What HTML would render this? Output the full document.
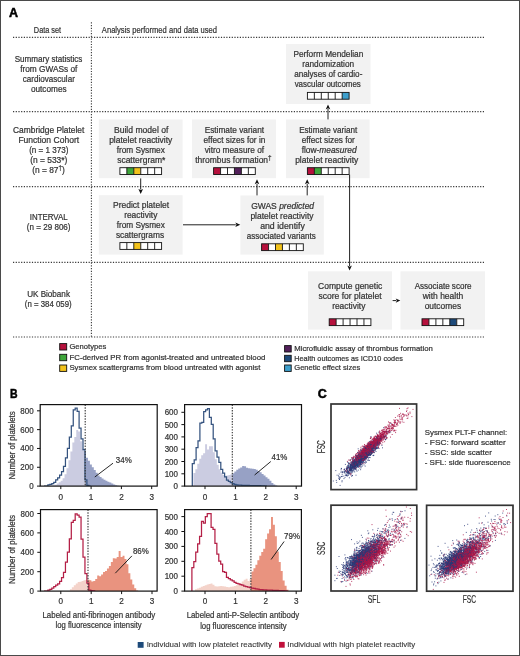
<!DOCTYPE html>
<html><head><meta charset="utf-8"><style>
html,body{margin:0;padding:0;background:#fff;}
body{width:520px;height:656px;overflow:hidden;}
svg{display:block;font-family:"Liberation Sans", sans-serif;}
</style></head><body>
<div style="will-change:transform">
<svg width="520" height="656" viewBox="0 0 520 656" fill="#333">
<rect x="0" y="0" width="520" height="656" fill="#fff"/>
<text x="9.1" y="16.5" font-size="12.5" font-weight="bold" fill="#000" stroke="#000" stroke-width="0.5">A</text>
<text x="47.5" y="32.9" font-size="9.4" text-anchor="middle" stroke="#333" stroke-width="0.22" textLength="27.30" lengthAdjust="spacingAndGlyphs">Data set</text>
<text x="159.45" y="33.0" font-size="9.4" text-anchor="middle" stroke="#333" stroke-width="0.22" textLength="115.20" lengthAdjust="spacingAndGlyphs">Analysis performed and data used</text>
<line x1="13" y1="37.4" x2="485" y2="37.4" stroke="#3a3a3a" stroke-width="1.1" stroke-dasharray="1.2 1.5"/>
<line x1="13" y1="111.6" x2="485" y2="111.6" stroke="#3a3a3a" stroke-width="1.1" stroke-dasharray="1.2 1.5"/>
<line x1="13" y1="186.6" x2="485" y2="186.6" stroke="#3a3a3a" stroke-width="1.1" stroke-dasharray="1.2 1.5"/>
<line x1="13" y1="262.4" x2="485" y2="262.4" stroke="#3a3a3a" stroke-width="1.1" stroke-dasharray="1.2 1.5"/>
<line x1="13" y1="337.0" x2="485" y2="337.0" stroke="#3a3a3a" stroke-width="1.1" stroke-dasharray="1.2 1.5"/>
<line x1="91.4" y1="22.3" x2="91.4" y2="337" stroke="#3a3a3a" stroke-width="1.1" stroke-dasharray="1.2 1.5"/>
<text x="48.5" y="62.4" font-size="8.7" text-anchor="middle" stroke="#333" stroke-width="0.22" textLength="67.70" lengthAdjust="spacingAndGlyphs">Summary statistics</text>
<text x="48.75" y="72.4" font-size="8.7" text-anchor="middle" stroke="#333" stroke-width="0.22" textLength="57.20" lengthAdjust="spacingAndGlyphs">from GWASs of</text>
<text x="48.75" y="82.4" font-size="8.7" text-anchor="middle" stroke="#333" stroke-width="0.22" textLength="52.20" lengthAdjust="spacingAndGlyphs">cardiovascular</text>
<text x="48.75" y="92.4" font-size="8.7" text-anchor="middle" stroke="#333" stroke-width="0.22" textLength="35.70" lengthAdjust="spacingAndGlyphs">outcomes</text>
<text x="48.7" y="132.7" font-size="8.7" text-anchor="middle" stroke="#333" stroke-width="0.22" textLength="71.30" lengthAdjust="spacingAndGlyphs">Cambridge Platelet</text>
<text x="48.75" y="142.7" font-size="8.7" text-anchor="middle" stroke="#333" stroke-width="0.22" textLength="60.70" lengthAdjust="spacingAndGlyphs">Function Cohort</text>
<text x="48.75" y="152.7" font-size="8.7" text-anchor="middle" stroke="#333" stroke-width="0.22" textLength="39.20" lengthAdjust="spacingAndGlyphs">(n = 1 373)</text>
<text x="48.75" y="162.7" font-size="8.7" text-anchor="middle" stroke="#333" stroke-width="0.22" textLength="37.20" lengthAdjust="spacingAndGlyphs">(n = 533*)</text>
<text x="48.5" y="172.7" font-size="8.7" text-anchor="middle" stroke="#333" stroke-width="0.22" textLength="32.70" lengthAdjust="spacingAndGlyphs">(n = 87<tspan font-size="6.5" dy="-2.8">†</tspan><tspan dy="2.8">)</tspan></text>
<text x="48.75" y="219.9" font-size="8.7" text-anchor="middle" stroke="#333" stroke-width="0.22" textLength="37.80" lengthAdjust="spacingAndGlyphs">INTERVAL</text>
<text x="48.7" y="229.9" font-size="8.7" text-anchor="middle" stroke="#333" stroke-width="0.22" textLength="43.70" lengthAdjust="spacingAndGlyphs">(n = 29 806)</text>
<text x="48.55" y="296.9" font-size="8.7" text-anchor="middle" stroke="#333" stroke-width="0.22" textLength="42.80" lengthAdjust="spacingAndGlyphs">UK Biobank</text>
<text x="48.25" y="306.7" font-size="8.7" text-anchor="middle" stroke="#333" stroke-width="0.22" textLength="46.80" lengthAdjust="spacingAndGlyphs">(n = 384 059)</text>
<rect x="286" y="44" width="84.50" height="60.00" fill="#f2f2f2"/>
<text x="328.38" y="57.3" font-size="8.7" text-anchor="middle" stroke="#333" stroke-width="0.22" textLength="69.95" lengthAdjust="spacingAndGlyphs">Perform Mendelian</text>
<text x="328.12" y="67.3" font-size="8.7" text-anchor="middle" stroke="#333" stroke-width="0.22" textLength="51.95" lengthAdjust="spacingAndGlyphs">randomization</text>
<text x="328.25" y="77.3" font-size="8.7" text-anchor="middle" stroke="#333" stroke-width="0.22" textLength="68.20" lengthAdjust="spacingAndGlyphs">analyses of cardio-</text>
<text x="327.75" y="87.3" font-size="8.7" text-anchor="middle" stroke="#333" stroke-width="0.22" textLength="66.20" lengthAdjust="spacingAndGlyphs">vascular outcomes</text>
<rect x="307.40" y="92.4" width="6.95" height="6.8" fill="#ffffff"/>
<rect x="314.35" y="92.4" width="6.95" height="6.8" fill="#ffffff"/>
<rect x="321.30" y="92.4" width="6.95" height="6.8" fill="#ffffff"/>
<rect x="328.25" y="92.4" width="6.95" height="6.8" fill="#ffffff"/>
<rect x="335.20" y="92.4" width="6.95" height="6.8" fill="#ffffff"/>
<rect x="342.15" y="92.4" width="6.95" height="6.8" fill="#3d9fcc"/>
<rect x="307.4" y="92.4" width="41.70" height="6.8" fill="none" stroke="#111" stroke-width="0.9"/>
<line x1="314.35" y1="92.4" x2="314.35" y2="99.2" stroke="#111" stroke-width="0.9"/>
<line x1="321.30" y1="92.4" x2="321.30" y2="99.2" stroke="#111" stroke-width="0.9"/>
<line x1="328.25" y1="92.4" x2="328.25" y2="99.2" stroke="#111" stroke-width="0.9"/>
<line x1="335.20" y1="92.4" x2="335.20" y2="99.2" stroke="#111" stroke-width="0.9"/>
<line x1="342.15" y1="92.4" x2="342.15" y2="99.2" stroke="#111" stroke-width="0.9"/>
<rect x="98.8" y="119.5" width="83.80" height="58.70" fill="#f2f2f2"/>
<text x="141.15" y="132.6" font-size="8.7" text-anchor="middle" stroke="#333" stroke-width="0.22" textLength="54.40" lengthAdjust="spacingAndGlyphs">Build model of</text>
<text x="140.75" y="142.6" font-size="8.7" text-anchor="middle" stroke="#333" stroke-width="0.22" textLength="63.20" lengthAdjust="spacingAndGlyphs">platelet reactivity</text>
<text x="140.75" y="152.6" font-size="8.7" text-anchor="middle" stroke="#333" stroke-width="0.22" textLength="48.20" lengthAdjust="spacingAndGlyphs">from Sysmex</text>
<text x="141.25" y="162.6" font-size="8.7" text-anchor="middle" stroke="#333" stroke-width="0.22" textLength="48.20" lengthAdjust="spacingAndGlyphs">scattergram*</text>
<rect x="119.90" y="167.7" width="6.95" height="6.8" fill="#ffffff"/>
<rect x="126.85" y="167.7" width="6.95" height="6.8" fill="#3da63a"/>
<rect x="133.80" y="167.7" width="6.95" height="6.8" fill="#f2c21b"/>
<rect x="140.75" y="167.7" width="6.95" height="6.8" fill="#ffffff"/>
<rect x="147.70" y="167.7" width="6.95" height="6.8" fill="#ffffff"/>
<rect x="154.65" y="167.7" width="6.95" height="6.8" fill="#ffffff"/>
<rect x="119.9" y="167.7" width="41.70" height="6.8" fill="none" stroke="#111" stroke-width="0.9"/>
<line x1="126.85" y1="167.7" x2="126.85" y2="174.5" stroke="#111" stroke-width="0.9"/>
<line x1="133.80" y1="167.7" x2="133.80" y2="174.5" stroke="#111" stroke-width="0.9"/>
<line x1="140.75" y1="167.7" x2="140.75" y2="174.5" stroke="#111" stroke-width="0.9"/>
<line x1="147.70" y1="167.7" x2="147.70" y2="174.5" stroke="#111" stroke-width="0.9"/>
<line x1="154.65" y1="167.7" x2="154.65" y2="174.5" stroke="#111" stroke-width="0.9"/>
<rect x="192" y="119.5" width="84.00" height="58.70" fill="#f2f2f2"/>
<text x="234.38" y="132.6" font-size="8.7" text-anchor="middle" stroke="#333" stroke-width="0.22" textLength="59.45" lengthAdjust="spacingAndGlyphs">Estimate variant</text>
<text x="234.38" y="142.6" font-size="8.7" text-anchor="middle" stroke="#333" stroke-width="0.22" textLength="61.95" lengthAdjust="spacingAndGlyphs">effect sizes for in</text>
<text x="234.38" y="152.6" font-size="8.7" text-anchor="middle" stroke="#333" stroke-width="0.22" textLength="59.45" lengthAdjust="spacingAndGlyphs">vitro measure of</text>
<text x="233.38" y="162.6" font-size="8.7" text-anchor="middle" stroke="#333" stroke-width="0.22" textLength="76.45" lengthAdjust="spacingAndGlyphs">thrombus formation<tspan font-size="6.5" dy="-2.8">†</tspan></text>
<rect x="213.60" y="167.7" width="6.95" height="6.8" fill="#b5103c"/>
<rect x="220.55" y="167.7" width="6.95" height="6.8" fill="#ffffff"/>
<rect x="227.50" y="167.7" width="6.95" height="6.8" fill="#ffffff"/>
<rect x="234.45" y="167.7" width="6.95" height="6.8" fill="#52205a"/>
<rect x="241.40" y="167.7" width="6.95" height="6.8" fill="#ffffff"/>
<rect x="248.35" y="167.7" width="6.95" height="6.8" fill="#ffffff"/>
<rect x="213.6" y="167.7" width="41.70" height="6.8" fill="none" stroke="#111" stroke-width="0.9"/>
<line x1="220.55" y1="167.7" x2="220.55" y2="174.5" stroke="#111" stroke-width="0.9"/>
<line x1="227.50" y1="167.7" x2="227.50" y2="174.5" stroke="#111" stroke-width="0.9"/>
<line x1="234.45" y1="167.7" x2="234.45" y2="174.5" stroke="#111" stroke-width="0.9"/>
<line x1="241.40" y1="167.7" x2="241.40" y2="174.5" stroke="#111" stroke-width="0.9"/>
<line x1="248.35" y1="167.7" x2="248.35" y2="174.5" stroke="#111" stroke-width="0.9"/>
<rect x="286" y="119.5" width="83.60" height="58.70" fill="#f2f2f2"/>
<text x="328.25" y="132.6" font-size="8.7" text-anchor="middle" stroke="#333" stroke-width="0.22" textLength="58.20" lengthAdjust="spacingAndGlyphs">Estimate variant</text>
<text x="328.25" y="142.6" font-size="8.7" text-anchor="middle" stroke="#333" stroke-width="0.22" textLength="53.20" lengthAdjust="spacingAndGlyphs">effect sizes for</text>
<text x="329.12" y="152.6" font-size="8.7" text-anchor="middle" stroke="#333" stroke-width="0.22" textLength="54.95" lengthAdjust="spacingAndGlyphs">flow-<tspan font-style="italic">measured</tspan></text>
<text x="326.75" y="162.6" font-size="8.7" text-anchor="middle" stroke="#333" stroke-width="0.22" textLength="63.20" lengthAdjust="spacingAndGlyphs">platelet reactivity</text>
<rect x="307.40" y="167.7" width="6.95" height="6.8" fill="#b5103c"/>
<rect x="314.35" y="167.7" width="6.95" height="6.8" fill="#3da63a"/>
<rect x="321.30" y="167.7" width="6.95" height="6.8" fill="#ffffff"/>
<rect x="328.25" y="167.7" width="6.95" height="6.8" fill="#ffffff"/>
<rect x="335.20" y="167.7" width="6.95" height="6.8" fill="#ffffff"/>
<rect x="342.15" y="167.7" width="6.95" height="6.8" fill="#ffffff"/>
<rect x="307.4" y="167.7" width="41.70" height="6.8" fill="none" stroke="#111" stroke-width="0.9"/>
<line x1="314.35" y1="167.7" x2="314.35" y2="174.5" stroke="#111" stroke-width="0.9"/>
<line x1="321.30" y1="167.7" x2="321.30" y2="174.5" stroke="#111" stroke-width="0.9"/>
<line x1="328.25" y1="167.7" x2="328.25" y2="174.5" stroke="#111" stroke-width="0.9"/>
<line x1="335.20" y1="167.7" x2="335.20" y2="174.5" stroke="#111" stroke-width="0.9"/>
<line x1="342.15" y1="167.7" x2="342.15" y2="174.5" stroke="#111" stroke-width="0.9"/>
<rect x="98.8" y="195.2" width="83.80" height="59.40" fill="#f2f2f2"/>
<text x="141.07" y="207.7" font-size="8.7" text-anchor="middle" stroke="#333" stroke-width="0.22" textLength="56.05" lengthAdjust="spacingAndGlyphs">Predict platelet</text>
<text x="140.75" y="217.7" font-size="8.7" text-anchor="middle" stroke="#333" stroke-width="0.22" textLength="33.20" lengthAdjust="spacingAndGlyphs">reactivity</text>
<text x="140.75" y="227.7" font-size="8.7" text-anchor="middle" stroke="#333" stroke-width="0.22" textLength="48.20" lengthAdjust="spacingAndGlyphs">from Sysmex</text>
<text x="140.0" y="237.7" font-size="8.7" text-anchor="middle" stroke="#333" stroke-width="0.22" textLength="48.20" lengthAdjust="spacingAndGlyphs">scattergrams</text>
<rect x="119.90" y="242.6" width="6.95" height="6.8" fill="#ffffff"/>
<rect x="126.85" y="242.6" width="6.95" height="6.8" fill="#ffffff"/>
<rect x="133.80" y="242.6" width="6.95" height="6.8" fill="#f2c21b"/>
<rect x="140.75" y="242.6" width="6.95" height="6.8" fill="#ffffff"/>
<rect x="147.70" y="242.6" width="6.95" height="6.8" fill="#ffffff"/>
<rect x="154.65" y="242.6" width="6.95" height="6.8" fill="#ffffff"/>
<rect x="119.9" y="242.6" width="41.70" height="6.8" fill="none" stroke="#111" stroke-width="0.9"/>
<line x1="126.85" y1="242.6" x2="126.85" y2="249.4" stroke="#111" stroke-width="0.9"/>
<line x1="133.80" y1="242.6" x2="133.80" y2="249.4" stroke="#111" stroke-width="0.9"/>
<line x1="140.75" y1="242.6" x2="140.75" y2="249.4" stroke="#111" stroke-width="0.9"/>
<line x1="147.70" y1="242.6" x2="147.70" y2="249.4" stroke="#111" stroke-width="0.9"/>
<line x1="154.65" y1="242.6" x2="154.65" y2="249.4" stroke="#111" stroke-width="0.9"/>
<rect x="240.4" y="195.5" width="83.40" height="59.10" fill="#f2f2f2"/>
<text x="282.62" y="208.6" font-size="8.7" text-anchor="middle" stroke="#333" stroke-width="0.22" textLength="62.95" lengthAdjust="spacingAndGlyphs">GWAS <tspan font-style="italic">predicted</tspan></text>
<text x="282.0" y="218.6" font-size="8.7" text-anchor="middle" stroke="#333" stroke-width="0.22" textLength="63.20" lengthAdjust="spacingAndGlyphs">platelet reactivity</text>
<text x="282.5" y="228.6" font-size="8.7" text-anchor="middle" stroke="#333" stroke-width="0.22" textLength="44.70" lengthAdjust="spacingAndGlyphs">and identify</text>
<text x="281.25" y="238.6" font-size="8.7" text-anchor="middle" stroke="#333" stroke-width="0.22" textLength="69.20" lengthAdjust="spacingAndGlyphs">associated variants</text>
<rect x="261.60" y="243.8" width="6.95" height="6.8" fill="#b5103c"/>
<rect x="268.55" y="243.8" width="6.95" height="6.8" fill="#ffffff"/>
<rect x="275.50" y="243.8" width="6.95" height="6.8" fill="#f2c21b"/>
<rect x="282.45" y="243.8" width="6.95" height="6.8" fill="#ffffff"/>
<rect x="289.40" y="243.8" width="6.95" height="6.8" fill="#ffffff"/>
<rect x="296.35" y="243.8" width="6.95" height="6.8" fill="#ffffff"/>
<rect x="261.6" y="243.8" width="41.70" height="6.8" fill="none" stroke="#111" stroke-width="0.9"/>
<line x1="268.55" y1="243.8" x2="268.55" y2="250.60000000000002" stroke="#111" stroke-width="0.9"/>
<line x1="275.50" y1="243.8" x2="275.50" y2="250.60000000000002" stroke="#111" stroke-width="0.9"/>
<line x1="282.45" y1="243.8" x2="282.45" y2="250.60000000000002" stroke="#111" stroke-width="0.9"/>
<line x1="289.40" y1="243.8" x2="289.40" y2="250.60000000000002" stroke="#111" stroke-width="0.9"/>
<line x1="296.35" y1="243.8" x2="296.35" y2="250.60000000000002" stroke="#111" stroke-width="0.9"/>
<rect x="308" y="271.3" width="84.00" height="58.30" fill="#f2f2f2"/>
<text x="350.2" y="288.5" font-size="8.7" text-anchor="middle" stroke="#333" stroke-width="0.22" textLength="64.30" lengthAdjust="spacingAndGlyphs">Compute genetic</text>
<text x="350.0" y="298.5" font-size="8.7" text-anchor="middle" stroke="#333" stroke-width="0.22" textLength="63.20" lengthAdjust="spacingAndGlyphs">score for platelet</text>
<text x="348.75" y="308.5" font-size="8.7" text-anchor="middle" stroke="#333" stroke-width="0.22" textLength="33.20" lengthAdjust="spacingAndGlyphs">reactivity</text>
<rect x="329.20" y="318.8" width="6.95" height="6.8" fill="#b5103c"/>
<rect x="336.15" y="318.8" width="6.95" height="6.8" fill="#ffffff"/>
<rect x="343.10" y="318.8" width="6.95" height="6.8" fill="#ffffff"/>
<rect x="350.05" y="318.8" width="6.95" height="6.8" fill="#ffffff"/>
<rect x="357.00" y="318.8" width="6.95" height="6.8" fill="#ffffff"/>
<rect x="363.95" y="318.8" width="6.95" height="6.8" fill="#ffffff"/>
<rect x="329.2" y="318.8" width="41.70" height="6.8" fill="none" stroke="#111" stroke-width="0.9"/>
<line x1="336.15" y1="318.8" x2="336.15" y2="325.6" stroke="#111" stroke-width="0.9"/>
<line x1="343.10" y1="318.8" x2="343.10" y2="325.6" stroke="#111" stroke-width="0.9"/>
<line x1="350.05" y1="318.8" x2="350.05" y2="325.6" stroke="#111" stroke-width="0.9"/>
<line x1="357.00" y1="318.8" x2="357.00" y2="325.6" stroke="#111" stroke-width="0.9"/>
<line x1="363.95" y1="318.8" x2="363.95" y2="325.6" stroke="#111" stroke-width="0.9"/>
<rect x="400.5" y="271.3" width="84.50" height="58.30" fill="#f2f2f2"/>
<text x="443.12" y="288.5" font-size="8.7" text-anchor="middle" stroke="#333" stroke-width="0.22" textLength="56.95" lengthAdjust="spacingAndGlyphs">Associate score</text>
<text x="443.0" y="298.5" font-size="8.7" text-anchor="middle" stroke="#333" stroke-width="0.22" textLength="40.70" lengthAdjust="spacingAndGlyphs">with health</text>
<text x="442.88" y="308.5" font-size="8.7" text-anchor="middle" stroke="#333" stroke-width="0.22" textLength="36.45" lengthAdjust="spacingAndGlyphs">outcomes</text>
<rect x="422.00" y="318.8" width="6.95" height="6.8" fill="#b5103c"/>
<rect x="428.95" y="318.8" width="6.95" height="6.8" fill="#ffffff"/>
<rect x="435.90" y="318.8" width="6.95" height="6.8" fill="#ffffff"/>
<rect x="442.85" y="318.8" width="6.95" height="6.8" fill="#ffffff"/>
<rect x="449.80" y="318.8" width="6.95" height="6.8" fill="#1d4a7a"/>
<rect x="456.75" y="318.8" width="6.95" height="6.8" fill="#ffffff"/>
<rect x="422" y="318.8" width="41.70" height="6.8" fill="none" stroke="#111" stroke-width="0.9"/>
<line x1="428.95" y1="318.8" x2="428.95" y2="325.6" stroke="#111" stroke-width="0.9"/>
<line x1="435.90" y1="318.8" x2="435.90" y2="325.6" stroke="#111" stroke-width="0.9"/>
<line x1="442.85" y1="318.8" x2="442.85" y2="325.6" stroke="#111" stroke-width="0.9"/>
<line x1="449.80" y1="318.8" x2="449.80" y2="325.6" stroke="#111" stroke-width="0.9"/>
<line x1="456.75" y1="318.8" x2="456.75" y2="325.6" stroke="#111" stroke-width="0.9"/>
<line x1="140.7" y1="178.4" x2="140.70" y2="189.40" stroke="#222" stroke-width="1"/>
<path d="M140.70 193.90L138.40 188.90L140.70 190.10L143.00 188.90Z" fill="#111"/>
<line x1="257" y1="195.4" x2="257.00" y2="183.80" stroke="#222" stroke-width="1"/>
<path d="M257.00 179.30L259.30 184.30L257.00 183.10L254.70 184.30Z" fill="#111"/>
<line x1="307.2" y1="195.4" x2="307.20" y2="183.80" stroke="#222" stroke-width="1"/>
<path d="M307.20 179.30L309.50 184.30L307.20 183.10L304.90 184.30Z" fill="#111"/>
<line x1="328" y1="119.4" x2="328.00" y2="108.90" stroke="#222" stroke-width="1"/>
<path d="M328.00 104.40L330.30 109.40L328.00 108.20L325.70 109.40Z" fill="#111"/>
<line x1="183" y1="224.8" x2="235.80" y2="224.80" stroke="#222" stroke-width="1"/>
<path d="M240.30 224.80L235.30 227.10L236.50 224.80L235.30 222.50Z" fill="#111"/>
<line x1="349.6" y1="174.6" x2="349.60" y2="266.10" stroke="#222" stroke-width="1"/>
<path d="M349.60 270.60L347.30 265.60L349.60 266.80L351.90 265.60Z" fill="#111"/>
<line x1="392.6" y1="300.6" x2="396.20" y2="300.60" stroke="#222" stroke-width="1"/>
<path d="M400.30 300.60L395.70 302.80L396.90 300.60L395.70 298.40Z" fill="#111"/>
<rect x="59.7" y="343.60" width="7" height="6.4" fill="#b5103c" stroke="#111" stroke-width="0.9"/>
<text x="87.85" y="348.8" font-size="8.0" text-anchor="middle" stroke="#333" stroke-width="0.22" textLength="36.80" lengthAdjust="spacingAndGlyphs">Genotypes</text>
<rect x="59.7" y="354.30" width="7" height="6.4" fill="#3da63a" stroke="#111" stroke-width="0.9"/>
<text x="167.4" y="359.5" font-size="8.0" text-anchor="middle" stroke="#333" stroke-width="0.22" textLength="195.90" lengthAdjust="spacingAndGlyphs">FC-derived PR from agonist-treated and untreated blood</text>
<rect x="59.7" y="365.00" width="7" height="6.4" fill="#f2c21b" stroke="#111" stroke-width="0.9"/>
<text x="164.9" y="370.2" font-size="8.0" text-anchor="middle" stroke="#333" stroke-width="0.22" textLength="190.90" lengthAdjust="spacingAndGlyphs">Sysmex scattergrams from blood untreated with agonist</text>
<rect x="284.6" y="345.60" width="6.6" height="6.4" fill="#52205a" stroke="#111" stroke-width="0.9"/>
<text x="363.55" y="351.0" font-size="8.0" text-anchor="middle" stroke="#333" stroke-width="0.22" textLength="138.60" lengthAdjust="spacingAndGlyphs">Microfluidic assay of thrombus formation</text>
<rect x="284.6" y="355.30" width="6.6" height="6.4" fill="#1d4a7a" stroke="#111" stroke-width="0.9"/>
<text x="348.55" y="360.7" font-size="8.0" text-anchor="middle" stroke="#333" stroke-width="0.22" textLength="108.60" lengthAdjust="spacingAndGlyphs">Health outcomes as ICD10 codes</text>
<rect x="284.6" y="365.00" width="6.6" height="6.4" fill="#3d9fcc" stroke="#111" stroke-width="0.9"/>
<text x="327.3" y="370.4" font-size="8.0" text-anchor="middle" stroke="#333" stroke-width="0.22" textLength="66.10" lengthAdjust="spacingAndGlyphs">Genetic effect sizes</text>
<text x="0" y="0" font-size="12.5" font-weight="bold" fill="#000" stroke="#000" stroke-width="0.5" transform="translate(10.1 397.9) scale(0.84 1)">B</text>
<defs><clipPath id="c40404"><rect x="40.2" y="404.6" width="116.99999999999999" height="81.5"/></clipPath></defs>
<g clip-path="url(#c40404)">
<path d="M47.00 486.1L47.00 486.10L48.95 486.10L48.95 486.10L50.90 486.10L50.90 485.55L52.85 485.55L52.85 485.27L54.80 485.27L54.80 484.66L56.75 484.66L56.75 483.54L58.70 483.54L58.70 482.24L60.65 482.24L60.65 480.81L62.60 480.81L62.60 478.30L64.55 478.30L64.55 474.33L66.50 474.33L66.50 468.27L68.45 468.27L68.45 460.36L70.40 460.36L70.40 451.53L72.35 451.53L72.35 442.56L74.30 442.56L74.30 436.95L76.25 436.95L76.25 430.11L78.20 430.11L78.20 431.58L80.15 431.58L80.15 441.33L82.10 441.33L82.10 448.76L84.05 448.76L84.05 451.98L85.20 451.98L85.20 486.1Z" fill="#cbcce1"/>
<path d="M85.20 486.1L85.20 451.98L86.00 451.98L86.00 457.76L87.95 457.76L87.95 460.69L89.90 460.69L89.90 464.45L91.85 464.45L91.85 467.17L93.80 467.17L93.80 470.11L95.75 470.11L95.75 472.83L97.70 472.83L97.70 475.38L99.65 475.38L99.65 477.03L101.60 477.03L101.60 478.39L103.55 478.39L103.55 479.71L105.50 479.71L105.50 480.80L107.45 480.80L107.45 481.72L109.40 481.72L109.40 482.59L111.35 482.59L111.35 483.56L113.30 483.56L113.30 484.54L115.25 484.54L115.25 485.16L117.20 485.16L117.20 485.71L119.15 485.71L119.15 486.10L121.10 486.10L121.10 486.1Z" fill="#97a1c5"/>
<path d="M44.00 486.1L44.00 486.10L45.95 486.10L45.95 486.10L47.90 486.10L47.90 484.90L49.85 484.90L49.85 484.31L51.80 484.31L51.80 483.61L53.75 483.61L53.75 482.29L55.70 482.29L55.70 479.92L57.65 479.92L57.65 477.80L59.60 477.80L59.60 475.14L61.55 475.14L61.55 471.65L63.50 471.65L63.50 466.38L65.45 466.38L65.45 457.94L67.40 457.94L67.40 448.35L69.35 448.35L69.35 437.16L71.30 437.16L71.30 425.94L73.25 425.94L73.25 409.84L75.20 409.84L75.20 408.06L77.15 408.06L77.15 411.36L79.10 411.36L79.10 428.17L81.05 428.17L81.05 438.79L83.00 438.79L83.00 449.64L84.95 449.64L84.95 479.98L86.90 479.98L86.90 485.31L88.85 485.31L88.85 486.10L90.80 486.10L90.80 486.1" fill="none" stroke="#35537f" stroke-width="1.25"/>
<line x1="85.2" y1="404.6" x2="85.2" y2="486.1" stroke="#333" stroke-width="1.1" stroke-dasharray="1.4 1.33"/>
</g>
<rect x="40.2" y="404.6" width="116.99999999999999" height="81.5" fill="none" stroke="#111" stroke-width="1.2"/>
<line x1="60.80" y1="486.1" x2="60.80" y2="489.1" stroke="#111" stroke-width="1"/>
<text x="0" y="0" font-size="8.6" text-anchor="middle" stroke="#333" stroke-width="0.22" transform="translate(60.8 500.3) scale(0.95 1)">0</text>
<line x1="91.10" y1="486.1" x2="91.10" y2="489.1" stroke="#111" stroke-width="1"/>
<text x="0" y="0" font-size="8.6" text-anchor="middle" stroke="#333" stroke-width="0.22" transform="translate(91.1 500.3) scale(0.95 1)">1</text>
<line x1="121.40" y1="486.1" x2="121.40" y2="489.1" stroke="#111" stroke-width="1"/>
<text x="0" y="0" font-size="8.6" text-anchor="middle" stroke="#333" stroke-width="0.22" transform="translate(121.4 500.3) scale(0.95 1)">2</text>
<line x1="151.70" y1="486.1" x2="151.70" y2="489.1" stroke="#111" stroke-width="1"/>
<text x="0" y="0" font-size="8.6" text-anchor="middle" stroke="#333" stroke-width="0.22" transform="translate(151.7 500.3) scale(0.95 1)">3</text>
<line x1="37.0" y1="486.10" x2="40.2" y2="486.10" stroke="#111" stroke-width="1"/>
<text x="0" y="0" font-size="8.6" text-anchor="end" stroke="#333" stroke-width="0.22" transform="translate(33.6 489.1) scale(0.93 1)">0</text>
<line x1="37.0" y1="467.28" x2="40.2" y2="467.28" stroke="#111" stroke-width="1"/>
<text x="0" y="0" font-size="8.6" text-anchor="end" stroke="#333" stroke-width="0.22" transform="translate(33.6 470.28) scale(0.93 1)">200</text>
<line x1="37.0" y1="448.46" x2="40.2" y2="448.46" stroke="#111" stroke-width="1"/>
<text x="0" y="0" font-size="8.6" text-anchor="end" stroke="#333" stroke-width="0.22" transform="translate(33.6 451.46) scale(0.93 1)">400</text>
<line x1="37.0" y1="429.64" x2="40.2" y2="429.64" stroke="#111" stroke-width="1"/>
<text x="0" y="0" font-size="8.6" text-anchor="end" stroke="#333" stroke-width="0.22" transform="translate(33.6 432.64) scale(0.93 1)">600</text>
<line x1="37.0" y1="410.82" x2="40.2" y2="410.82" stroke="#111" stroke-width="1"/>
<text x="0" y="0" font-size="8.6" text-anchor="end" stroke="#333" stroke-width="0.22" transform="translate(33.6 413.82) scale(0.93 1)">800</text>
<text x="115.8" y="463.4" font-size="8.7" stroke="#333" stroke-width="0.22" textLength="15.90" lengthAdjust="spacingAndGlyphs">34%</text>
<line x1="113.0" y1="463.2" x2="94.8" y2="477.0" stroke="#111" stroke-width="0.9"/>
<defs><clipPath id="c184404"><rect x="184.6" y="404.6" width="116.9" height="81.5"/></clipPath></defs>
<g clip-path="url(#c184404)">
<path d="M193.40 486.1L193.40 472.96L195.35 472.96L195.35 469.13L197.30 469.13L197.30 463.83L199.25 463.83L199.25 458.82L201.20 458.82L201.20 455.13L203.15 455.13L203.15 453.18L205.10 453.18L205.10 444.34L207.05 444.34L207.05 449.55L209.00 449.55L209.00 446.14L210.95 446.14L210.95 446.15L212.90 446.15L212.90 452.32L214.85 452.32L214.85 459.19L216.80 459.19L216.80 464.80L218.75 464.80L218.75 469.19L220.70 469.19L220.70 472.71L222.65 472.71L222.65 475.11L224.60 475.11L224.60 475.70L226.55 475.70L226.55 475.56L228.50 475.56L228.50 474.98L230.45 474.98L230.45 474.33L232.30 474.33L232.30 486.1Z" fill="#cbcce1"/>
<path d="M232.30 486.1L232.30 474.33L232.40 474.33L232.40 473.28L234.35 473.28L234.35 471.49L236.30 471.49L236.30 469.69L238.25 469.69L238.25 468.54L240.20 468.54L240.20 467.56L242.15 467.56L242.15 465.96L244.10 465.96L244.10 466.21L246.05 466.21L246.05 467.82L248.00 467.82L248.00 468.16L249.95 468.16L249.95 468.50L251.90 468.50L251.90 468.80L253.85 468.80L253.85 469.10L255.80 469.10L255.80 469.69L257.75 469.69L257.75 471.00L259.70 471.00L259.70 472.32L261.65 472.32L261.65 473.95L263.60 473.95L263.60 475.60L265.55 475.60L265.55 477.23L267.50 477.23L267.50 478.84L269.45 478.84L269.45 480.64L271.40 480.64L271.40 483.11L273.35 483.11L273.35 484.61L275.30 484.61L275.30 485.58L277.25 485.58L277.25 486.10L279.20 486.10L279.20 486.1Z" fill="#97a1c5"/>
<path d="M192.30 486.1L192.30 463.60L194.20 463.60L194.20 459.80L196.10 459.80L196.10 447.70L198.00 447.70L198.00 440.80L199.90 440.80L199.90 423.10L201.80 423.10L201.80 422.40L203.70 422.40L203.70 411.70L205.60 411.70L205.60 409.80L207.50 409.80L207.50 408.50L209.40 408.50L209.40 417.40L211.30 417.40L211.30 424.30L213.20 424.30L213.20 438.90L215.10 438.90L215.10 450.90L217.00 450.90L217.00 457.20L218.90 457.20L218.90 462.30L220.80 462.30L220.80 469.30L222.70 469.30L222.70 473.10L224.60 473.10L224.60 476.90L226.50 476.90L226.50 480.00L228.40 480.00L228.40 481.30L230.30 481.30L230.30 482.50L232.20 482.50L232.20 483.50L234.10 483.50L234.10 484.30L236.00 484.30L236.00 484.90L237.90 484.90L237.90 485.02L239.80 485.02L239.80 485.14L241.70 485.14L241.70 485.25L243.60 485.25L243.60 485.37L245.50 485.37L245.50 485.43L247.40 485.43L247.40 485.47L249.30 485.47L249.30 485.51L251.20 485.51L251.20 485.54L253.10 485.54L253.10 485.58L255.00 485.58L255.00 485.63L256.90 485.63L256.90 485.68L258.80 485.68L258.80 485.74L260.70 485.74L260.70 485.79L262.60 485.79L262.60 485.92L264.50 485.92L264.50 486.06L266.40 486.06L266.40 486.1" fill="none" stroke="#35537f" stroke-width="1.25"/>
<line x1="232.3" y1="404.6" x2="232.3" y2="486.1" stroke="#333" stroke-width="1.1" stroke-dasharray="1.4 1.33"/>
</g>
<rect x="184.6" y="404.6" width="116.9" height="81.5" fill="none" stroke="#111" stroke-width="1.2"/>
<line x1="205.00" y1="486.1" x2="205.00" y2="489.1" stroke="#111" stroke-width="1"/>
<text x="0" y="0" font-size="8.6" text-anchor="middle" stroke="#333" stroke-width="0.22" transform="translate(205.0 500.3) scale(0.95 1)">0</text>
<line x1="235.40" y1="486.1" x2="235.40" y2="489.1" stroke="#111" stroke-width="1"/>
<text x="0" y="0" font-size="8.6" text-anchor="middle" stroke="#333" stroke-width="0.22" transform="translate(235.4 500.3) scale(0.95 1)">1</text>
<line x1="265.80" y1="486.1" x2="265.80" y2="489.1" stroke="#111" stroke-width="1"/>
<text x="0" y="0" font-size="8.6" text-anchor="middle" stroke="#333" stroke-width="0.22" transform="translate(265.8 500.3) scale(0.95 1)">2</text>
<line x1="296.20" y1="486.1" x2="296.20" y2="489.1" stroke="#111" stroke-width="1"/>
<text x="0" y="0" font-size="8.6" text-anchor="middle" stroke="#333" stroke-width="0.22" transform="translate(296.2 500.3) scale(0.95 1)">3</text>
<line x1="181.4" y1="486.10" x2="184.6" y2="486.10" stroke="#111" stroke-width="1"/>
<text x="0" y="0" font-size="8.6" text-anchor="end" stroke="#333" stroke-width="0.22" transform="translate(178.0 489.1) scale(0.93 1)">0</text>
<line x1="181.4" y1="473.80" x2="184.6" y2="473.80" stroke="#111" stroke-width="1"/>
<text x="0" y="0" font-size="8.6" text-anchor="end" stroke="#333" stroke-width="0.22" transform="translate(178.0 476.8) scale(0.93 1)">100</text>
<line x1="181.4" y1="461.50" x2="184.6" y2="461.50" stroke="#111" stroke-width="1"/>
<text x="0" y="0" font-size="8.6" text-anchor="end" stroke="#333" stroke-width="0.22" transform="translate(178.0 464.5) scale(0.93 1)">200</text>
<line x1="181.4" y1="449.20" x2="184.6" y2="449.20" stroke="#111" stroke-width="1"/>
<text x="0" y="0" font-size="8.6" text-anchor="end" stroke="#333" stroke-width="0.22" transform="translate(178.0 452.2) scale(0.93 1)">300</text>
<line x1="181.4" y1="436.90" x2="184.6" y2="436.90" stroke="#111" stroke-width="1"/>
<text x="0" y="0" font-size="8.6" text-anchor="end" stroke="#333" stroke-width="0.22" transform="translate(178.0 439.9) scale(0.93 1)">400</text>
<line x1="181.4" y1="424.60" x2="184.6" y2="424.60" stroke="#111" stroke-width="1"/>
<text x="0" y="0" font-size="8.6" text-anchor="end" stroke="#333" stroke-width="0.22" transform="translate(178.0 427.6) scale(0.93 1)">500</text>
<line x1="181.4" y1="412.30" x2="184.6" y2="412.30" stroke="#111" stroke-width="1"/>
<text x="0" y="0" font-size="8.6" text-anchor="end" stroke="#333" stroke-width="0.22" transform="translate(178.0 415.3) scale(0.93 1)">600</text>
<text x="271.5" y="460.3" font-size="8.7" stroke="#333" stroke-width="0.22" textLength="15.90" lengthAdjust="spacingAndGlyphs">41%</text>
<line x1="270.8" y1="461.5" x2="254.6" y2="475.0" stroke="#111" stroke-width="0.9"/>
<defs><clipPath id="c40509"><rect x="40.5" y="509.6" width="116.6" height="81.5"/></clipPath></defs>
<g clip-path="url(#c40509)">
<path d="M66.00 591.1L66.00 591.10L67.95 591.10L67.95 591.10L69.90 591.10L69.90 589.18L71.85 589.18L71.85 587.27L73.80 587.27L73.80 585.33L75.75 585.33L75.75 583.58L77.70 583.58L77.70 582.05L79.65 582.05L79.65 581.67L81.60 581.67L81.60 581.02L83.55 581.02L83.55 580.30L85.50 580.30L85.50 580.02L87.45 580.02L87.45 579.82L88.00 579.82L88.00 591.1Z" fill="#f4d3ca"/>
<path d="M88.00 591.1L88.00 579.82L89.40 579.82L89.40 580.36L91.35 580.36L91.35 581.52L93.30 581.52L93.30 580.90L95.25 580.90L95.25 579.05L97.20 579.05L97.20 575.62L99.15 575.62L99.15 576.19L101.10 576.19L101.10 574.54L103.05 574.54L103.05 572.07L105.00 572.07L105.00 571.00L106.95 571.00L106.95 568.52L108.90 568.52L108.90 566.03L110.85 566.03L110.85 562.05L112.80 562.05L112.80 558.31L114.75 558.31L114.75 558.55L116.70 558.55L116.70 556.96L118.65 556.96L118.65 551.11L120.60 551.11L120.60 557.00L122.55 557.00L122.55 555.82L124.50 555.82L124.50 559.00L126.45 559.00L126.45 564.14L128.40 564.14L128.40 573.14L130.35 573.14L130.35 579.50L132.30 579.50L132.30 584.54L134.25 584.54L134.25 588.30L136.20 588.30L136.20 590.55L138.15 590.55L138.15 591.1Z" fill="#e9937f"/>
<path d="M44.00 591.1L44.00 591.10L45.95 591.10L45.95 591.10L47.90 591.10L47.90 590.12L49.85 590.12L49.85 589.40L51.80 589.40L51.80 588.24L53.75 588.24L53.75 586.55L55.70 586.55L55.70 585.15L57.65 585.15L57.65 583.91L59.60 583.91L59.60 581.37L61.55 581.37L61.55 577.55L63.50 577.55L63.50 572.47L65.45 572.47L65.45 562.07L67.40 562.07L67.40 552.20L69.35 552.20L69.35 538.94L71.30 538.94L71.30 522.34L73.25 522.34L73.25 520.28L75.20 520.28L75.20 513.96L77.15 513.96L77.15 515.13L79.10 515.13L79.10 517.08L81.05 517.08L81.05 539.18L83.00 539.18L83.00 557.09L84.95 557.09L84.95 573.69L86.90 573.69L86.90 583.13L88.85 583.13L88.85 590.11L90.80 590.11L90.80 590.64L92.75 590.64L92.75 590.79L94.70 590.79L94.70 591.1" fill="none" stroke="#b41f46" stroke-width="1.25"/>
<line x1="88.0" y1="509.6" x2="88.0" y2="591.1" stroke="#333" stroke-width="1.1" stroke-dasharray="1.4 1.33"/>
</g>
<rect x="40.5" y="509.6" width="116.6" height="81.5" fill="none" stroke="#111" stroke-width="1.2"/>
<line x1="60.80" y1="591.1" x2="60.80" y2="594.1" stroke="#111" stroke-width="1"/>
<text x="0" y="0" font-size="8.6" text-anchor="middle" stroke="#333" stroke-width="0.22" transform="translate(60.8 604.1) scale(0.95 1)">0</text>
<line x1="91.20" y1="591.1" x2="91.20" y2="594.1" stroke="#111" stroke-width="1"/>
<text x="0" y="0" font-size="8.6" text-anchor="middle" stroke="#333" stroke-width="0.22" transform="translate(91.2 604.1) scale(0.95 1)">1</text>
<line x1="121.60" y1="591.1" x2="121.60" y2="594.1" stroke="#111" stroke-width="1"/>
<text x="0" y="0" font-size="8.6" text-anchor="middle" stroke="#333" stroke-width="0.22" transform="translate(121.6 604.1) scale(0.95 1)">2</text>
<line x1="152.00" y1="591.1" x2="152.00" y2="594.1" stroke="#111" stroke-width="1"/>
<text x="0" y="0" font-size="8.6" text-anchor="middle" stroke="#333" stroke-width="0.22" transform="translate(152.0 604.1) scale(0.95 1)">3</text>
<line x1="37.3" y1="591.10" x2="40.5" y2="591.10" stroke="#111" stroke-width="1"/>
<text x="0" y="0" font-size="8.6" text-anchor="end" stroke="#333" stroke-width="0.22" transform="translate(33.9 594.1) scale(0.93 1)">0</text>
<line x1="37.3" y1="571.70" x2="40.5" y2="571.70" stroke="#111" stroke-width="1"/>
<text x="0" y="0" font-size="8.6" text-anchor="end" stroke="#333" stroke-width="0.22" transform="translate(33.9 574.7) scale(0.93 1)">200</text>
<line x1="37.3" y1="552.30" x2="40.5" y2="552.30" stroke="#111" stroke-width="1"/>
<text x="0" y="0" font-size="8.6" text-anchor="end" stroke="#333" stroke-width="0.22" transform="translate(33.9 555.3) scale(0.93 1)">400</text>
<line x1="37.3" y1="532.90" x2="40.5" y2="532.90" stroke="#111" stroke-width="1"/>
<text x="0" y="0" font-size="8.6" text-anchor="end" stroke="#333" stroke-width="0.22" transform="translate(33.9 535.9) scale(0.93 1)">600</text>
<line x1="37.3" y1="513.50" x2="40.5" y2="513.50" stroke="#111" stroke-width="1"/>
<text x="0" y="0" font-size="8.6" text-anchor="end" stroke="#333" stroke-width="0.22" transform="translate(33.9 516.5) scale(0.93 1)">800</text>
<text x="132.9" y="554.4" font-size="8.7" stroke="#333" stroke-width="0.22" textLength="15.90" lengthAdjust="spacingAndGlyphs">86%</text>
<line x1="131.9" y1="555.9" x2="115.3" y2="573.2" stroke="#111" stroke-width="0.9"/>
<defs><clipPath id="c184509"><rect x="184.6" y="509.6" width="116.79999999999998" height="81.5"/></clipPath></defs>
<g clip-path="url(#c184509)">
<path d="M193.00 591.1L193.00 591.10L194.95 591.10L194.95 589.32L196.90 589.32L196.90 588.52L198.85 588.52L198.85 587.71L200.80 587.71L200.80 586.82L202.75 586.82L202.75 585.93L204.70 585.93L204.70 585.13L206.65 585.13L206.65 584.55L208.60 584.55L208.60 583.97L210.55 583.97L210.55 583.42L212.50 583.42L212.50 584.80L214.45 584.80L214.45 586.19L216.40 586.19L216.40 586.47L218.35 586.47L218.35 586.29L220.30 586.29L220.30 586.11L222.25 586.11L222.25 586.17L224.20 586.17L224.20 586.56L226.15 586.56L226.15 586.96L228.10 586.96L228.10 587.24L230.05 587.24L230.05 586.85L232.00 586.85L232.00 586.45L233.95 586.45L233.95 586.06L235.90 586.06L235.90 585.16L237.85 585.16L237.85 584.19L239.80 584.19L239.80 583.21L241.75 583.21L241.75 581.59L243.70 581.59L243.70 579.67L245.65 579.67L245.65 578.73L247.60 578.73L247.60 581.12L249.55 581.12L249.55 578.66L250.90 578.66L250.90 591.1Z" fill="#f4d3ca"/>
<path d="M250.90 591.1L250.90 578.66L251.50 578.66L251.50 571.49L253.45 571.49L253.45 568.31L255.40 568.31L255.40 564.83L257.35 564.83L257.35 560.36L259.30 560.36L259.30 555.79L261.25 555.79L261.25 551.88L263.20 551.88L263.20 548.65L265.15 548.65L265.15 539.30L267.10 539.30L267.10 533.57L269.05 533.57L269.05 529.15L271.00 529.15L271.00 517.06L272.95 517.06L272.95 524.72L274.90 524.72L274.90 536.19L276.85 536.19L276.85 551.55L278.80 551.55L278.80 561.91L280.75 561.91L280.75 571.04L282.70 571.04L282.70 580.56L284.65 580.56L284.65 585.84L286.60 585.84L286.60 589.66L288.55 589.66L288.55 591.1Z" fill="#e9937f"/>
<path d="M191.90 591.1L191.90 567.60L193.82 567.60L193.82 561.60L195.74 561.60L195.74 552.10L197.66 552.10L197.66 543.90L199.58 543.90L199.58 536.30L201.50 536.30L201.50 521.40L203.42 521.40L203.42 523.00L205.34 523.00L205.34 516.70L207.26 516.70L207.26 513.50L209.18 513.50L209.18 513.50L211.10 513.50L211.10 527.40L213.02 527.40L213.02 529.30L214.94 529.30L214.94 543.30L216.86 543.30L216.86 554.00L218.78 554.00L218.78 561.00L220.70 561.00L220.70 564.10L222.62 564.10L222.62 571.70L224.54 571.70L224.54 572.40L226.46 572.40L226.46 577.40L228.38 577.40L228.38 578.60L230.30 578.60L230.30 579.90L232.22 579.90L232.22 580.90L234.14 580.90L234.14 582.30L236.06 582.30L236.06 583.30L237.98 583.30L237.98 583.90L239.90 583.90L239.90 584.50L241.82 584.50L241.82 585.10L243.74 585.10L243.74 586.00L245.66 586.00L245.66 586.64L247.58 586.64L247.58 587.21L249.50 587.21L249.50 587.59L251.42 587.59L251.42 588.00L253.34 588.00L253.34 588.44L255.26 588.44L255.26 588.82L257.18 588.82L257.18 589.17L259.10 589.17L259.10 589.50L261.02 589.50L261.02 589.65L262.94 589.65L262.94 589.79L264.86 589.79L264.86 589.94L266.78 589.94L266.78 590.08L268.70 590.08L268.70 590.16L270.62 590.16L270.62 590.23L272.54 590.23L272.54 590.31L274.46 590.31L274.46 590.38L276.38 590.38L276.38 590.46L278.30 590.46L278.30 590.54L280.22 590.54L280.22 590.62L282.14 590.62L282.14 590.71L284.06 590.71L284.06 590.97L285.98 590.97L285.98 591.10L287.90 591.10L287.90 591.1" fill="none" stroke="#b41f46" stroke-width="1.25"/>
<line x1="250.9" y1="509.6" x2="250.9" y2="591.1" stroke="#333" stroke-width="1.1" stroke-dasharray="1.4 1.33"/>
</g>
<rect x="184.6" y="509.6" width="116.79999999999998" height="81.5" fill="none" stroke="#111" stroke-width="1.2"/>
<line x1="205.00" y1="591.1" x2="205.00" y2="594.1" stroke="#111" stroke-width="1"/>
<text x="0" y="0" font-size="8.6" text-anchor="middle" stroke="#333" stroke-width="0.22" transform="translate(205.0 604.1) scale(0.95 1)">0</text>
<line x1="235.40" y1="591.1" x2="235.40" y2="594.1" stroke="#111" stroke-width="1"/>
<text x="0" y="0" font-size="8.6" text-anchor="middle" stroke="#333" stroke-width="0.22" transform="translate(235.4 604.1) scale(0.95 1)">1</text>
<line x1="265.80" y1="591.1" x2="265.80" y2="594.1" stroke="#111" stroke-width="1"/>
<text x="0" y="0" font-size="8.6" text-anchor="middle" stroke="#333" stroke-width="0.22" transform="translate(265.8 604.1) scale(0.95 1)">2</text>
<line x1="296.20" y1="591.1" x2="296.20" y2="594.1" stroke="#111" stroke-width="1"/>
<text x="0" y="0" font-size="8.6" text-anchor="middle" stroke="#333" stroke-width="0.22" transform="translate(296.2 604.1) scale(0.95 1)">3</text>
<line x1="181.4" y1="591.10" x2="184.6" y2="591.10" stroke="#111" stroke-width="1"/>
<text x="0" y="0" font-size="8.6" text-anchor="end" stroke="#333" stroke-width="0.22" transform="translate(178.0 594.1) scale(0.93 1)">0</text>
<line x1="181.4" y1="576.20" x2="184.6" y2="576.20" stroke="#111" stroke-width="1"/>
<text x="0" y="0" font-size="8.6" text-anchor="end" stroke="#333" stroke-width="0.22" transform="translate(178.0 579.2) scale(0.93 1)">100</text>
<line x1="181.4" y1="561.30" x2="184.6" y2="561.30" stroke="#111" stroke-width="1"/>
<text x="0" y="0" font-size="8.6" text-anchor="end" stroke="#333" stroke-width="0.22" transform="translate(178.0 564.3) scale(0.93 1)">200</text>
<line x1="181.4" y1="546.40" x2="184.6" y2="546.40" stroke="#111" stroke-width="1"/>
<text x="0" y="0" font-size="8.6" text-anchor="end" stroke="#333" stroke-width="0.22" transform="translate(178.0 549.4) scale(0.93 1)">300</text>
<line x1="181.4" y1="531.50" x2="184.6" y2="531.50" stroke="#111" stroke-width="1"/>
<text x="0" y="0" font-size="8.6" text-anchor="end" stroke="#333" stroke-width="0.22" transform="translate(178.0 534.5) scale(0.93 1)">400</text>
<line x1="181.4" y1="516.60" x2="184.6" y2="516.60" stroke="#111" stroke-width="1"/>
<text x="0" y="0" font-size="8.6" text-anchor="end" stroke="#333" stroke-width="0.22" transform="translate(178.0 519.6) scale(0.93 1)">500</text>
<text x="284.1" y="538.6" font-size="8.7" stroke="#333" stroke-width="0.22" textLength="15.90" lengthAdjust="spacingAndGlyphs">79%</text>
<line x1="284.1" y1="541.5" x2="271.1" y2="559.5" stroke="#111" stroke-width="0.9"/>
<text x="0" y="0" font-size="9.45" stroke="#333" stroke-width="0.22" textLength="68.30" lengthAdjust="spacingAndGlyphs" transform="translate(15.4 479.6) rotate(-90)">Number of platelets</text>
<text x="0" y="0" font-size="9.45" stroke="#333" stroke-width="0.22" textLength="69.00" lengthAdjust="spacingAndGlyphs" transform="translate(15.4 584.1) rotate(-90)">Number of platelets</text>
<text x="98.9" y="617.6" font-size="9.45" text-anchor="middle" stroke="#333" stroke-width="0.22" textLength="112.90" lengthAdjust="spacingAndGlyphs">Labeled anti-fibrinogen antibody</text>
<text x="98.6" y="628.4" font-size="9.45" text-anchor="middle" stroke="#333" stroke-width="0.22" textLength="86.10" lengthAdjust="spacingAndGlyphs">log fluorescence intensity</text>
<text x="242.9" y="617.9" font-size="9.45" text-anchor="middle" stroke="#333" stroke-width="0.22" textLength="112.50" lengthAdjust="spacingAndGlyphs">Labeled anti-P-Selectin antibody</text>
<text x="243.4" y="628.7" font-size="9.45" text-anchor="middle" stroke="#333" stroke-width="0.22" textLength="86.50" lengthAdjust="spacingAndGlyphs">log fluorescence intensity</text>
<text x="317.8" y="398.2" font-size="12.5" font-weight="bold" fill="#000" stroke="#000" stroke-width="0.5">C</text>
<path d="M373.5 452.6h1.0M366.3 455.7h1.0M370.3 450.4h1.0M362.7 450.3h1.0M379.1 440.5h1.0M350.7 465.6h1.0M368.3 451.6h1.0M361.6 452.8h1.0M376.8 444.0h1.0M363.5 451.5h1.0M361.3 451.7h1.0M364.5 458.4h1.0M365.7 453.0h1.0M368.0 450.6h1.0M364.7 449.9h1.0M355.5 475.2h1.0M372.7 447.0h1.0M359.2 459.1h1.0M364.3 453.7h1.0M371.7 444.7h1.0M361.4 452.8h1.0M360.1 462.0h1.0M354.2 471.9h1.0M365.9 454.1h1.0M353.6 467.6h1.0M361.8 455.2h1.0M363.0 452.0h1.0M364.7 453.9h1.0M376.2 445.3h1.0M359.6 460.4h1.0M361.3 462.4h1.0M360.5 452.2h1.0M358.9 460.8h1.0M363.2 454.4h1.0M358.4 456.8h1.0M367.3 453.4h1.0M351.5 462.9h1.0M348.1 463.4h1.0M366.0 455.0h1.0M364.6 458.1h1.0M372.9 447.3h1.0M358.0 462.2h1.0M365.7 454.2h1.0M342.3 471.5h1.0M362.3 451.9h1.0M374.8 443.6h1.0M365.3 455.9h1.0M351.4 472.9h1.0M368.3 452.6h1.0M373.2 451.5h1.0M376.9 445.2h1.0M369.8 449.8h1.0M364.6 453.4h1.0M363.6 459.4h1.0M352.0 467.8h1.0M374.1 446.7h1.0M367.3 452.6h1.0M373.6 448.2h1.0M355.9 458.5h1.0M357.2 458.2h1.0M350.3 464.0h1.0M364.0 454.8h1.0M366.2 451.5h1.0M349.8 470.5h1.0M356.2 467.6h1.0M370.5 447.1h1.0M352.7 468.3h1.0M352.7 466.5h1.0M362.7 458.3h1.0M366.2 451.4h1.0M359.3 461.4h1.0M381.6 437.1h1.0M369.3 451.4h1.0M349.6 460.0h1.0M369.1 451.8h1.0M372.3 445.2h1.0M356.0 460.6h1.0M363.1 461.5h1.0M367.7 452.5h1.0M362.0 457.4h1.0M341.5 481.8h1.0M360.9 454.4h1.0M359.4 460.4h1.0M363.4 452.1h1.0M365.3 452.2h1.0M356.9 465.5h1.0M357.2 461.9h1.0M350.4 459.6h1.0M355.7 467.0h1.0M384.0 436.6h1.0M356.5 462.5h1.0M369.3 445.0h1.0M372.3 446.9h1.0M374.7 444.6h1.0M370.3 450.0h1.0M355.8 459.6h1.0M369.3 452.2h1.0M353.6 461.9h1.0M359.9 456.9h1.0M366.1 452.0h1.0M360.0 456.7h1.0M365.3 447.7h1.0M355.8 459.5h1.0M356.3 466.0h1.0M368.5 449.8h1.0M349.0 468.6h1.0M371.4 449.1h1.0M340.8 468.4h1.0M370.0 454.5h1.0M371.8 441.9h1.0M373.5 449.4h1.0M351.3 469.7h1.0M360.2 462.7h1.0M356.2 459.0h1.0M352.4 467.8h1.0M346.8 473.0h1.0M375.4 444.1h1.0M366.3 452.8h1.0M368.5 445.2h1.0M361.9 455.1h1.0M368.2 451.5h1.0M355.7 455.3h1.0M359.5 459.4h1.0M369.8 450.0h1.0M351.6 471.3h1.0M335.8 480.4h1.0M372.4 447.1h1.0M346.3 469.1h1.0M364.9 453.2h1.0M361.5 457.0h1.0M356.9 464.9h1.0M381.0 439.2h1.0M377.8 439.7h1.0M373.7 449.0h1.0M388.2 431.6h1.0M365.9 455.8h1.0M360.0 463.6h1.0M354.6 465.9h1.0M358.1 461.7h1.0M353.5 463.4h1.0M366.5 453.9h1.0M350.7 467.2h1.0M349.2 473.8h1.0M360.4 455.7h1.0M351.6 464.3h1.0M349.8 465.7h1.0M361.6 451.3h1.0M352.7 461.1h1.0M368.0 458.9h1.0M360.3 453.8h1.0M362.1 459.7h1.0M360.6 455.7h1.0M357.1 457.8h1.0M354.4 465.7h1.0M367.2 452.5h1.0M373.7 439.0h1.0M368.4 447.4h1.0M365.7 449.1h1.0M355.2 464.8h1.0M357.4 459.9h1.0M355.4 455.0h1.0M362.8 458.5h1.0M350.6 472.7h1.0M364.7 466.1h1.0M356.0 463.0h1.0M352.9 460.8h1.0M364.6 456.2h1.0M354.1 467.2h1.0M348.7 471.0h1.0M364.8 449.3h1.0M353.6 465.6h1.0M353.8 460.9h1.0M350.2 467.2h1.0M373.1 450.5h1.0M350.3 469.9h1.0M364.7 454.6h1.0M376.9 434.9h1.0M348.0 472.2h1.0M348.7 473.2h1.0M359.0 461.7h1.0M360.0 458.3h1.0M364.2 455.7h1.0M346.3 474.5h1.0M372.7 452.3h1.0M371.5 445.5h1.0M363.2 460.5h1.0M359.4 457.3h1.0M359.3 457.9h1.0M372.5 444.7h1.0M366.6 449.7h1.0M374.6 448.8h1.0M369.5 442.9h1.0M368.5 449.9h1.0M368.2 448.6h1.0M356.9 466.5h1.0M352.0 461.0h1.0M345.4 470.7h1.0M359.7 456.8h1.0M353.3 469.9h1.0M377.6 440.5h1.0M368.9 453.5h1.0M365.0 450.8h1.0M368.3 445.4h1.0" stroke="#2b3b78" stroke-width="1.0" fill="none" opacity="0.8"/>
<path d="M390.0 437.1h1.0M367.7 449.6h1.0M365.7 447.3h1.0M364.3 460.3h1.0M360.3 460.7h1.0M381.4 444.2h1.0M366.1 452.3h1.0M373.9 437.1h1.0M382.7 436.1h1.0M371.9 442.8h1.0M351.3 464.6h1.0M358.6 456.5h1.0M393.3 425.9h1.0M379.6 438.8h1.0M367.3 447.7h1.0M406.1 415.9h1.0M353.7 456.4h1.0M362.3 454.3h1.0M372.9 445.0h1.0M355.8 462.6h1.0M376.3 448.1h1.0M368.9 449.6h1.0M371.3 445.9h1.0M394.1 423.6h1.0M397.4 425.2h1.0M366.1 446.5h1.0M369.8 449.8h1.0M369.0 450.4h1.0M372.8 438.4h1.0M365.4 449.7h1.0M378.1 445.1h1.0M358.9 456.3h1.0M396.5 419.6h1.0M364.0 452.6h1.0M366.6 448.6h1.0M355.7 459.3h1.0M392.2 425.0h1.0M366.0 447.7h1.0M359.8 455.4h1.0M378.1 442.3h1.0M372.9 444.2h1.0M396.3 424.5h1.0M370.0 447.5h1.0M374.2 440.3h1.0M380.3 436.1h1.0M361.0 453.2h1.0M368.4 449.4h1.0M343.8 469.4h1.0M367.1 451.1h1.0M380.8 438.3h1.0M367.0 447.4h1.0M387.1 434.0h1.0M372.3 448.3h1.0M357.9 454.1h1.0M364.2 451.0h1.0M369.7 446.7h1.0M377.2 440.6h1.0M362.9 448.7h1.0M376.2 439.5h1.0M373.2 445.9h1.0M378.4 443.5h1.0M388.7 424.6h1.0M363.7 448.3h1.0M358.1 460.0h1.0M383.7 433.1h1.0M366.8 446.5h1.0M373.5 440.6h1.0M372.5 447.7h1.0M372.6 446.5h1.0M391.5 424.1h1.0M363.9 452.2h1.0M365.7 451.3h1.0M374.3 445.8h1.0M363.3 451.3h1.0M371.0 442.6h1.0M372.2 444.1h1.0M375.7 441.7h1.0M368.2 448.8h1.0M369.6 448.1h1.0M374.7 440.1h1.0M356.1 453.5h1.0M366.1 448.4h1.0M368.8 450.3h1.0M397.0 423.8h1.0M373.4 444.5h1.0M368.2 452.2h1.0M367.5 451.9h1.0M365.5 450.2h1.0M385.0 427.0h1.0M407.5 415.8h1.0M390.2 426.3h1.0M366.4 447.9h1.0M368.1 448.9h1.0M373.1 443.1h1.0M357.2 461.3h1.0M358.9 456.8h1.0M367.6 450.7h1.0M356.4 458.2h1.0M383.9 436.5h1.0M362.1 456.0h1.0M376.8 436.7h1.0M381.4 437.7h1.0M408.2 414.2h1.0M379.9 440.5h1.0M370.8 446.7h1.0M365.3 449.3h1.0M355.1 457.9h1.0M360.5 451.1h1.0M368.5 448.5h1.0M374.8 436.1h1.0M382.7 431.4h1.0M385.3 431.3h1.0M373.4 443.0h1.0M366.0 449.8h1.0M368.9 447.7h1.0M380.2 437.8h1.0M365.4 447.4h1.0M351.9 462.4h1.0M378.1 442.9h1.0M376.0 440.7h1.0M367.0 448.2h1.0M375.5 442.9h1.0M375.9 443.3h1.0M366.8 448.3h1.0M371.0 450.7h1.0M356.3 455.9h1.0M356.5 456.1h1.0M369.9 451.0h1.0M391.0 428.0h1.0M375.1 443.8h1.0M367.6 450.9h1.0M353.9 461.8h1.0M353.4 464.8h1.0M376.1 440.0h1.0M367.8 445.9h1.0M357.3 457.3h1.0M363.1 453.8h1.0M367.0 445.2h1.0M379.4 437.7h1.0M365.0 449.5h1.0M389.7 428.1h1.0M355.9 460.7h1.0M364.2 451.3h1.0M378.8 440.3h1.0M366.8 446.5h1.0M368.8 451.4h1.0M372.0 442.5h1.0M400.7 416.3h1.0M360.6 456.3h1.0M385.9 431.6h1.0M369.4 449.2h1.0M380.1 433.5h1.0M367.9 452.2h1.0M370.6 442.4h1.0M381.3 436.4h1.0M369.8 446.7h1.0M370.7 449.1h1.0M367.3 449.9h1.0M359.2 461.4h1.0M376.9 438.6h1.0M366.3 448.8h1.0M372.5 443.8h1.0M368.5 447.0h1.0M386.7 431.2h1.0M395.4 422.5h1.0M350.2 469.8h1.0M384.8 434.6h1.0M357.7 457.5h1.0M367.0 445.3h1.0M364.9 450.5h1.0M365.3 453.9h1.0M369.1 451.5h1.0M361.4 456.7h1.0M373.5 440.8h1.0M364.7 452.7h1.0M373.7 440.0h1.0M369.6 444.6h1.0M375.8 437.1h1.0M411.4 416.6h1.0M378.3 441.6h1.0M378.2 439.0h1.0M374.4 448.1h1.0M376.8 441.8h1.0M383.3 438.2h1.0M365.4 449.1h1.0M352.0 466.6h1.0M364.1 453.8h1.0M406.4 410.3h1.0M402.4 414.3h1.0M361.8 456.6h1.0M363.7 446.8h1.0" stroke="#ab1849" stroke-width="1.0" fill="none" opacity="0.8"/>
<path d="M357.3 462.4h1.0M373.5 444.4h1.0M359.5 465.8h1.0M365.4 456.1h1.0M354.9 468.2h1.0M372.0 445.7h1.0M367.2 451.2h1.0M345.5 475.3h1.0M354.5 464.0h1.0M367.5 452.3h1.0M356.7 460.1h1.0M373.7 444.2h1.0M374.3 443.2h1.0M365.9 456.6h1.0M363.3 449.2h1.0M352.8 463.8h1.0M369.6 451.1h1.0M352.6 461.6h1.0M360.6 457.7h1.0M379.3 439.3h1.0M352.9 466.7h1.0M346.6 466.9h1.0M367.6 454.0h1.0M344.5 477.3h1.0M375.7 442.9h1.0M357.6 460.5h1.0M362.1 457.2h1.0M354.8 466.5h1.0M360.9 462.0h1.0M366.4 448.4h1.0M359.1 455.0h1.0M350.3 469.0h1.0M360.7 456.6h1.0M359.9 458.1h1.0M354.6 462.0h1.0M347.5 465.8h1.0M360.7 457.6h1.0M359.5 460.4h1.0M361.0 456.6h1.0M359.9 457.3h1.0M376.4 436.8h1.0M360.1 457.8h1.0M361.1 455.7h1.0M370.7 446.1h1.0M362.2 460.3h1.0M355.1 466.8h1.0M370.5 449.3h1.0M355.8 461.5h1.0M351.1 476.2h1.0M368.6 453.7h1.0M361.0 462.0h1.0M371.6 443.9h1.0M364.8 453.5h1.0M359.6 455.2h1.0M353.4 466.5h1.0M364.8 453.6h1.0M362.1 457.4h1.0M374.3 444.7h1.0M359.5 462.3h1.0M377.8 447.8h1.0M354.3 460.5h1.0M374.9 447.3h1.0M357.1 462.0h1.0M370.6 449.1h1.0M362.7 457.0h1.0M354.5 466.0h1.0M366.8 449.8h1.0M353.2 463.5h1.0M365.4 454.5h1.0M361.2 460.2h1.0M366.9 451.7h1.0M363.3 455.8h1.0M373.1 444.6h1.0M369.0 446.1h1.0M371.3 451.8h1.0M364.4 450.1h1.0M374.7 442.9h1.0M339.6 485.4h1.0M357.0 452.5h1.0M351.7 464.3h1.0M362.1 458.7h1.0M366.1 456.0h1.0M369.4 448.4h1.0M341.7 474.3h1.0M355.4 463.2h1.0M365.8 451.8h1.0M352.2 472.0h1.0M362.2 455.9h1.0M353.5 463.8h1.0M369.2 448.1h1.0M366.5 451.3h1.0M370.4 448.6h1.0M370.8 449.0h1.0M360.9 458.6h1.0M363.5 455.0h1.0M365.5 454.4h1.0M355.9 463.1h1.0M358.0 463.5h1.0M363.5 453.6h1.0M370.3 449.1h1.0M363.8 456.3h1.0M360.0 457.9h1.0M356.9 460.6h1.0M364.8 451.5h1.0M353.3 467.0h1.0M376.1 433.2h1.0M367.3 454.4h1.0M366.7 455.8h1.0M357.8 453.2h1.0M346.3 472.8h1.0M346.0 471.8h1.0M349.4 470.0h1.0M351.4 468.5h1.0M366.9 451.3h1.0M368.9 450.4h1.0M354.9 463.5h1.0M336.2 482.4h1.0M354.8 464.7h1.0M375.1 445.3h1.0M370.3 444.5h1.0M374.8 448.0h1.0M356.3 457.3h1.0M353.7 459.9h1.0M352.0 466.1h1.0M347.5 473.8h1.0M371.4 447.9h1.0M375.1 442.8h1.0M364.9 453.4h1.0M357.7 457.4h1.0M332.8 481.0h1.0M359.8 465.3h1.0M367.8 451.3h1.0M360.3 461.7h1.0M356.0 462.0h1.0M340.6 469.8h1.0M374.6 446.4h1.0M355.9 464.8h1.0M358.4 461.3h1.0M367.3 448.0h1.0M359.8 457.7h1.0M379.4 440.1h1.0M369.2 454.0h1.0M364.3 451.9h1.0M361.0 458.5h1.0M361.8 456.7h1.0M368.0 454.6h1.0M346.9 467.9h1.0M363.4 454.8h1.0M371.7 448.9h1.0M358.5 458.0h1.0M344.7 475.4h1.0M359.2 462.1h1.0M355.8 470.1h1.0M356.5 471.2h1.0M364.8 453.9h1.0M350.7 469.8h1.0M359.0 456.8h1.0M361.2 458.0h1.0M378.9 442.3h1.0M362.5 460.0h1.0M366.9 454.1h1.0M353.8 460.3h1.0M358.9 453.7h1.0M375.4 446.0h1.0M373.0 447.1h1.0M361.1 459.7h1.0M364.0 455.2h1.0M362.9 460.3h1.0M359.6 458.3h1.0M349.4 470.3h1.0M362.5 451.1h1.0M365.8 452.1h1.0M349.5 470.2h1.0M373.7 445.9h1.0M368.4 450.7h1.0M372.1 445.6h1.0M356.4 457.4h1.0M347.8 467.0h1.0M354.2 464.9h1.0M376.1 447.1h1.0M355.5 461.0h1.0M356.2 462.7h1.0M355.7 465.8h1.0M381.4 434.7h1.0M362.9 455.7h1.0M366.9 449.0h1.0M354.7 464.6h1.0M370.4 450.2h1.0M367.1 453.7h1.0M360.5 455.7h1.0M360.7 457.9h1.0M373.9 444.4h1.0M371.5 450.1h1.0M373.3 455.3h1.0M359.0 459.2h1.0M363.0 459.3h1.0M373.3 446.1h1.0M363.1 453.3h1.0M360.0 462.9h1.0M355.2 464.1h1.0M372.5 452.2h1.0M347.3 468.2h1.0M353.0 466.7h1.0" stroke="#2b3b78" stroke-width="1.0" fill="none" opacity="0.8"/>
<path d="M370.7 444.6h1.0M374.9 438.9h1.0M368.3 448.7h1.0M380.8 438.4h1.0M378.1 438.2h1.0M409.5 412.1h1.0M365.4 452.3h1.0M365.5 452.4h1.0M375.5 442.0h1.0M360.6 449.3h1.0M379.0 441.9h1.0M362.4 446.0h1.0M367.8 452.5h1.0M367.0 448.5h1.0M393.3 419.9h1.0M366.8 454.2h1.0M400.8 415.3h1.0M379.9 433.6h1.0M370.5 443.3h1.0M371.1 445.4h1.0M367.9 445.1h1.0M352.3 461.6h1.0M372.7 442.8h1.0M358.2 458.0h1.0M359.4 461.3h1.0M377.0 441.0h1.0M355.5 461.6h1.0M381.3 434.9h1.0M379.5 434.0h1.0M371.6 445.9h1.0M368.2 448.9h1.0M364.1 450.3h1.0M373.8 447.2h1.0M365.8 453.1h1.0M366.4 453.3h1.0M365.5 453.4h1.0M380.5 438.1h1.0M362.5 455.7h1.0M363.7 450.3h1.0M396.8 423.8h1.0M374.9 442.5h1.0M361.2 454.0h1.0M357.5 454.5h1.0M371.1 444.0h1.0M363.1 453.1h1.0M366.4 452.9h1.0M380.5 433.8h1.0M382.6 437.5h1.0M385.8 429.6h1.0M373.4 444.0h1.0M350.6 462.2h1.0M357.9 455.6h1.0M362.9 450.0h1.0M384.7 431.0h1.0M376.5 443.8h1.0M389.7 431.0h1.0M376.8 439.0h1.0M364.3 448.3h1.0M379.4 435.8h1.0M379.5 436.5h1.0M360.1 457.3h1.0M362.7 451.1h1.0M366.6 447.8h1.0M370.0 444.7h1.0M360.9 455.2h1.0M354.2 461.1h1.0M363.7 457.4h1.0M391.4 428.7h1.0M367.1 447.5h1.0M383.0 431.6h1.0M368.3 447.1h1.0M383.8 432.9h1.0M374.2 438.9h1.0M406.2 415.1h1.0M358.2 460.5h1.0M371.5 442.5h1.0M368.8 445.9h1.0M368.9 454.8h1.0M382.2 431.0h1.0M369.7 449.6h1.0M358.6 457.7h1.0M373.0 443.6h1.0M365.6 450.7h1.0M384.1 429.3h1.0M372.1 448.7h1.0M368.1 448.0h1.0M376.6 440.4h1.0M412.5 409.4h1.0M363.2 454.6h1.0M373.3 447.2h1.0M367.4 448.9h1.0M375.3 439.4h1.0M399.5 422.9h1.0M394.1 426.5h1.0M370.9 448.3h1.0M369.5 451.4h1.0M364.0 452.8h1.0M388.5 426.8h1.0M381.0 435.6h1.0M364.3 450.9h1.0M361.8 453.7h1.0M407.5 413.1h1.0M363.6 459.3h1.0M367.4 447.9h1.0M375.1 442.6h1.0M365.8 454.5h1.0M363.5 458.3h1.0M369.8 450.3h1.0M369.8 443.7h1.0M361.0 458.2h1.0M374.4 448.2h1.0M380.4 437.7h1.0M356.4 461.8h1.0M370.8 448.0h1.0M368.2 452.6h1.0M372.0 444.6h1.0M379.7 441.2h1.0M367.1 452.5h1.0M378.3 435.3h1.0M354.1 461.5h1.0M364.9 458.9h1.0M370.2 448.5h1.0M376.8 440.8h1.0M368.0 448.8h1.0M376.2 442.4h1.0M362.7 457.0h1.0M376.9 437.3h1.0M370.8 441.5h1.0M382.2 440.3h1.0M368.6 445.2h1.0M362.4 453.4h1.0M393.8 424.7h1.0M385.8 427.2h1.0M367.5 448.0h1.0M372.7 447.2h1.0M362.5 455.6h1.0M362.0 452.3h1.0M370.1 447.1h1.0M384.1 436.4h1.0M357.3 464.5h1.0M361.3 455.8h1.0M371.0 453.7h1.0M388.0 432.8h1.0M366.9 446.2h1.0M362.7 449.3h1.0M369.8 451.0h1.0M366.4 450.8h1.0M365.2 449.8h1.0M368.9 446.8h1.0M370.9 437.3h1.0M366.3 448.7h1.0M372.0 443.4h1.0M360.1 456.8h1.0M385.9 429.0h1.0M344.8 470.7h1.0M385.3 432.9h1.0M378.2 437.6h1.0M357.7 460.6h1.0M362.4 453.9h1.0M370.0 443.3h1.0M368.3 453.7h1.0M374.3 442.8h1.0M377.2 440.8h1.0M363.5 454.8h1.0M360.2 457.3h1.0M375.0 442.9h1.0M370.6 451.9h1.0M380.4 436.6h1.0M370.6 442.4h1.0M391.7 434.5h1.0M369.2 445.5h1.0M368.2 451.1h1.0M382.0 434.1h1.0M363.4 451.5h1.0M365.3 453.5h1.0M357.6 462.7h1.0M372.2 443.2h1.0M394.9 420.3h1.0M365.3 453.0h1.0M353.2 465.8h1.0M359.9 449.7h1.0M377.9 447.4h1.0M363.7 450.5h1.0M373.9 443.2h1.0M382.1 432.3h1.0M363.9 457.9h1.0M370.3 448.5h1.0M366.6 444.1h1.0M374.0 442.7h1.0M379.8 438.9h1.0M379.7 442.6h1.0" stroke="#ab1849" stroke-width="1.0" fill="none" opacity="0.8"/>
<path d="M373.5 447.0h1.0M363.7 453.1h1.0M350.9 468.1h1.0M373.5 444.3h1.0M358.2 460.8h1.0M360.9 461.1h1.0M362.7 452.6h1.0M343.8 471.7h1.0M359.0 458.9h1.0M368.3 453.2h1.0M372.3 441.6h1.0M365.1 447.3h1.0M360.7 466.7h1.0M364.6 458.7h1.0M370.8 453.3h1.0M343.7 470.0h1.0M365.3 455.9h1.0M355.2 458.6h1.0M355.2 460.2h1.0M350.3 466.1h1.0M366.6 451.4h1.0M361.3 456.9h1.0M338.7 474.0h1.0M355.4 467.9h1.0M378.5 441.1h1.0M361.7 458.6h1.0M362.4 452.7h1.0M370.4 436.5h1.0M368.5 450.1h1.0M346.9 470.8h1.0M364.6 453.0h1.0M360.5 458.7h1.0M373.5 443.6h1.0M340.4 472.1h1.0M353.2 463.4h1.0M369.6 452.2h1.0M351.4 468.1h1.0M356.2 465.4h1.0M360.4 460.2h1.0M363.4 456.3h1.0M362.2 458.2h1.0M356.9 462.9h1.0M367.9 451.0h1.0M380.5 436.4h1.0M357.7 458.3h1.0M362.4 453.1h1.0M348.1 472.8h1.0M378.5 448.5h1.0M356.6 463.2h1.0M363.6 459.0h1.0M362.3 461.0h1.0M361.7 458.3h1.0M370.1 450.8h1.0M360.0 462.0h1.0M350.6 469.6h1.0M361.4 452.4h1.0M355.1 461.5h1.0M362.3 462.7h1.0M350.5 467.4h1.0M367.5 450.6h1.0M374.5 439.7h1.0M367.3 454.9h1.0M353.9 466.9h1.0M361.1 455.7h1.0M368.8 454.2h1.0M357.2 462.2h1.0M365.8 451.7h1.0M360.5 460.2h1.0M365.6 453.8h1.0M355.9 459.6h1.0M338.4 478.3h1.0M372.8 455.6h1.0M358.7 464.1h1.0M352.4 468.9h1.0M352.1 461.7h1.0M353.1 457.4h1.0M346.0 468.0h1.0M362.9 454.4h1.0M373.7 441.1h1.0M360.6 455.9h1.0M361.0 455.8h1.0M365.8 453.3h1.0M375.8 443.9h1.0M359.0 461.1h1.0M349.4 469.8h1.0M341.3 472.0h1.0M371.2 447.7h1.0M367.8 454.0h1.0M368.1 452.8h1.0M360.2 462.2h1.0M374.2 442.2h1.0M368.8 448.7h1.0M360.5 462.4h1.0M364.6 452.4h1.0M366.0 457.3h1.0M360.1 462.0h1.0M357.6 461.0h1.0M372.2 450.5h1.0M350.6 468.7h1.0M355.7 461.1h1.0M364.3 458.2h1.0M354.0 465.7h1.0M362.9 453.0h1.0M364.3 458.0h1.0M361.0 455.0h1.0M351.2 467.3h1.0M362.5 459.5h1.0M373.2 443.8h1.0M364.5 457.6h1.0M368.1 455.1h1.0M355.4 462.3h1.0M359.5 462.1h1.0M355.3 465.9h1.0M365.6 454.4h1.0M358.9 456.5h1.0M367.4 447.1h1.0M353.6 464.9h1.0M363.9 462.6h1.0M361.4 452.4h1.0M361.8 454.6h1.0M360.1 457.3h1.0M371.5 440.9h1.0M366.2 452.5h1.0M375.2 446.7h1.0M378.4 432.1h1.0M379.8 440.2h1.0M351.3 468.7h1.0M367.1 455.9h1.0M379.1 439.3h1.0M372.3 449.1h1.0M376.1 443.5h1.0M370.1 455.1h1.0M371.2 449.2h1.0M360.4 458.8h1.0M355.5 458.9h1.0M367.7 453.7h1.0M364.4 455.6h1.0M352.4 465.4h1.0M342.2 472.4h1.0M357.5 464.8h1.0M368.7 452.4h1.0M356.2 460.7h1.0M373.4 446.7h1.0M370.0 450.0h1.0M365.4 456.1h1.0M360.1 458.5h1.0M360.7 459.2h1.0M361.6 458.6h1.0M362.2 451.7h1.0M354.7 462.9h1.0M377.1 448.2h1.0M362.0 455.4h1.0M370.2 451.1h1.0M361.5 460.6h1.0M352.8 462.5h1.0M381.4 445.4h1.0M358.8 465.6h1.0M362.4 454.7h1.0M369.8 446.7h1.0M358.1 454.8h1.0M352.8 466.2h1.0M365.0 452.3h1.0M369.4 453.9h1.0M357.0 460.6h1.0M351.9 467.5h1.0M364.7 455.3h1.0M376.7 440.2h1.0M360.7 457.4h1.0M367.6 451.9h1.0M360.1 469.7h1.0M361.2 458.2h1.0M365.6 456.3h1.0M359.0 462.3h1.0M374.0 441.0h1.0M359.7 456.2h1.0M369.7 445.9h1.0M349.8 469.9h1.0M350.8 465.2h1.0M353.5 462.6h1.0M352.0 463.0h1.0M373.8 444.5h1.0M360.3 459.7h1.0M363.5 464.9h1.0M357.3 465.0h1.0M361.8 459.7h1.0M352.3 464.4h1.0M368.8 445.9h1.0M360.6 449.0h1.0M356.4 464.4h1.0M350.0 466.0h1.0M366.5 456.4h1.0M354.0 468.9h1.0M350.0 471.1h1.0M349.0 469.8h1.0M345.2 474.0h1.0M364.4 457.8h1.0M352.0 466.4h1.0M366.5 455.7h1.0M350.6 466.4h1.0M386.0 436.9h1.0M370.5 453.4h1.0M348.3 467.1h1.0M349.3 465.2h1.0" stroke="#2b3b78" stroke-width="1.0" fill="none" opacity="0.8"/>
<path d="M364.5 451.1h1.0M367.9 454.7h1.0M373.8 447.0h1.0M353.7 462.2h1.0M371.0 449.4h1.0M368.5 450.6h1.0M369.8 448.8h1.0M370.1 443.7h1.0M383.6 437.1h1.0M371.9 450.8h1.0M363.1 451.1h1.0M372.6 445.3h1.0M371.0 445.3h1.0M361.7 446.3h1.0M402.1 419.8h1.0M366.4 454.9h1.0M363.6 458.5h1.0M382.0 434.1h1.0M382.5 434.5h1.0M386.3 427.1h1.0M358.7 459.5h1.0M353.2 456.3h1.0M375.1 440.0h1.0M367.6 444.0h1.0M375.5 444.3h1.0M358.7 460.0h1.0M367.5 445.4h1.0M359.5 455.9h1.0M399.0 408.4h1.0M368.7 445.2h1.0M368.6 454.4h1.0M372.8 441.5h1.0M372.3 442.1h1.0M370.2 444.5h1.0M376.3 441.5h1.0M348.1 471.1h1.0M360.0 460.3h1.0M369.2 447.3h1.0M384.2 436.9h1.0M368.7 443.5h1.0M376.3 437.7h1.0M376.9 444.2h1.0M377.8 439.6h1.0M382.2 437.9h1.0M363.8 457.6h1.0M365.0 454.9h1.0M376.0 441.5h1.0M367.4 446.3h1.0M365.9 450.8h1.0M370.1 442.5h1.0M372.2 446.9h1.0M358.6 459.5h1.0M374.0 446.2h1.0M365.9 450.1h1.0M377.4 438.8h1.0M367.2 451.9h1.0M369.1 443.4h1.0M382.3 442.3h1.0M363.6 451.9h1.0M376.9 444.0h1.0M363.0 456.2h1.0M376.9 438.2h1.0M379.9 443.4h1.0M372.2 444.1h1.0M380.5 440.6h1.0M366.4 449.6h1.0M371.7 443.0h1.0M365.7 454.0h1.0M388.8 422.7h1.0M380.0 433.0h1.0M370.3 443.0h1.0M393.2 424.9h1.0M374.7 436.4h1.0M376.2 445.0h1.0M364.7 453.1h1.0M371.2 446.3h1.0M364.3 453.0h1.0M366.4 451.6h1.0M365.8 453.4h1.0M368.0 448.4h1.0M365.8 449.2h1.0M368.0 449.2h1.0M357.9 460.8h1.0M374.1 446.0h1.0M365.6 447.8h1.0M366.9 452.8h1.0M380.5 437.6h1.0M367.2 443.8h1.0M359.3 455.5h1.0M382.5 437.0h1.0M364.4 451.7h1.0M384.3 431.4h1.0M367.1 446.3h1.0M366.1 445.6h1.0M365.2 447.3h1.0M373.8 445.4h1.0M373.3 442.6h1.0M376.4 443.3h1.0M378.0 436.2h1.0M366.0 452.6h1.0M355.9 463.2h1.0M358.7 453.6h1.0M369.5 452.6h1.0M367.7 450.0h1.0M365.8 452.2h1.0M407.4 418.0h1.0M383.2 430.1h1.0M357.4 459.0h1.0M403.5 415.3h1.0M348.2 460.0h1.0M351.5 464.9h1.0M366.7 451.3h1.0M376.7 434.3h1.0M363.2 456.3h1.0M370.8 445.6h1.0M368.2 442.3h1.0M365.2 454.1h1.0M376.4 439.3h1.0M370.8 444.0h1.0M373.8 444.6h1.0M366.1 451.5h1.0M371.8 448.1h1.0M366.1 456.3h1.0M401.3 419.6h1.0M388.9 428.4h1.0M368.9 452.8h1.0M366.1 454.2h1.0M367.6 444.5h1.0M361.2 456.1h1.0M383.7 436.2h1.0M378.5 441.5h1.0M383.6 439.1h1.0M383.2 436.6h1.0M372.5 448.4h1.0M362.5 451.8h1.0M378.9 432.8h1.0M387.9 428.5h1.0M398.6 421.7h1.0M389.2 423.1h1.0M373.9 442.6h1.0M349.7 460.4h1.0M384.6 428.2h1.0M376.5 442.6h1.0M399.1 414.6h1.0M353.2 460.9h1.0M371.0 447.4h1.0M372.1 444.6h1.0M377.6 438.9h1.0M361.5 453.9h1.0M371.9 449.4h1.0M377.6 442.6h1.0M367.6 449.3h1.0M380.2 437.9h1.0M382.8 429.4h1.0M365.0 451.5h1.0M370.3 444.3h1.0M377.9 441.0h1.0M366.4 449.7h1.0M382.6 439.1h1.0M397.9 421.9h1.0M383.7 431.2h1.0M365.1 448.3h1.0M401.6 418.0h1.0M380.8 440.7h1.0M373.2 443.7h1.0M361.0 452.9h1.0M379.9 439.5h1.0M366.9 457.1h1.0M371.6 442.7h1.0M370.3 447.1h1.0M374.5 443.1h1.0M401.7 417.9h1.0M394.9 422.3h1.0M369.7 447.4h1.0M369.4 446.1h1.0M369.5 442.9h1.0M360.5 460.6h1.0M376.5 442.8h1.0M349.1 463.6h1.0M363.9 451.2h1.0M352.9 460.5h1.0M360.8 452.9h1.0M373.8 442.3h1.0M368.6 446.5h1.0M368.3 443.3h1.0M382.2 434.7h1.0M375.0 445.7h1.0M360.1 454.7h1.0M378.1 439.3h1.0M378.8 438.5h1.0M372.8 444.1h1.0" stroke="#ab1849" stroke-width="1.0" fill="none" opacity="0.8"/>
<path d="M364.9 452.2h1.0M375.4 447.4h1.0M365.2 451.1h1.0M360.6 459.1h1.0M375.4 438.6h1.0M373.8 446.6h1.0M375.1 448.4h1.0M372.0 451.0h1.0M354.4 462.6h1.0M361.7 460.9h1.0M371.1 447.4h1.0M359.6 461.2h1.0M344.0 472.9h1.0M363.0 455.1h1.0M368.0 453.8h1.0M361.8 454.1h1.0M362.4 455.0h1.0M379.3 442.9h1.0M364.9 454.0h1.0M352.8 466.2h1.0M369.2 441.5h1.0M357.1 457.4h1.0M361.8 457.4h1.0M350.1 469.2h1.0M374.4 450.2h1.0M373.0 446.6h1.0M360.1 457.8h1.0M363.2 456.9h1.0M375.1 445.8h1.0M364.6 454.9h1.0M357.2 462.1h1.0M356.9 461.5h1.0M361.2 458.7h1.0M361.6 454.0h1.0M368.9 451.4h1.0M357.8 465.2h1.0M363.9 457.3h1.0M360.5 460.8h1.0M359.1 460.2h1.0M366.8 454.7h1.0M363.8 455.6h1.0M364.8 453.1h1.0M365.5 453.5h1.0M360.9 460.0h1.0M365.9 458.9h1.0M376.6 445.0h1.0M352.9 469.8h1.0M347.0 470.7h1.0M353.5 463.7h1.0M371.2 442.5h1.0M370.0 454.4h1.0M368.8 452.9h1.0M348.5 468.1h1.0M366.9 451.7h1.0M366.7 452.5h1.0M360.1 452.2h1.0M356.9 456.5h1.0M349.8 469.8h1.0M366.8 457.2h1.0M353.9 459.3h1.0M355.5 459.8h1.0M357.7 462.3h1.0M373.4 444.0h1.0M357.1 457.3h1.0M365.5 451.2h1.0M374.0 445.9h1.0M367.7 450.0h1.0M365.3 458.5h1.0M364.0 452.4h1.0M361.6 457.4h1.0M365.8 451.2h1.0M357.6 455.7h1.0M366.9 447.4h1.0M363.4 454.3h1.0M347.9 475.3h1.0M350.7 469.3h1.0M351.6 462.9h1.0M359.3 468.1h1.0M366.2 452.6h1.0M354.1 463.0h1.0M357.8 460.2h1.0M354.1 461.2h1.0M358.4 465.8h1.0M369.6 451.9h1.0M365.7 453.2h1.0M357.3 461.2h1.0M349.7 468.3h1.0M364.2 456.4h1.0M359.9 457.7h1.0M348.3 470.0h1.0M363.0 453.7h1.0M366.6 447.4h1.0M344.0 471.9h1.0M362.1 457.9h1.0M357.1 456.0h1.0M366.3 456.0h1.0M357.2 461.2h1.0M359.8 454.0h1.0M345.2 471.4h1.0M362.4 459.8h1.0M366.7 454.6h1.0M373.0 445.8h1.0M363.9 453.6h1.0M361.0 464.2h1.0M359.7 464.5h1.0M365.8 454.9h1.0M367.0 451.9h1.0M378.8 445.0h1.0M368.1 455.0h1.0M368.2 453.5h1.0M355.1 461.6h1.0M357.7 459.2h1.0M381.2 439.5h1.0M364.8 453.9h1.0M369.7 447.9h1.0M341.4 476.4h1.0M355.7 461.6h1.0M352.2 467.6h1.0M358.3 456.3h1.0M369.4 448.6h1.0M354.8 469.1h1.0M366.2 455.6h1.0M355.4 463.9h1.0M363.3 459.4h1.0M359.5 457.5h1.0M357.7 457.6h1.0M380.7 437.0h1.0M361.6 456.8h1.0M360.8 458.7h1.0M368.9 447.4h1.0M368.4 453.7h1.0M358.3 460.5h1.0M365.0 463.0h1.0M369.1 457.4h1.0M370.1 438.3h1.0M366.0 448.4h1.0M350.4 462.8h1.0M349.3 468.7h1.0M368.4 445.6h1.0M372.9 445.7h1.0M351.0 467.8h1.0M354.8 458.3h1.0M354.3 468.5h1.0M370.1 449.2h1.0M362.5 455.3h1.0M368.3 453.0h1.0M367.8 452.9h1.0M364.5 453.4h1.0M360.4 458.1h1.0M367.5 447.2h1.0M361.7 455.3h1.0M365.5 461.8h1.0M348.3 468.9h1.0M377.6 442.9h1.0M365.0 459.0h1.0M358.1 460.7h1.0M370.9 452.3h1.0M363.0 457.5h1.0M352.3 462.7h1.0M363.2 455.0h1.0M356.7 464.5h1.0M363.3 452.4h1.0M361.8 458.2h1.0M364.3 455.9h1.0M366.2 452.7h1.0M355.4 469.4h1.0M357.8 459.1h1.0M356.2 460.6h1.0M365.8 462.3h1.0M371.5 449.7h1.0M357.9 467.2h1.0M373.2 442.7h1.0M358.0 462.3h1.0M363.7 457.5h1.0M376.2 442.2h1.0M358.6 451.6h1.0M363.5 454.3h1.0M367.8 449.7h1.0M374.3 445.4h1.0M367.6 455.0h1.0M360.6 460.7h1.0M371.5 453.2h1.0M357.0 462.5h1.0M354.5 459.5h1.0M376.0 442.6h1.0M365.8 449.8h1.0M372.6 445.0h1.0M358.6 459.7h1.0M367.9 449.2h1.0M356.8 461.9h1.0M366.5 449.6h1.0M368.2 445.7h1.0M355.2 462.2h1.0M368.5 450.5h1.0M357.7 461.3h1.0M358.5 461.5h1.0M357.8 459.0h1.0M369.6 457.6h1.0M365.1 450.1h1.0M358.2 460.7h1.0M364.5 451.7h1.0M367.0 446.7h1.0M368.5 460.3h1.0" stroke="#2b3b78" stroke-width="1.0" fill="none" opacity="0.8"/>
<path d="M358.7 460.9h1.0M346.1 469.7h1.0M372.4 452.0h1.0M373.5 441.3h1.0M383.1 436.6h1.0M357.7 456.7h1.0M379.0 440.9h1.0M376.7 438.7h1.0M364.2 450.7h1.0M407.5 407.9h1.0M378.6 440.2h1.0M366.0 458.1h1.0M389.4 429.0h1.0M382.3 431.9h1.0M358.4 455.4h1.0M364.7 454.1h1.0M361.7 454.2h1.0M375.9 445.4h1.0M370.2 443.9h1.0M388.9 428.0h1.0M383.9 431.9h1.0M374.6 439.9h1.0M370.7 444.1h1.0M401.5 418.2h1.0M374.8 439.4h1.0M371.4 444.0h1.0M386.3 433.3h1.0M361.8 455.6h1.0M377.7 435.9h1.0M366.5 445.9h1.0M365.1 449.0h1.0M372.6 442.6h1.0M358.5 458.5h1.0M383.9 432.4h1.0M362.5 460.4h1.0M380.2 435.6h1.0M391.4 426.2h1.0M379.2 431.0h1.0M357.1 456.9h1.0M392.0 424.6h1.0M382.6 433.7h1.0M368.4 452.6h1.0M363.7 451.0h1.0M364.1 456.8h1.0M364.1 453.6h1.0M371.3 453.0h1.0M396.0 424.2h1.0M376.5 440.7h1.0M369.0 447.4h1.0M406.0 411.5h1.0M350.7 462.6h1.0M371.1 444.9h1.0M357.7 455.0h1.0M372.2 442.3h1.0M362.8 456.8h1.0M372.0 444.1h1.0M396.3 426.0h1.0M371.0 446.9h1.0M388.1 426.2h1.0M362.2 453.4h1.0M371.9 441.8h1.0M372.1 445.7h1.0M360.8 455.7h1.0M394.3 431.0h1.0M358.7 458.4h1.0M364.8 452.6h1.0M378.6 434.9h1.0M395.1 426.3h1.0M367.2 452.2h1.0M377.2 440.0h1.0M355.0 457.4h1.0M357.5 458.3h1.0M368.2 453.0h1.0M378.4 436.4h1.0M372.9 439.9h1.0M371.9 443.1h1.0M367.6 451.2h1.0M376.3 439.4h1.0M375.8 441.5h1.0M350.7 464.9h1.0M355.0 456.6h1.0M362.9 449.1h1.0M367.4 450.1h1.0M367.4 449.6h1.0M382.6 433.4h1.0M381.0 434.0h1.0M386.4 431.6h1.0M370.0 446.7h1.0M376.4 444.2h1.0M363.2 457.0h1.0M365.6 449.2h1.0M363.8 448.9h1.0M367.1 453.9h1.0M394.9 417.5h1.0M368.7 450.6h1.0M368.3 452.2h1.0M377.8 440.5h1.0M378.8 438.6h1.0M371.7 445.8h1.0M377.7 447.0h1.0M380.3 441.7h1.0M375.0 439.8h1.0M367.7 452.1h1.0M371.8 448.4h1.0M377.2 439.8h1.0M357.8 459.6h1.0M369.0 448.8h1.0M379.9 435.3h1.0M379.3 431.7h1.0M380.1 436.6h1.0M369.5 448.5h1.0M361.5 455.8h1.0M384.8 431.5h1.0M363.4 449.8h1.0M375.5 436.1h1.0M346.9 467.4h1.0M376.1 442.1h1.0M370.4 448.9h1.0M357.8 460.9h1.0M382.1 430.0h1.0M369.5 450.3h1.0M372.6 445.7h1.0M366.6 449.1h1.0M374.2 440.1h1.0M368.9 446.7h1.0M365.7 449.9h1.0M379.9 440.0h1.0M362.3 451.0h1.0M365.8 445.8h1.0M388.8 425.9h1.0M373.4 441.8h1.0M364.2 454.4h1.0M382.7 436.1h1.0M368.5 451.5h1.0M362.1 450.9h1.0M364.1 452.3h1.0M369.6 442.1h1.0M385.7 438.1h1.0M377.6 438.8h1.0M373.3 440.1h1.0M376.1 441.9h1.0M391.8 427.6h1.0M364.2 456.1h1.0M367.2 451.2h1.0M377.2 440.2h1.0M384.4 433.2h1.0M371.8 447.7h1.0M388.0 421.9h1.0M349.9 464.4h1.0M368.8 448.4h1.0M369.5 445.9h1.0M361.7 452.4h1.0M376.5 443.0h1.0M358.8 457.4h1.0M369.7 447.7h1.0M362.8 453.0h1.0M360.0 460.4h1.0M366.7 449.5h1.0M371.3 445.6h1.0M368.8 447.4h1.0M362.4 457.0h1.0M376.9 435.7h1.0M366.1 455.7h1.0M377.8 441.7h1.0M372.2 445.4h1.0M356.8 459.5h1.0M380.4 436.5h1.0M374.5 444.0h1.0M369.0 444.6h1.0M387.6 427.7h1.0M357.2 456.0h1.0M372.1 444.5h1.0M378.1 438.5h1.0M371.4 444.5h1.0M364.9 445.6h1.0M366.6 455.4h1.0M368.3 453.3h1.0M368.8 444.3h1.0M376.6 438.6h1.0M385.8 433.8h1.0M367.8 443.1h1.0M356.6 458.4h1.0M363.7 452.6h1.0M367.4 449.0h1.0M383.1 433.2h1.0M362.8 452.3h1.0M358.5 460.1h1.0M404.8 415.0h1.0M366.7 448.7h1.0M403.5 414.6h1.0M357.3 456.6h1.0" stroke="#ab1849" stroke-width="1.0" fill="none" opacity="0.8"/>
<path d="M352.7 468.1h1.0M356.5 461.8h1.0M376.7 439.7h1.0M359.6 452.4h1.0M364.9 457.9h1.0M363.0 456.4h1.0M361.3 460.6h1.0M374.4 446.2h1.0M343.5 478.6h1.0M383.1 436.1h1.0M370.8 454.5h1.0M344.5 472.2h1.0M360.3 454.6h1.0M350.0 470.7h1.0M359.3 460.5h1.0M353.6 461.6h1.0M368.6 445.7h1.0M352.6 465.6h1.0M364.4 454.9h1.0M353.7 462.4h1.0M371.2 450.4h1.0M373.0 450.7h1.0M359.2 462.1h1.0M354.4 462.1h1.0M353.1 463.3h1.0M339.0 479.4h1.0M354.4 466.0h1.0M356.4 462.9h1.0M357.6 457.7h1.0M366.4 448.0h1.0M359.8 460.0h1.0M373.3 447.8h1.0M354.4 464.1h1.0M375.6 449.0h1.0M369.4 447.4h1.0M361.9 461.2h1.0M364.5 457.1h1.0M362.6 457.6h1.0M363.4 457.9h1.0M358.4 464.1h1.0M346.7 475.6h1.0M367.0 448.3h1.0M354.5 466.9h1.0M368.2 457.5h1.0M341.3 476.5h1.0M357.8 470.1h1.0M370.7 452.9h1.0M383.7 437.1h1.0M349.0 470.5h1.0M354.0 460.2h1.0M362.6 457.8h1.0M356.7 461.8h1.0M370.7 444.2h1.0M373.1 448.0h1.0M355.8 460.6h1.0M371.0 453.7h1.0M363.0 452.7h1.0M361.9 453.4h1.0M367.8 447.9h1.0M362.0 457.2h1.0M362.8 456.3h1.0M358.8 462.7h1.0M367.0 455.6h1.0M350.2 465.5h1.0M349.8 468.6h1.0M359.3 464.7h1.0M364.5 451.3h1.0M361.4 457.3h1.0M357.0 463.4h1.0M381.8 438.1h1.0M351.3 465.9h1.0M379.4 443.3h1.0M348.4 462.9h1.0M341.0 468.6h1.0M354.3 468.3h1.0M364.5 455.2h1.0M370.5 448.6h1.0M369.9 451.0h1.0M358.8 457.6h1.0M360.4 463.4h1.0M364.4 455.2h1.0M365.3 453.5h1.0M371.1 446.4h1.0M350.0 473.0h1.0M377.5 437.3h1.0M346.7 468.7h1.0M364.8 453.2h1.0M365.2 452.2h1.0M366.2 453.2h1.0M352.5 468.0h1.0M367.1 454.8h1.0M367.2 450.3h1.0M362.3 460.2h1.0M353.5 464.9h1.0M364.1 458.7h1.0M356.5 463.5h1.0M365.3 452.3h1.0M353.9 461.6h1.0M357.5 464.3h1.0M358.8 460.4h1.0M357.2 466.7h1.0M359.2 457.0h1.0M386.3 431.6h1.0M357.2 462.6h1.0M355.8 461.2h1.0M365.9 455.0h1.0M359.6 461.3h1.0M356.0 457.7h1.0M359.3 459.1h1.0M368.0 453.2h1.0M348.0 471.4h1.0M367.8 452.4h1.0M360.1 461.9h1.0M356.1 463.1h1.0M367.5 450.3h1.0M357.6 466.1h1.0M360.6 462.0h1.0M357.8 458.5h1.0M361.1 452.6h1.0M360.2 459.1h1.0M376.8 441.2h1.0M378.0 443.5h1.0M369.5 450.5h1.0M367.4 446.7h1.0M360.0 457.7h1.0M370.9 449.4h1.0M362.8 456.8h1.0M362.4 463.1h1.0M369.7 450.3h1.0M360.0 455.7h1.0M352.8 467.3h1.0M349.0 472.3h1.0M360.9 454.3h1.0M354.6 462.8h1.0M359.0 461.6h1.0M345.9 475.4h1.0M374.6 441.5h1.0M362.8 454.5h1.0M365.4 457.6h1.0M378.4 444.4h1.0M364.9 453.1h1.0M360.8 458.0h1.0M351.9 459.1h1.0M362.9 457.4h1.0M374.8 448.0h1.0M372.7 451.4h1.0M372.6 447.2h1.0M346.0 475.6h1.0M350.6 465.2h1.0M360.1 458.4h1.0M357.0 462.7h1.0M360.3 458.4h1.0M346.6 466.8h1.0M383.1 427.7h1.0M365.9 457.6h1.0M371.3 448.4h1.0M366.0 448.2h1.0M370.0 446.5h1.0M368.2 452.9h1.0M377.0 443.2h1.0M356.2 460.4h1.0M354.5 467.0h1.0M365.4 450.1h1.0M376.5 446.2h1.0M369.5 450.2h1.0M359.7 455.3h1.0M367.3 453.3h1.0M364.7 454.1h1.0M350.1 465.5h1.0M361.2 456.8h1.0M352.1 464.9h1.0M347.7 467.3h1.0M356.4 463.4h1.0M379.9 437.8h1.0M358.4 458.7h1.0M347.9 472.0h1.0M369.6 447.2h1.0M367.6 444.9h1.0M360.6 456.7h1.0M368.8 449.0h1.0M367.5 449.6h1.0M359.0 460.0h1.0M357.0 466.3h1.0M372.3 449.5h1.0M370.0 455.1h1.0M364.6 454.5h1.0M359.0 453.8h1.0M360.2 464.4h1.0M364.8 458.6h1.0M382.0 447.8h1.0M368.0 444.3h1.0M390.2 432.0h1.0M354.9 462.1h1.0M346.8 476.0h1.0M361.8 457.1h1.0M356.6 467.1h1.0M353.5 467.9h1.0M374.9 441.0h1.0M349.5 466.5h1.0M359.8 457.9h1.0M370.3 450.1h1.0M367.0 456.7h1.0" stroke="#2b3b78" stroke-width="1.0" fill="none" opacity="0.8"/>
<path d="M374.3 441.5h1.0M366.4 450.5h1.0M373.5 440.7h1.0M384.1 427.1h1.0M364.5 459.7h1.0M361.8 453.3h1.0M363.2 453.8h1.0M363.3 458.3h1.0M366.6 447.3h1.0M364.9 451.5h1.0M378.0 440.8h1.0M394.1 422.3h1.0M392.6 428.4h1.0M386.2 434.6h1.0M362.1 448.8h1.0M352.3 461.9h1.0M368.0 452.0h1.0M374.3 445.4h1.0M360.2 455.0h1.0M360.9 451.9h1.0M376.7 442.7h1.0M376.5 439.0h1.0M356.9 458.5h1.0M386.6 437.6h1.0M386.1 432.2h1.0M362.0 456.5h1.0M369.1 447.6h1.0M372.4 442.8h1.0M381.4 432.0h1.0M373.6 448.2h1.0M373.8 439.5h1.0M369.1 451.0h1.0M372.7 443.1h1.0M369.5 452.3h1.0M361.5 450.6h1.0M357.3 459.1h1.0M380.8 434.8h1.0M358.6 455.3h1.0M369.9 444.6h1.0M399.6 423.1h1.0M375.0 449.1h1.0M364.5 450.1h1.0M368.7 449.3h1.0M370.2 441.8h1.0M374.7 447.8h1.0M363.9 447.2h1.0M358.1 456.7h1.0M403.4 422.3h1.0M349.6 460.2h1.0M379.9 438.3h1.0M352.6 461.5h1.0M367.6 449.7h1.0M374.3 446.8h1.0M354.8 459.8h1.0M353.1 457.6h1.0M383.4 431.5h1.0M353.2 464.5h1.0M382.3 438.3h1.0M369.4 442.8h1.0M371.4 442.1h1.0M366.0 447.6h1.0M366.2 454.9h1.0M363.6 453.0h1.0M371.5 445.9h1.0M378.6 439.1h1.0M366.1 454.2h1.0M382.8 435.5h1.0M367.7 442.4h1.0M363.1 454.1h1.0M391.1 424.2h1.0M406.7 418.5h1.0M378.9 442.9h1.0M362.2 456.7h1.0M367.5 449.0h1.0M364.1 458.2h1.0M374.4 442.7h1.0M360.9 457.4h1.0M385.1 436.4h1.0M392.1 427.9h1.0M368.3 449.7h1.0M361.2 452.7h1.0M392.2 424.5h1.0M360.4 453.5h1.0M373.3 445.4h1.0M366.4 453.6h1.0M370.3 445.9h1.0M379.5 438.9h1.0M368.9 449.2h1.0M377.2 437.7h1.0M385.7 427.1h1.0M363.6 447.5h1.0M363.1 453.8h1.0M364.6 449.7h1.0M374.5 440.7h1.0M358.1 459.6h1.0M363.5 449.6h1.0M371.1 448.7h1.0M376.1 445.1h1.0M355.3 460.3h1.0M368.5 451.5h1.0M368.3 444.9h1.0M362.1 459.8h1.0M389.2 430.5h1.0M377.7 439.9h1.0M358.5 460.5h1.0M370.0 446.5h1.0M359.5 455.6h1.0M394.5 421.7h1.0M376.9 440.5h1.0M364.5 448.9h1.0M363.3 459.7h1.0M355.1 454.3h1.0M377.6 439.5h1.0M374.5 442.3h1.0M361.6 456.6h1.0M372.8 446.9h1.0M364.6 458.7h1.0M392.9 425.7h1.0M377.8 435.9h1.0M392.4 429.9h1.0M376.6 440.4h1.0M384.7 436.2h1.0M355.9 460.7h1.0M350.0 467.9h1.0M376.9 442.3h1.0M363.7 456.4h1.0M367.4 453.4h1.0M409.6 413.2h1.0M374.0 443.5h1.0M359.7 451.3h1.0M363.2 455.6h1.0M370.4 445.2h1.0M391.8 424.7h1.0M381.4 430.4h1.0M368.8 450.6h1.0M377.7 439.7h1.0M367.0 450.3h1.0M365.7 453.4h1.0M367.4 448.4h1.0M365.6 452.3h1.0M372.7 447.9h1.0M376.2 445.8h1.0M365.5 447.0h1.0M360.7 456.6h1.0M370.4 446.9h1.0M361.5 451.8h1.0M368.5 445.6h1.0M368.9 446.0h1.0M365.6 449.9h1.0M365.9 449.7h1.0M394.5 422.7h1.0M389.0 430.4h1.0M379.7 438.3h1.0M363.7 446.3h1.0M354.9 459.8h1.0M364.7 450.7h1.0M366.9 455.1h1.0M362.7 450.0h1.0M360.7 456.3h1.0M376.3 441.9h1.0M391.2 428.1h1.0M358.2 455.4h1.0M388.5 430.3h1.0M363.7 453.2h1.0M363.8 446.7h1.0M381.3 433.0h1.0M371.7 449.1h1.0M370.1 443.6h1.0M369.2 450.1h1.0M375.6 442.6h1.0M362.1 458.0h1.0M361.6 451.3h1.0M374.5 438.7h1.0M376.5 443.9h1.0M373.5 445.3h1.0M393.8 430.1h1.0M378.4 440.0h1.0M360.2 453.1h1.0M350.4 473.5h1.0M387.0 428.5h1.0M372.0 447.0h1.0M370.8 450.0h1.0M365.4 448.6h1.0M354.5 464.8h1.0M384.1 441.7h1.0M362.9 452.8h1.0M364.9 449.9h1.0M367.9 450.8h1.0M363.0 451.8h1.0M364.1 456.4h1.0M362.6 448.1h1.0" stroke="#ab1849" stroke-width="1.0" fill="none" opacity="0.8"/>
<path d="M347.9 467.5h1.0M359.2 455.8h1.0M365.9 452.3h1.0M350.8 470.5h1.0M365.8 455.0h1.0M348.1 463.1h1.0M367.4 443.9h1.0M371.7 448.3h1.0M356.9 463.9h1.0M367.7 451.0h1.0M365.7 456.7h1.0M365.2 452.3h1.0M355.6 457.5h1.0M355.8 460.1h1.0M362.7 454.0h1.0M356.1 464.5h1.0M375.5 437.0h1.0M361.9 456.2h1.0M363.2 461.3h1.0M366.7 453.4h1.0M368.6 460.5h1.0M353.8 463.8h1.0M355.6 462.1h1.0M353.4 465.2h1.0M353.7 469.1h1.0M358.6 459.4h1.0M356.2 462.8h1.0M357.6 460.7h1.0M365.5 455.1h1.0M358.4 456.5h1.0M365.2 453.7h1.0M366.5 450.7h1.0M374.1 441.9h1.0M380.2 438.7h1.0M348.8 467.9h1.0M360.4 457.0h1.0M335.3 470.6h1.0M370.9 449.4h1.0M380.4 439.4h1.0M364.7 450.4h1.0M351.3 471.7h1.0M352.4 458.9h1.0M358.6 453.2h1.0M352.8 459.1h1.0M358.5 461.3h1.0M362.1 453.8h1.0M366.4 452.7h1.0M360.9 464.8h1.0M348.9 477.8h1.0M369.7 452.7h1.0M355.7 459.3h1.0M364.7 450.3h1.0M372.8 440.7h1.0M356.3 456.8h1.0M350.0 464.5h1.0M375.4 443.7h1.0M371.9 448.3h1.0M349.4 468.4h1.0M351.6 464.5h1.0M363.8 455.8h1.0M368.3 454.1h1.0M359.0 459.7h1.0M366.6 449.7h1.0M366.5 451.2h1.0M363.6 452.5h1.0M366.2 453.3h1.0M355.3 468.0h1.0M367.9 453.6h1.0M377.3 448.0h1.0M358.2 457.4h1.0M343.8 469.5h1.0M351.4 463.2h1.0M357.1 460.1h1.0M356.9 465.1h1.0M364.6 455.1h1.0M349.4 469.7h1.0M351.8 470.3h1.0M359.6 460.8h1.0M353.9 467.0h1.0M372.6 447.0h1.0M365.0 455.2h1.0M353.2 468.0h1.0M369.2 449.4h1.0M365.9 453.5h1.0M356.2 459.4h1.0M370.7 446.9h1.0M346.5 472.4h1.0M356.7 461.4h1.0M369.6 442.1h1.0M371.1 448.4h1.0M360.4 457.3h1.0M354.6 466.4h1.0M356.1 460.3h1.0M339.0 479.3h1.0M357.6 461.0h1.0M362.2 462.8h1.0M347.8 465.8h1.0M359.9 461.9h1.0M360.4 458.0h1.0M355.5 465.6h1.0M340.0 477.9h1.0M365.6 453.7h1.0M351.7 475.4h1.0M376.1 448.3h1.0M361.3 460.5h1.0M378.2 436.5h1.0M344.8 470.6h1.0M338.5 476.7h1.0M344.4 468.9h1.0M361.8 458.5h1.0M365.5 455.1h1.0M355.3 463.9h1.0M362.1 459.0h1.0M373.0 445.6h1.0M371.8 452.4h1.0M357.4 455.5h1.0M363.3 454.3h1.0M372.9 440.5h1.0M385.8 438.3h1.0M359.1 460.9h1.0M355.3 465.6h1.0M352.4 460.6h1.0M361.2 456.1h1.0M370.6 449.2h1.0M360.2 450.6h1.0M366.0 452.8h1.0M355.5 458.9h1.0M351.7 467.7h1.0M368.1 445.7h1.0M359.4 463.8h1.0M365.7 453.6h1.0M365.4 453.8h1.0M360.8 453.3h1.0M371.2 447.1h1.0M362.6 456.5h1.0M374.7 445.4h1.0M366.3 448.4h1.0M363.4 446.6h1.0M356.7 459.3h1.0M367.4 448.5h1.0M356.6 456.6h1.0M360.0 457.4h1.0M346.9 472.1h1.0M363.8 459.5h1.0M347.6 471.7h1.0M347.5 465.8h1.0M365.4 448.6h1.0M359.4 456.4h1.0M370.0 445.0h1.0M355.2 468.7h1.0M338.8 478.9h1.0M360.3 457.3h1.0M338.0 475.8h1.0M350.7 461.5h1.0M354.8 468.9h1.0M356.1 464.4h1.0M359.2 463.9h1.0M357.9 460.3h1.0M370.3 449.7h1.0M351.2 470.8h1.0M365.9 457.0h1.0M352.4 465.7h1.0M349.2 467.9h1.0M369.7 455.0h1.0M363.6 457.5h1.0M352.2 465.5h1.0M380.2 440.0h1.0M363.0 458.8h1.0M363.2 460.0h1.0M358.0 458.2h1.0M358.4 459.1h1.0M366.5 449.9h1.0M375.6 443.8h1.0M361.9 454.8h1.0M370.7 451.5h1.0M369.2 453.6h1.0M357.7 463.4h1.0M344.9 464.4h1.0M351.2 466.0h1.0M371.9 444.5h1.0M349.9 469.3h1.0M360.7 455.4h1.0M347.7 465.0h1.0M380.2 438.5h1.0M356.7 460.7h1.0M365.7 453.3h1.0M360.0 459.3h1.0M367.5 451.6h1.0M357.9 462.8h1.0M366.2 457.4h1.0M371.4 446.6h1.0M373.1 444.4h1.0M373.7 443.9h1.0M372.9 446.7h1.0M359.1 461.0h1.0M371.9 444.1h1.0M367.5 454.4h1.0M361.0 460.1h1.0M350.7 468.9h1.0M377.4 445.7h1.0M373.8 452.6h1.0M362.1 459.0h1.0" stroke="#2b3b78" stroke-width="1.0" fill="none" opacity="0.8"/>
<path d="M375.7 441.1h1.0M362.3 458.4h1.0M371.9 439.2h1.0M402.5 414.0h1.0M352.3 460.3h1.0M363.1 454.1h1.0M389.5 429.8h1.0M371.3 447.1h1.0M351.1 457.7h1.0M369.5 448.9h1.0M370.6 446.2h1.0M382.6 435.4h1.0M376.9 439.2h1.0M368.9 447.5h1.0M376.1 442.0h1.0M379.2 444.7h1.0M346.3 469.6h1.0M371.3 447.6h1.0M371.8 439.6h1.0M387.7 428.9h1.0M367.1 449.0h1.0M358.4 450.9h1.0M371.5 444.8h1.0M365.2 452.0h1.0M367.7 455.7h1.0M374.5 441.6h1.0M373.4 437.1h1.0M384.2 432.8h1.0M375.6 442.3h1.0M364.8 454.6h1.0M379.9 436.1h1.0M389.2 432.8h1.0M369.9 438.6h1.0M373.4 444.4h1.0M362.0 459.7h1.0M371.3 452.4h1.0M375.7 439.3h1.0M371.3 444.3h1.0M361.2 456.0h1.0M356.2 457.1h1.0M402.8 416.7h1.0M369.4 448.2h1.0M358.6 454.1h1.0M367.4 449.8h1.0M353.5 462.4h1.0M364.2 448.7h1.0M356.3 454.9h1.0M375.9 438.6h1.0M373.7 438.4h1.0M364.7 448.3h1.0M355.9 462.6h1.0M388.4 426.1h1.0M358.4 459.8h1.0M361.3 463.8h1.0M366.7 452.2h1.0M358.4 460.6h1.0M371.2 450.8h1.0M345.9 471.2h1.0M376.6 441.4h1.0M382.9 439.9h1.0M373.9 450.8h1.0M365.3 452.1h1.0M369.0 446.2h1.0M363.1 452.7h1.0M388.4 431.7h1.0M388.2 431.2h1.0M370.6 453.3h1.0M356.0 457.0h1.0M370.7 445.7h1.0M364.3 455.0h1.0M372.5 443.7h1.0M363.3 450.7h1.0M392.9 427.1h1.0M370.0 448.5h1.0M371.5 439.0h1.0M368.6 450.6h1.0M387.1 433.3h1.0M374.3 444.9h1.0M375.8 442.0h1.0M373.2 452.1h1.0M353.0 463.0h1.0M373.2 438.4h1.0M357.2 455.8h1.0M373.7 444.6h1.0M369.1 448.8h1.0M371.1 450.2h1.0M386.4 438.2h1.0M363.1 454.8h1.0M369.2 445.5h1.0M364.7 450.0h1.0M399.9 421.9h1.0M360.5 458.7h1.0M363.8 456.1h1.0M365.2 454.2h1.0M358.1 461.5h1.0M355.7 463.6h1.0M360.0 455.8h1.0M368.7 448.2h1.0M361.5 460.2h1.0M364.1 451.6h1.0M378.5 440.8h1.0M364.0 444.6h1.0M369.9 441.0h1.0M378.4 441.3h1.0M363.3 452.3h1.0M361.7 453.7h1.0M358.3 460.8h1.0M373.8 439.9h1.0M365.1 455.5h1.0M359.1 457.2h1.0M395.1 432.6h1.0M367.1 452.0h1.0M375.9 443.2h1.0M365.9 455.8h1.0M376.7 436.8h1.0M360.4 457.9h1.0M365.9 451.6h1.0M372.8 440.7h1.0M360.3 459.4h1.0M370.9 446.8h1.0M368.9 449.6h1.0M366.0 452.4h1.0M384.0 437.0h1.0M370.6 448.0h1.0M378.1 436.2h1.0M368.7 451.3h1.0M368.6 453.2h1.0M376.9 442.9h1.0M351.1 464.0h1.0M368.5 447.1h1.0M358.4 457.8h1.0M378.1 438.6h1.0M380.6 440.2h1.0M370.3 445.6h1.0M371.2 446.0h1.0M368.2 449.7h1.0M366.6 452.8h1.0M382.7 431.9h1.0M407.9 414.4h1.0M384.9 432.4h1.0M357.3 458.8h1.0M379.3 443.3h1.0M357.1 462.8h1.0M376.4 443.0h1.0M367.4 448.0h1.0M362.4 458.3h1.0M372.0 447.2h1.0M370.2 451.3h1.0M370.7 450.2h1.0M375.4 440.1h1.0M378.8 436.4h1.0M386.2 429.9h1.0M367.1 449.0h1.0M374.9 443.9h1.0M371.8 446.0h1.0M371.0 440.9h1.0M365.8 453.6h1.0M406.6 408.5h1.0M363.1 449.4h1.0M360.9 450.3h1.0M357.7 456.8h1.0M373.0 441.7h1.0M380.8 439.2h1.0M366.2 454.2h1.0M365.3 454.4h1.0M364.5 455.3h1.0M367.8 449.6h1.0M372.3 445.1h1.0M351.8 459.2h1.0M384.4 434.7h1.0M377.4 442.0h1.0M356.8 455.7h1.0M378.8 438.5h1.0M365.5 450.6h1.0M370.5 446.4h1.0M375.6 436.5h1.0M366.9 450.3h1.0M369.3 449.7h1.0M368.1 449.9h1.0M359.0 457.3h1.0M373.9 438.8h1.0M365.1 454.0h1.0M364.4 451.7h1.0M380.1 434.1h1.0M359.2 453.8h1.0M390.9 430.5h1.0M389.2 431.8h1.0M385.0 439.6h1.0M365.3 451.4h1.0M373.5 441.6h1.0M367.9 449.4h1.0" stroke="#ab1849" stroke-width="1.0" fill="none" opacity="0.8"/>
<path d="M359.9 457.5h1.0M358.3 461.1h1.0M353.7 465.3h1.0M355.5 461.3h1.0M370.2 444.6h1.0M370.8 447.8h1.0M372.0 450.0h1.0M360.9 457.0h1.0M377.5 444.3h1.0M376.2 447.8h1.0M342.7 476.1h1.0M367.0 455.6h1.0M359.1 461.7h1.0M360.8 458.2h1.0M377.0 443.6h1.0M363.0 459.9h1.0M363.8 455.2h1.0M347.2 462.3h1.0M367.6 455.5h1.0M363.2 451.2h1.0M362.4 451.6h1.0M361.9 449.1h1.0M360.0 456.2h1.0M340.7 476.6h1.0M366.1 456.6h1.0M367.5 448.4h1.0M362.3 457.8h1.0M378.8 442.6h1.0M342.3 472.6h1.0M369.4 452.1h1.0M365.9 456.8h1.0M358.3 461.1h1.0M353.3 462.0h1.0M358.3 460.9h1.0M355.2 462.5h1.0M366.2 453.0h1.0M361.1 454.1h1.0M366.3 457.1h1.0M347.2 468.3h1.0M373.5 445.5h1.0M357.6 461.3h1.0M364.0 454.8h1.0M376.1 437.6h1.0M375.5 451.5h1.0M357.9 465.3h1.0M353.7 464.5h1.0M361.9 466.0h1.0M368.3 455.4h1.0M362.7 451.2h1.0M360.8 450.5h1.0M351.8 466.8h1.0M346.9 471.9h1.0M362.8 454.8h1.0M368.5 446.1h1.0M349.9 466.2h1.0M358.6 452.5h1.0M379.6 438.2h1.0M352.2 462.1h1.0M355.0 465.3h1.0M351.3 458.1h1.0M366.8 451.9h1.0M363.6 458.2h1.0M369.3 453.6h1.0M371.0 447.2h1.0M360.9 455.2h1.0M359.3 457.2h1.0M363.4 456.0h1.0M353.7 464.5h1.0M376.7 442.9h1.0M368.9 455.6h1.0M356.2 465.8h1.0M363.3 452.5h1.0M366.8 455.5h1.0M363.4 453.5h1.0M353.5 465.5h1.0M375.1 444.2h1.0M363.3 460.0h1.0M358.5 461.1h1.0M360.4 460.7h1.0M359.7 459.8h1.0M363.5 458.8h1.0M358.1 460.0h1.0M367.2 455.6h1.0M360.3 456.2h1.0M366.2 453.4h1.0M364.3 453.7h1.0M363.0 455.2h1.0M362.3 454.9h1.0M353.6 460.0h1.0M367.9 449.4h1.0M371.4 451.3h1.0M365.0 456.0h1.0M359.3 464.2h1.0M349.5 467.5h1.0M366.1 452.7h1.0M367.6 448.6h1.0M378.5 443.1h1.0M350.3 469.6h1.0M358.3 458.8h1.0M358.1 466.9h1.0M369.1 447.7h1.0M368.0 452.7h1.0M370.1 450.5h1.0M368.3 451.7h1.0M360.1 459.8h1.0M362.5 462.5h1.0M363.9 453.7h1.0M368.6 446.2h1.0M371.5 453.2h1.0M362.7 456.8h1.0M359.5 457.6h1.0M359.3 463.5h1.0M367.2 460.2h1.0M360.1 461.1h1.0M352.2 470.1h1.0M348.4 466.4h1.0M361.6 458.7h1.0M375.3 442.8h1.0M384.9 439.7h1.0M346.6 468.9h1.0M364.5 454.9h1.0M364.0 455.2h1.0M366.2 457.2h1.0M370.5 452.4h1.0M368.5 450.1h1.0M356.0 465.3h1.0M360.8 455.6h1.0M368.1 454.5h1.0M363.2 455.4h1.0M374.1 445.9h1.0M364.1 452.5h1.0M359.5 466.5h1.0M353.2 465.9h1.0M368.0 445.1h1.0M365.1 457.5h1.0M346.0 468.4h1.0M354.1 466.3h1.0M359.5 457.3h1.0M347.7 473.7h1.0M358.7 460.7h1.0M366.9 452.3h1.0M355.6 461.1h1.0M369.0 450.7h1.0M374.6 445.9h1.0M368.2 451.2h1.0M368.0 452.7h1.0M358.1 459.4h1.0M358.8 458.1h1.0M368.1 453.9h1.0M353.0 465.5h1.0M358.2 460.3h1.0M357.4 464.5h1.0M357.3 464.6h1.0M356.1 456.3h1.0M353.5 471.0h1.0M368.2 450.9h1.0M362.7 451.6h1.0M367.8 455.8h1.0M369.2 449.1h1.0M365.7 454.9h1.0M365.2 461.0h1.0M356.1 459.2h1.0M362.9 459.1h1.0M356.6 462.9h1.0M378.2 444.4h1.0M362.5 457.6h1.0M357.4 466.3h1.0M376.6 447.9h1.0M360.3 462.6h1.0M367.1 451.6h1.0M352.5 466.9h1.0M362.4 453.8h1.0M368.2 450.4h1.0M352.9 467.0h1.0M347.9 472.2h1.0M356.5 463.3h1.0M350.7 464.6h1.0M359.8 455.6h1.0M364.4 456.9h1.0M350.2 468.7h1.0M366.5 453.5h1.0M364.1 449.6h1.0M364.6 455.6h1.0M350.1 466.8h1.0M359.8 464.5h1.0M365.1 457.4h1.0M356.4 455.7h1.0M372.6 455.4h1.0M357.9 460.3h1.0M373.9 444.6h1.0M358.5 455.0h1.0M387.4 432.7h1.0M349.4 463.7h1.0M354.6 466.8h1.0M372.5 443.0h1.0M364.6 449.9h1.0M352.6 466.3h1.0M361.3 459.6h1.0M363.8 455.7h1.0M359.2 459.9h1.0M366.3 458.8h1.0M364.5 456.9h1.0" stroke="#2b3b78" stroke-width="1.0" fill="none" opacity="0.8"/>
<path d="M357.6 456.5h1.0M374.1 445.3h1.0M379.6 440.8h1.0M366.4 450.1h1.0M370.1 447.1h1.0M360.4 447.3h1.0M402.3 414.2h1.0M357.7 452.1h1.0M369.6 444.4h1.0M363.3 451.6h1.0M382.2 437.3h1.0M362.7 454.1h1.0M373.1 447.5h1.0M373.1 439.6h1.0M362.8 457.1h1.0M376.3 440.3h1.0M381.8 435.0h1.0M377.0 438.5h1.0M362.3 457.9h1.0M372.0 446.4h1.0M363.6 453.0h1.0M374.1 439.0h1.0M361.7 450.6h1.0M379.3 441.8h1.0M364.8 449.5h1.0M358.1 450.6h1.0M361.1 453.0h1.0M361.7 454.0h1.0M354.6 464.8h1.0M383.8 434.2h1.0M367.6 445.1h1.0M366.8 448.2h1.0M370.6 443.1h1.0M365.0 453.7h1.0M376.2 442.5h1.0M372.2 442.2h1.0M378.8 433.0h1.0M370.4 445.8h1.0M395.4 430.3h1.0M387.2 428.9h1.0M372.2 441.5h1.0M366.4 450.2h1.0M398.7 416.2h1.0M364.1 451.0h1.0M368.6 445.3h1.0M391.5 429.8h1.0M399.7 419.6h1.0M358.8 454.9h1.0M380.4 436.8h1.0M380.6 436.4h1.0M378.1 439.7h1.0M355.6 461.9h1.0M382.4 434.3h1.0M382.5 434.4h1.0M380.1 437.2h1.0M368.0 449.8h1.0M397.1 422.2h1.0M369.7 447.8h1.0M365.5 446.8h1.0M397.0 420.5h1.0M385.7 437.8h1.0M348.8 472.0h1.0M371.8 446.4h1.0M374.9 440.7h1.0M372.2 449.1h1.0M374.2 437.4h1.0M365.0 446.7h1.0M362.4 457.6h1.0M374.9 440.8h1.0M381.4 435.4h1.0M381.0 439.8h1.0M395.6 423.8h1.0M356.1 462.9h1.0M358.5 458.1h1.0M376.9 440.9h1.0M366.1 446.4h1.0M363.7 452.0h1.0M374.3 441.8h1.0M368.1 449.4h1.0M367.2 448.9h1.0M368.7 447.4h1.0M374.7 449.1h1.0M371.0 444.0h1.0M367.1 452.7h1.0M372.6 445.5h1.0M382.9 435.2h1.0M365.7 447.9h1.0M367.0 456.7h1.0M367.0 450.7h1.0M398.1 420.3h1.0M361.8 451.6h1.0M365.6 449.3h1.0M365.8 445.3h1.0M383.8 433.0h1.0M352.2 457.4h1.0M367.3 450.4h1.0M385.9 430.3h1.0M374.2 441.5h1.0M371.9 446.2h1.0M371.9 444.8h1.0M367.6 447.5h1.0M370.1 437.7h1.0M375.0 445.4h1.0M376.0 440.3h1.0M377.2 434.8h1.0M368.8 452.3h1.0M398.4 414.8h1.0M360.2 457.5h1.0M352.1 463.9h1.0M372.4 443.7h1.0M379.9 437.7h1.0M377.1 437.0h1.0M368.1 444.4h1.0M374.4 443.0h1.0M380.7 437.7h1.0M352.7 465.6h1.0M367.4 448.6h1.0M377.1 437.1h1.0M370.5 450.9h1.0M360.9 451.6h1.0M368.1 445.6h1.0M368.5 450.9h1.0M355.5 468.0h1.0M365.9 450.8h1.0M374.4 442.8h1.0M368.7 449.4h1.0M362.9 449.2h1.0M363.4 453.3h1.0M361.8 457.8h1.0M364.3 454.8h1.0M392.1 425.4h1.0M362.8 451.7h1.0M387.4 431.6h1.0M367.1 452.9h1.0M369.9 448.2h1.0M370.5 447.1h1.0M379.0 437.5h1.0M374.1 440.5h1.0M371.0 447.4h1.0M363.2 457.4h1.0M375.0 445.7h1.0M372.1 446.0h1.0M379.6 437.0h1.0M357.2 456.6h1.0M373.6 446.2h1.0M365.2 454.0h1.0M365.3 447.7h1.0M366.0 447.2h1.0M359.2 451.2h1.0M369.7 443.3h1.0M389.0 432.3h1.0M362.2 451.2h1.0M349.1 468.8h1.0M354.8 459.1h1.0M374.1 438.3h1.0M394.0 420.8h1.0M376.3 443.2h1.0M377.2 436.6h1.0M366.7 455.6h1.0M360.6 458.2h1.0M370.3 441.3h1.0M346.3 469.6h1.0M367.0 449.1h1.0M355.2 463.7h1.0M361.1 454.3h1.0M368.4 443.6h1.0M359.3 454.5h1.0M353.4 467.8h1.0M369.4 448.4h1.0M352.8 462.2h1.0M371.2 446.6h1.0M372.8 442.7h1.0M366.9 451.7h1.0M377.5 442.9h1.0M362.6 454.5h1.0M369.3 449.8h1.0M382.3 436.4h1.0M371.1 443.8h1.0M379.8 435.7h1.0M362.5 456.9h1.0M367.9 445.9h1.0M365.0 456.7h1.0M390.6 425.7h1.0M393.1 431.0h1.0M376.6 437.1h1.0M394.5 420.2h1.0M372.8 443.8h1.0M372.2 443.9h1.0M362.5 455.7h1.0M375.1 444.0h1.0M374.6 446.9h1.0" stroke="#ab1849" stroke-width="1.0" fill="none" opacity="0.8"/>
<path d="M373.0 448.1h1.0M367.9 452.4h1.0M372.0 448.6h1.0M357.5 458.1h1.0M373.0 445.4h1.0M359.8 459.4h1.0M359.8 463.7h1.0M353.2 462.5h1.0M355.8 462.7h1.0M362.6 458.3h1.0M350.1 467.5h1.0M350.4 470.7h1.0M367.4 452.5h1.0M358.6 459.4h1.0M362.1 461.8h1.0M346.0 469.2h1.0M372.7 447.8h1.0M365.1 448.6h1.0M350.1 469.0h1.0M338.9 477.3h1.0M369.8 455.1h1.0M355.8 459.5h1.0M366.2 454.5h1.0M357.2 457.2h1.0M360.0 457.1h1.0M350.9 466.0h1.0M359.6 458.0h1.0M369.9 445.2h1.0M375.0 449.9h1.0M356.7 462.9h1.0M365.5 454.6h1.0M360.9 458.0h1.0M369.1 453.0h1.0M354.3 462.1h1.0M357.5 459.8h1.0M363.4 460.4h1.0M370.6 447.1h1.0M363.7 454.9h1.0M367.0 457.1h1.0M357.4 458.1h1.0M354.2 463.8h1.0M384.4 435.5h1.0M364.9 457.0h1.0M358.3 460.4h1.0M354.5 464.9h1.0M364.5 453.6h1.0M366.4 453.6h1.0M351.3 463.5h1.0M364.5 455.4h1.0M353.2 464.4h1.0M366.2 455.7h1.0M361.8 460.0h1.0M376.0 448.4h1.0M370.7 446.1h1.0M362.1 458.7h1.0M360.5 467.8h1.0M355.0 459.2h1.0M360.2 463.1h1.0M367.9 448.7h1.0M365.0 455.0h1.0M369.5 449.4h1.0M355.2 462.7h1.0M376.8 442.7h1.0M353.8 464.1h1.0M341.6 480.7h1.0M372.8 449.9h1.0M350.4 474.4h1.0M359.7 457.3h1.0M367.0 451.8h1.0M352.1 463.9h1.0M355.5 465.6h1.0M383.5 437.7h1.0M349.9 466.9h1.0M362.1 454.6h1.0M360.7 454.7h1.0M367.3 455.8h1.0M348.4 464.6h1.0M350.7 469.2h1.0M369.8 448.9h1.0M369.7 444.4h1.0M350.3 467.0h1.0M372.0 445.3h1.0M385.6 435.5h1.0M352.0 475.6h1.0M364.8 453.5h1.0M370.5 444.8h1.0M376.3 441.8h1.0M377.2 441.6h1.0M352.4 465.2h1.0M376.9 441.3h1.0M363.2 453.4h1.0M357.9 462.2h1.0M360.6 459.4h1.0M359.5 461.8h1.0M365.7 451.4h1.0M361.0 458.3h1.0M365.9 450.5h1.0M385.3 439.5h1.0M356.2 463.8h1.0M368.7 454.0h1.0M377.7 439.7h1.0M359.2 456.5h1.0M368.2 450.5h1.0M365.3 457.4h1.0M350.1 464.6h1.0M354.2 463.8h1.0M355.0 455.5h1.0M361.6 458.4h1.0M360.7 459.2h1.0M363.6 447.2h1.0M353.3 467.3h1.0M358.9 457.7h1.0M369.8 447.2h1.0M358.4 455.1h1.0M359.6 458.2h1.0M363.3 458.6h1.0M353.3 462.2h1.0M364.3 456.3h1.0M390.4 423.5h1.0M365.8 457.6h1.0M352.9 463.2h1.0M368.1 451.4h1.0M365.3 452.0h1.0M364.9 448.0h1.0M367.0 450.8h1.0M355.3 462.3h1.0M353.3 462.9h1.0M366.0 456.0h1.0M362.0 463.9h1.0M360.7 460.0h1.0M373.6 442.0h1.0M364.8 448.2h1.0M367.2 450.0h1.0M359.5 458.9h1.0M358.8 460.0h1.0M359.5 453.5h1.0M355.9 463.1h1.0M357.7 448.8h1.0M367.8 454.1h1.0M360.1 460.2h1.0M367.5 453.4h1.0M368.2 452.0h1.0M365.5 455.1h1.0M369.7 451.0h1.0M348.7 473.6h1.0M348.4 474.0h1.0M358.4 455.0h1.0M364.3 455.2h1.0M346.8 469.9h1.0M359.7 463.8h1.0M349.7 466.9h1.0M361.0 455.6h1.0M359.2 456.3h1.0M369.6 450.2h1.0M370.9 450.5h1.0M384.4 436.9h1.0M347.6 473.0h1.0M351.6 462.6h1.0M350.0 466.9h1.0M359.8 461.1h1.0M359.1 459.0h1.0M353.3 462.8h1.0M373.5 448.4h1.0M366.5 449.8h1.0M374.3 450.2h1.0M363.8 453.7h1.0M361.8 459.7h1.0M336.6 475.2h1.0M371.3 444.6h1.0M358.3 455.0h1.0M371.4 453.0h1.0M364.2 456.0h1.0M353.3 467.0h1.0M376.9 438.6h1.0M364.1 457.5h1.0M374.0 445.7h1.0M364.9 456.7h1.0M358.8 457.7h1.0M363.2 455.7h1.0M354.1 468.2h1.0M361.7 456.7h1.0M366.7 453.0h1.0M358.4 455.8h1.0M361.3 460.1h1.0M365.6 455.5h1.0M350.8 465.3h1.0M371.6 447.3h1.0M358.6 461.4h1.0M352.5 470.7h1.0M371.0 451.9h1.0M346.9 471.0h1.0M364.0 456.9h1.0M376.2 442.0h1.0M362.0 456.1h1.0M347.3 472.3h1.0M375.5 448.5h1.0M361.1 458.4h1.0M362.7 453.1h1.0M353.1 458.7h1.0M352.5 466.3h1.0M357.8 461.4h1.0M367.4 451.5h1.0" stroke="#2b3b78" stroke-width="1.0" fill="none" opacity="0.8"/>
<path d="M377.9 442.5h1.0M358.8 458.1h1.0M369.9 449.3h1.0M368.0 450.2h1.0M365.0 454.6h1.0M364.1 449.7h1.0M367.5 447.3h1.0M377.0 435.6h1.0M365.5 450.3h1.0M355.7 457.8h1.0M365.3 449.5h1.0M357.7 456.5h1.0M377.9 440.4h1.0M399.2 416.4h1.0M366.8 453.2h1.0M362.8 452.0h1.0M364.2 449.0h1.0M370.0 447.9h1.0M362.9 453.3h1.0M359.3 455.7h1.0M372.4 441.3h1.0M365.7 455.1h1.0M371.3 441.8h1.0M357.4 460.2h1.0M403.7 416.0h1.0M370.0 450.1h1.0M379.4 434.3h1.0M371.2 446.0h1.0M364.2 445.1h1.0M363.5 454.1h1.0M362.4 460.2h1.0M371.9 445.1h1.0M355.3 455.7h1.0M376.1 440.5h1.0M366.7 452.7h1.0M362.7 449.8h1.0M360.5 453.7h1.0M358.8 458.8h1.0M370.6 442.4h1.0M366.8 451.7h1.0M373.5 441.2h1.0M357.3 458.7h1.0M374.3 445.2h1.0M358.7 453.1h1.0M376.9 439.1h1.0M394.2 425.7h1.0M373.6 438.2h1.0M393.5 422.4h1.0M373.8 442.1h1.0M383.7 438.0h1.0M375.2 441.8h1.0M369.2 447.9h1.0M363.6 453.0h1.0M356.0 460.1h1.0M360.7 455.8h1.0M361.4 453.9h1.0M375.3 441.2h1.0M390.2 422.6h1.0M364.3 454.0h1.0M371.4 446.0h1.0M384.5 431.5h1.0M366.2 456.9h1.0M355.7 458.4h1.0M364.5 451.4h1.0M362.6 457.1h1.0M370.7 445.6h1.0M358.9 466.3h1.0M360.2 453.2h1.0M371.0 443.1h1.0M378.8 440.0h1.0M377.6 442.9h1.0M355.0 459.5h1.0M365.4 451.5h1.0M365.1 454.5h1.0M385.3 435.4h1.0M381.2 430.3h1.0M385.1 436.3h1.0M354.4 457.3h1.0M363.3 451.0h1.0M360.6 453.8h1.0M367.4 450.3h1.0M370.7 446.1h1.0M360.4 457.7h1.0M392.7 428.4h1.0M372.5 443.8h1.0M352.4 458.1h1.0M385.9 433.5h1.0M370.0 449.3h1.0M358.5 457.5h1.0M360.2 454.3h1.0M368.8 446.8h1.0M363.1 459.7h1.0M364.3 451.9h1.0M400.1 413.3h1.0M391.2 428.5h1.0M357.3 453.4h1.0M359.4 458.5h1.0M360.3 453.5h1.0M375.5 440.5h1.0M363.4 463.2h1.0M369.5 446.6h1.0M364.3 455.8h1.0M363.7 449.3h1.0M377.6 444.0h1.0M382.8 436.8h1.0M384.1 437.9h1.0M368.5 445.7h1.0M362.4 460.0h1.0M380.3 437.2h1.0M357.1 460.8h1.0M376.1 443.0h1.0M361.4 454.8h1.0M382.8 434.4h1.0M369.3 452.0h1.0M367.4 448.1h1.0M381.2 441.4h1.0M366.0 450.2h1.0M358.9 453.7h1.0M350.2 474.9h1.0M357.1 459.5h1.0M371.4 447.4h1.0M380.0 435.2h1.0M372.1 444.4h1.0M381.1 434.4h1.0M367.4 449.8h1.0M373.5 446.3h1.0M369.1 450.2h1.0M362.1 454.9h1.0M358.3 458.2h1.0M401.7 421.9h1.0M372.5 444.5h1.0M367.5 450.3h1.0M376.1 441.8h1.0M363.1 451.6h1.0M362.5 455.8h1.0M378.0 439.0h1.0M363.1 451.3h1.0M346.9 461.4h1.0M373.3 443.0h1.0M365.4 455.5h1.0M374.3 438.9h1.0M373.4 442.9h1.0M378.3 443.4h1.0M377.3 441.2h1.0M368.2 451.4h1.0M399.3 418.0h1.0M386.4 433.0h1.0M362.2 450.2h1.0M397.1 416.0h1.0M352.4 459.0h1.0M369.4 448.2h1.0M386.2 432.5h1.0M381.4 432.5h1.0M372.1 445.2h1.0M387.4 425.2h1.0M381.4 439.3h1.0M372.8 443.4h1.0M357.2 462.8h1.0M367.4 452.1h1.0M375.0 445.3h1.0M393.9 430.5h1.0M361.8 457.3h1.0M373.5 442.5h1.0M392.8 426.6h1.0M364.2 454.1h1.0M371.9 451.5h1.0M359.7 456.9h1.0M361.6 452.0h1.0M394.5 422.0h1.0M377.1 435.5h1.0M375.2 441.3h1.0M376.3 441.8h1.0M357.7 455.7h1.0M363.7 449.7h1.0M367.8 453.3h1.0M378.0 446.0h1.0M358.6 452.5h1.0M381.4 439.1h1.0M363.3 456.1h1.0M362.7 457.4h1.0M375.1 444.3h1.0M362.1 449.9h1.0M371.9 445.9h1.0M359.2 458.7h1.0M364.4 455.4h1.0M372.1 443.3h1.0M371.5 451.2h1.0M367.0 448.0h1.0M366.8 450.5h1.0M366.2 451.4h1.0M363.5 452.9h1.0" stroke="#ab1849" stroke-width="1.0" fill="none" opacity="0.8"/>
<rect x="331.0" y="404.0" width="85.6" height="85.6" fill="none" stroke="#333" stroke-width="1.7"/>
<path d="M344.0 579.2h1.0M350.4 562.2h1.0M350.4 570.7h1.0M354.5 563.2h1.0M354.8 566.6h1.0M370.6 549.0h1.0M383.5 544.9h1.0M362.6 554.1h1.0M374.2 535.6h1.0M374.5 548.1h1.0M352.6 563.1h1.0M358.3 556.7h1.0M369.6 544.2h1.0M358.9 560.1h1.0M364.1 555.8h1.0M351.2 556.4h1.0M376.8 542.0h1.0M366.2 557.3h1.0M375.3 555.6h1.0M348.1 569.8h1.0M375.5 544.8h1.0M360.2 560.1h1.0M361.3 558.5h1.0M354.2 562.7h1.0M352.2 566.8h1.0M401.0 517.9h1.0M365.9 551.5h1.0M365.6 552.6h1.0M360.2 557.6h1.0M363.0 565.5h1.0M363.9 552.3h1.0M345.0 557.7h1.0M367.9 551.5h1.0M353.4 562.1h1.0M349.1 570.8h1.0M367.4 551.2h1.0M369.8 550.8h1.0M345.8 568.9h1.0M350.6 573.1h1.0M349.7 558.2h1.0M359.6 568.4h1.0M371.5 545.1h1.0M367.3 554.7h1.0M357.7 562.3h1.0M370.5 555.9h1.0M359.1 558.9h1.0M375.0 542.3h1.0M362.6 556.6h1.0M388.4 527.6h1.0M354.1 562.6h1.0M356.7 558.9h1.0M357.7 564.1h1.0M354.5 561.4h1.0M350.8 565.3h1.0M362.2 562.3h1.0M347.4 568.3h1.0M357.2 555.1h1.0M361.8 566.3h1.0M361.2 551.2h1.0M360.5 564.3h1.0M384.8 540.3h1.0M372.8 555.1h1.0M362.4 550.7h1.0M352.1 574.9h1.0M363.2 555.1h1.0M376.3 549.5h1.0M392.4 542.1h1.0M357.8 562.9h1.0M365.1 550.1h1.0M345.6 566.3h1.0M370.3 554.6h1.0M365.2 551.4h1.0M354.3 566.5h1.0M371.4 543.4h1.0M352.7 560.3h1.0M376.9 549.7h1.0M369.8 553.8h1.0M360.3 563.1h1.0M370.0 541.8h1.0M399.8 534.2h1.0M350.1 564.8h1.0M363.7 554.7h1.0M368.8 541.1h1.0M347.6 570.9h1.0M370.8 557.0h1.0M353.7 559.0h1.0M373.6 547.5h1.0M351.8 572.5h1.0M349.7 570.2h1.0M343.6 568.5h1.0M363.6 552.7h1.0M374.4 539.4h1.0M364.3 546.7h1.0M357.1 562.9h1.0M362.2 556.6h1.0M366.0 543.4h1.0M347.5 572.7h1.0M378.7 542.1h1.0M355.3 563.9h1.0M364.5 569.0h1.0M379.0 554.5h1.0M350.9 573.5h1.0M368.1 556.7h1.0M354.6 558.5h1.0M349.8 556.7h1.0M379.2 548.8h1.0M357.1 563.2h1.0M351.4 570.2h1.0M355.8 557.6h1.0M362.1 563.7h1.0M364.7 562.4h1.0M356.1 560.1h1.0M370.3 547.1h1.0M379.1 537.6h1.0M372.9 546.6h1.0M353.7 559.9h1.0M395.6 527.9h1.0M380.7 547.1h1.0M369.6 545.6h1.0M357.7 563.5h1.0M375.7 551.4h1.0M360.8 561.8h1.0M362.8 551.6h1.0M387.2 547.5h1.0M362.6 556.0h1.0M350.0 572.7h1.0M353.2 563.6h1.0M362.4 555.6h1.0M376.9 540.3h1.0M366.6 573.4h1.0M372.8 548.6h1.0M363.3 563.3h1.0M363.1 555.0h1.0M375.5 552.5h1.0M335.9 566.7h1.0M349.6 577.4h1.0M379.0 536.2h1.0M358.3 564.7h1.0M356.2 564.9h1.0M354.2 564.1h1.0M391.4 529.3h1.0M364.2 555.9h1.0M362.8 556.9h1.0M349.4 565.0h1.0M362.2 550.7h1.0M375.2 545.3h1.0M381.1 542.0h1.0M366.8 556.0h1.0M342.0 574.1h1.0M369.3 546.6h1.0M364.1 549.7h1.0M358.9 565.9h1.0M370.9 548.7h1.0M352.2 563.3h1.0M365.4 545.0h1.0M370.2 557.7h1.0M386.8 531.0h1.0M361.3 559.0h1.0M368.0 554.6h1.0M371.8 551.6h1.0M361.3 552.5h1.0M356.6 556.7h1.0M359.5 561.3h1.0M352.5 558.6h1.0M360.9 547.9h1.0M371.1 548.0h1.0M374.2 536.7h1.0M366.9 562.7h1.0M358.7 557.4h1.0M366.3 552.9h1.0M371.2 541.0h1.0M362.3 552.0h1.0M352.2 571.8h1.0M373.6 551.2h1.0M375.2 541.5h1.0M368.5 547.9h1.0M377.8 538.2h1.0M350.0 565.0h1.0M381.1 558.1h1.0M358.6 557.5h1.0M362.1 549.6h1.0M355.3 567.4h1.0M375.7 549.5h1.0M364.8 544.2h1.0M367.3 550.0h1.0M359.9 561.8h1.0M356.4 550.3h1.0M370.8 545.0h1.0M351.5 570.8h1.0M355.7 558.9h1.0M355.9 570.4h1.0M367.5 550.5h1.0M355.9 547.8h1.0M364.1 554.2h1.0M366.3 548.5h1.0M362.0 558.1h1.0M375.5 546.2h1.0M346.9 577.3h1.0M357.5 557.4h1.0M352.9 574.6h1.0M364.2 564.5h1.0M357.9 564.2h1.0M382.3 536.0h1.0M366.5 551.3h1.0M354.5 575.5h1.0M365.6 545.4h1.0M367.1 553.4h1.0M352.9 566.4h1.0M359.3 546.6h1.0M393.4 540.9h1.0M354.3 568.3h1.0M378.4 548.2h1.0M358.2 555.8h1.0M357.3 554.3h1.0M353.8 554.5h1.0M346.7 566.8h1.0M363.9 560.3h1.0M373.9 551.4h1.0M362.0 547.2h1.0M374.8 547.8h1.0M361.4 556.2h1.0M361.2 560.9h1.0M370.5 551.0h1.0M363.6 568.4h1.0M368.3 558.2h1.0M360.9 549.6h1.0M343.0 567.0h1.0" stroke="#2b3b78" stroke-width="1.0" fill="none" opacity="0.8"/>
<path d="M369.4 552.0h1.0M360.4 569.3h1.0M370.6 553.2h1.0M337.3 575.2h1.0M364.0 560.9h1.0M375.4 558.1h1.0M362.3 559.7h1.0M359.4 567.7h1.0M357.5 562.2h1.0M369.0 569.7h1.0M364.1 559.1h1.0M337.9 572.3h1.0M378.8 550.8h1.0M363.0 564.2h1.0M366.2 548.6h1.0M349.1 574.5h1.0M374.7 553.2h1.0M353.1 566.3h1.0M364.3 559.1h1.0M369.6 551.2h1.0M391.7 541.5h1.0M361.1 568.8h1.0M376.3 545.0h1.0M368.7 556.3h1.0M373.4 554.4h1.0M358.2 566.1h1.0M355.8 563.6h1.0M367.1 555.9h1.0M361.1 560.4h1.0M397.6 516.5h1.0M353.5 575.3h1.0M369.1 558.7h1.0M370.0 559.6h1.0M393.6 526.1h1.0M366.7 543.5h1.0M366.6 559.5h1.0M360.7 562.4h1.0M368.6 566.5h1.0M375.7 551.2h1.0M394.6 525.4h1.0M378.6 548.0h1.0M376.7 545.9h1.0M386.9 536.8h1.0M369.7 553.7h1.0M373.6 546.9h1.0M390.9 531.3h1.0M375.5 552.9h1.0M364.9 558.0h1.0M400.0 521.8h1.0M349.6 570.9h1.0M382.0 543.4h1.0M375.0 558.6h1.0M359.8 563.5h1.0M370.6 556.5h1.0M349.6 577.0h1.0M402.9 523.9h1.0M363.6 559.7h1.0M360.8 566.7h1.0M370.9 552.4h1.0M355.4 568.9h1.0M363.7 560.1h1.0M356.1 576.1h1.0M377.5 548.0h1.0M359.9 569.5h1.0M359.9 560.2h1.0M378.7 553.5h1.0M372.3 554.3h1.0M360.4 567.2h1.0M360.5 573.5h1.0M355.3 576.6h1.0M382.4 548.9h1.0M373.0 550.8h1.0M358.8 567.1h1.0M372.6 554.3h1.0M371.5 524.6h1.0M359.6 569.2h1.0M358.2 570.9h1.0M387.6 532.6h1.0M380.2 537.1h1.0M374.7 556.4h1.0M359.6 564.1h1.0M384.4 546.1h1.0M364.0 560.2h1.0M391.5 540.2h1.0M379.8 541.4h1.0M367.9 556.8h1.0M374.6 563.7h1.0M366.8 563.7h1.0M365.2 560.2h1.0M370.2 551.4h1.0M353.9 571.9h1.0M378.1 549.5h1.0M368.7 565.9h1.0M355.3 570.0h1.0M374.7 557.5h1.0M384.1 550.8h1.0M381.8 549.3h1.0M384.5 546.4h1.0M376.5 543.0h1.0M375.5 545.0h1.0M367.8 554.8h1.0M373.7 546.1h1.0M374.9 545.6h1.0M369.7 554.0h1.0M378.1 562.5h1.0M349.8 585.0h1.0M361.5 567.2h1.0M359.7 566.6h1.0M365.2 555.2h1.0M381.9 557.1h1.0M362.0 561.7h1.0M367.0 561.3h1.0M366.8 560.1h1.0M362.8 560.7h1.0M368.1 562.2h1.0M367.4 564.6h1.0M369.2 563.3h1.0M353.1 571.9h1.0M374.0 547.6h1.0M367.5 566.0h1.0M376.5 534.3h1.0M385.1 544.7h1.0M372.0 562.5h1.0M370.2 551.8h1.0M372.0 559.1h1.0M356.3 558.7h1.0M341.2 574.8h1.0M382.6 550.5h1.0M361.8 561.9h1.0M401.2 540.1h1.0M386.2 535.8h1.0M374.8 557.3h1.0M346.7 580.1h1.0M382.4 540.7h1.0M372.0 561.0h1.0M354.2 558.4h1.0M369.7 564.1h1.0M371.6 560.4h1.0M394.3 542.1h1.0M381.3 543.1h1.0M387.4 543.7h1.0M360.4 568.8h1.0M376.5 552.2h1.0M378.6 552.9h1.0M388.2 540.9h1.0M357.3 566.2h1.0M376.4 555.0h1.0M370.4 562.1h1.0M379.7 538.2h1.0M355.6 572.2h1.0M354.9 572.9h1.0M376.7 552.1h1.0M368.4 561.5h1.0M361.0 560.3h1.0M369.8 559.0h1.0M350.2 575.5h1.0M367.7 553.1h1.0M406.4 527.6h1.0M366.2 559.6h1.0M375.2 559.9h1.0M368.5 558.5h1.0M347.2 563.7h1.0M375.8 553.8h1.0M396.2 532.9h1.0M370.2 555.2h1.0M380.7 542.4h1.0M376.1 556.5h1.0M360.8 571.4h1.0M381.4 552.3h1.0M398.9 523.5h1.0M372.4 553.3h1.0M379.2 537.6h1.0M362.8 557.1h1.0M372.8 553.9h1.0M359.3 569.0h1.0M359.6 567.7h1.0M366.6 547.5h1.0M384.3 551.1h1.0M373.6 547.2h1.0M363.0 559.5h1.0M365.6 552.0h1.0M367.2 567.3h1.0M367.4 560.5h1.0M401.6 517.1h1.0M382.3 554.0h1.0M367.0 551.8h1.0M369.4 556.1h1.0M367.2 564.0h1.0M383.4 540.6h1.0M387.9 535.8h1.0M367.4 569.8h1.0M376.9 542.6h1.0M376.5 551.7h1.0M354.5 570.0h1.0M370.8 557.0h1.0M355.4 568.4h1.0M369.5 550.7h1.0M397.7 536.2h1.0M360.6 552.6h1.0M383.1 544.7h1.0M374.0 550.9h1.0M392.9 534.7h1.0M368.3 538.2h1.0M379.9 546.6h1.0M376.2 553.1h1.0M378.7 544.3h1.0M388.3 543.4h1.0M399.0 533.1h1.0M377.7 548.8h1.0M368.0 563.4h1.0M385.3 545.8h1.0M378.7 544.9h1.0M366.4 558.0h1.0M351.1 572.0h1.0M365.7 561.0h1.0M373.8 564.6h1.0M356.1 565.6h1.0M380.2 547.9h1.0M385.4 540.3h1.0M370.8 560.5h1.0M369.5 554.0h1.0M371.5 554.9h1.0M383.4 549.5h1.0M381.7 547.3h1.0M403.4 525.3h1.0M366.7 558.1h1.0M381.9 552.7h1.0M368.6 556.0h1.0M397.2 522.1h1.0M363.6 553.7h1.0M369.8 556.3h1.0" stroke="#ab1849" stroke-width="1.0" fill="none" opacity="0.8"/>
<path d="M360.0 565.0h1.0M362.8 553.6h1.0M359.1 557.4h1.0M379.0 551.8h1.0M366.6 562.5h1.0M341.6 574.3h1.0M358.1 565.5h1.0M363.5 560.0h1.0M350.2 565.4h1.0M381.2 555.8h1.0M367.3 543.1h1.0M358.9 557.1h1.0M341.3 581.8h1.0M386.9 530.3h1.0M375.1 545.3h1.0M372.9 544.5h1.0M343.0 564.9h1.0M362.7 561.3h1.0M404.5 510.8h1.0M353.5 565.1h1.0M362.4 551.0h1.0M364.8 564.4h1.0M364.8 550.8h1.0M381.1 531.7h1.0M364.9 550.3h1.0M404.4 538.4h1.0M363.0 546.4h1.0M364.0 560.7h1.0M375.1 542.4h1.0M345.0 573.8h1.0M379.6 548.3h1.0M360.1 560.7h1.0M365.4 542.0h1.0M378.0 548.3h1.0M362.0 555.4h1.0M342.0 567.3h1.0M363.0 560.0h1.0M355.4 568.4h1.0M343.9 565.7h1.0M358.2 558.9h1.0M349.4 577.7h1.0M372.9 539.7h1.0M336.5 578.4h1.0M354.2 571.0h1.0M370.5 538.5h1.0M378.3 544.2h1.0M358.0 559.7h1.0M354.1 549.1h1.0M370.3 556.1h1.0M362.1 559.3h1.0M370.9 554.6h1.0M374.2 544.7h1.0M351.8 570.6h1.0M365.2 553.9h1.0M361.9 537.4h1.0M349.5 562.6h1.0M362.3 563.4h1.0M353.7 561.5h1.0M380.0 535.5h1.0M363.2 547.2h1.0M358.3 554.9h1.0M366.1 553.5h1.0M357.5 550.5h1.0M363.0 556.7h1.0M359.6 557.2h1.0M363.5 551.7h1.0M357.3 559.3h1.0M366.1 552.5h1.0M365.7 549.0h1.0M379.3 537.9h1.0M361.2 552.5h1.0M361.9 553.9h1.0M349.2 576.5h1.0M356.0 567.0h1.0M352.3 562.7h1.0M356.1 565.1h1.0M358.3 559.6h1.0M380.7 548.5h1.0M362.8 550.8h1.0M366.5 556.1h1.0M366.3 551.8h1.0M367.9 547.1h1.0M354.3 568.8h1.0M366.0 559.3h1.0M357.7 560.5h1.0M355.5 572.3h1.0M364.3 552.8h1.0M371.6 542.4h1.0M376.8 557.8h1.0M358.8 560.4h1.0M362.7 553.9h1.0M353.3 559.9h1.0M376.0 551.4h1.0M345.8 568.2h1.0M375.8 560.7h1.0M366.2 557.8h1.0M370.8 551.5h1.0M357.9 560.3h1.0M354.8 558.7h1.0M389.6 544.5h1.0M363.9 552.3h1.0M355.7 558.0h1.0M371.1 550.3h1.0M384.8 533.7h1.0M355.0 565.9h1.0M356.8 543.5h1.0M377.2 543.6h1.0M353.3 570.1h1.0M352.1 568.9h1.0M367.2 560.4h1.0M401.9 525.1h1.0M359.2 557.2h1.0M359.3 561.3h1.0M384.5 540.3h1.0M361.8 552.2h1.0M382.8 556.4h1.0M374.4 546.9h1.0M361.8 566.5h1.0M364.5 553.0h1.0M362.2 562.4h1.0M365.6 554.8h1.0M363.2 555.1h1.0M360.9 559.7h1.0M366.7 555.9h1.0M355.4 560.0h1.0M347.4 564.6h1.0M343.2 568.2h1.0M359.9 554.4h1.0M391.8 544.7h1.0M366.0 564.3h1.0M359.6 569.0h1.0M361.5 556.7h1.0M375.8 552.4h1.0M354.2 552.3h1.0M368.3 549.9h1.0M370.7 542.1h1.0M386.4 541.7h1.0M344.1 576.9h1.0M360.9 557.9h1.0M357.2 563.7h1.0M373.7 547.2h1.0M368.1 554.0h1.0M361.1 547.9h1.0M361.8 552.5h1.0M349.7 572.7h1.0M343.0 572.6h1.0M344.5 573.0h1.0M366.3 561.8h1.0M368.3 556.3h1.0M366.8 554.1h1.0M361.0 560.9h1.0M347.1 569.6h1.0M378.8 547.5h1.0M364.7 545.1h1.0M359.1 560.2h1.0M367.6 556.7h1.0M354.6 555.3h1.0M359.1 552.3h1.0M356.5 557.8h1.0M367.3 555.8h1.0M368.6 557.7h1.0M360.3 556.6h1.0M356.4 547.3h1.0M360.0 563.0h1.0M373.6 544.1h1.0M359.3 556.1h1.0M369.8 553.1h1.0M362.8 543.8h1.0M374.9 545.8h1.0M365.6 555.0h1.0M361.6 566.9h1.0M374.7 554.3h1.0M374.5 563.5h1.0M352.9 571.3h1.0M362.1 563.0h1.0M355.1 560.7h1.0M360.8 558.1h1.0M361.6 559.2h1.0M361.2 558.7h1.0M364.0 555.2h1.0M359.3 551.0h1.0M367.2 553.3h1.0M354.3 563.8h1.0M366.8 545.4h1.0M378.5 535.0h1.0M363.9 551.3h1.0M355.3 567.0h1.0M369.8 556.2h1.0M361.9 551.0h1.0M354.1 560.0h1.0M359.8 565.6h1.0M352.0 570.5h1.0M361.7 559.1h1.0M374.9 543.8h1.0M347.4 569.0h1.0M370.0 541.7h1.0M366.5 555.7h1.0M357.2 558.9h1.0M373.4 556.1h1.0M350.2 562.2h1.0M353.5 565.4h1.0M366.2 559.1h1.0M365.9 548.9h1.0M381.2 533.9h1.0M361.6 555.0h1.0M360.4 560.6h1.0M354.3 558.3h1.0M366.3 558.2h1.0M363.3 557.4h1.0M364.5 555.9h1.0M360.2 553.9h1.0M354.5 572.9h1.0M359.1 555.3h1.0M365.5 558.2h1.0M365.5 553.4h1.0M385.5 532.0h1.0M375.4 545.1h1.0M363.1 552.7h1.0M357.0 565.8h1.0M374.1 550.8h1.0M367.7 558.1h1.0M393.6 537.1h1.0M361.1 551.4h1.0M357.9 560.9h1.0M350.7 565.5h1.0M372.9 544.8h1.0M365.8 567.1h1.0" stroke="#2b3b78" stroke-width="1.0" fill="none" opacity="0.8"/>
<path d="M368.9 563.5h1.0M387.8 544.5h1.0M360.7 565.8h1.0M367.9 559.3h1.0M349.5 583.9h1.0M369.1 559.6h1.0M371.3 552.3h1.0M385.4 510.1h1.0M363.7 560.8h1.0M375.3 561.0h1.0M403.6 523.3h1.0M350.9 579.1h1.0M358.4 574.4h1.0M358.8 562.9h1.0M371.6 549.2h1.0M361.7 564.6h1.0M371.0 550.0h1.0M354.7 574.7h1.0M397.8 529.7h1.0M366.4 550.7h1.0M363.1 557.0h1.0M364.8 556.6h1.0M380.3 551.6h1.0M383.1 564.7h1.0M385.1 540.2h1.0M364.1 562.3h1.0M363.5 570.2h1.0M379.1 551.1h1.0M381.5 551.8h1.0M365.5 564.7h1.0M358.0 557.5h1.0M367.3 557.9h1.0M397.6 540.6h1.0M360.9 572.2h1.0M362.2 573.0h1.0M373.2 543.1h1.0M381.4 543.7h1.0M361.5 562.4h1.0M360.8 568.1h1.0M354.9 565.2h1.0M375.7 553.6h1.0M368.3 571.2h1.0M381.0 544.0h1.0M360.7 565.1h1.0M360.1 566.9h1.0M391.0 541.3h1.0M367.3 567.9h1.0M363.9 561.9h1.0M364.6 558.7h1.0M368.3 562.7h1.0M364.2 561.4h1.0M359.8 556.7h1.0M364.7 560.8h1.0M370.1 565.3h1.0M384.0 543.0h1.0M377.8 550.5h1.0M363.2 570.1h1.0M382.7 555.1h1.0M360.7 563.2h1.0M375.3 545.7h1.0M380.7 553.1h1.0M358.7 568.8h1.0M379.5 548.6h1.0M370.5 557.0h1.0M369.1 567.4h1.0M370.7 560.1h1.0M377.7 541.9h1.0M353.8 572.5h1.0M367.8 560.2h1.0M383.7 544.3h1.0M364.7 566.5h1.0M364.1 561.3h1.0M386.0 526.3h1.0M360.0 559.1h1.0M373.6 555.5h1.0M360.7 561.6h1.0M365.3 553.6h1.0M365.3 566.9h1.0M365.3 566.6h1.0M397.8 528.0h1.0M368.7 568.5h1.0M360.3 563.4h1.0M386.0 533.9h1.0M351.4 577.6h1.0M380.8 537.6h1.0M373.5 544.7h1.0M356.0 557.1h1.0M356.1 565.2h1.0M378.1 550.2h1.0M387.2 553.3h1.0M377.3 552.2h1.0M368.1 566.6h1.0M364.3 561.6h1.0M371.7 561.2h1.0M364.3 564.5h1.0M386.5 543.8h1.0M376.8 553.7h1.0M379.0 557.9h1.0M371.7 560.8h1.0M352.2 569.4h1.0M376.7 548.9h1.0M381.3 549.5h1.0M384.0 545.1h1.0M386.1 544.0h1.0M377.4 550.9h1.0M395.3 526.7h1.0M355.5 569.8h1.0M359.0 568.4h1.0M374.4 550.5h1.0M382.5 550.7h1.0M358.5 564.5h1.0M367.3 563.4h1.0M379.1 553.0h1.0M377.4 554.9h1.0M354.3 553.8h1.0M368.6 557.5h1.0M386.4 543.9h1.0M346.8 575.2h1.0M355.3 571.3h1.0M384.1 538.0h1.0M364.9 556.7h1.0M376.5 555.8h1.0M360.6 562.8h1.0M349.4 577.8h1.0M371.1 541.3h1.0M359.0 566.5h1.0M364.8 548.3h1.0M368.5 560.4h1.0M373.6 551.2h1.0M379.6 560.2h1.0M361.0 566.8h1.0M368.1 560.5h1.0M356.9 572.5h1.0M360.4 560.3h1.0M363.0 552.9h1.0M370.2 547.9h1.0M360.3 574.4h1.0M385.1 546.0h1.0M369.1 556.3h1.0M350.1 573.6h1.0M361.3 571.1h1.0M371.6 560.1h1.0M384.2 539.2h1.0M358.3 558.5h1.0M373.9 555.3h1.0M381.1 550.4h1.0M367.6 556.7h1.0M383.6 546.1h1.0M370.9 561.7h1.0M372.8 548.7h1.0M395.9 527.6h1.0M379.9 536.8h1.0M368.0 562.7h1.0M362.5 563.0h1.0M376.0 556.7h1.0M384.5 550.2h1.0M388.0 531.8h1.0M358.4 578.9h1.0M370.1 562.2h1.0M398.7 532.5h1.0M372.3 556.3h1.0M367.9 572.9h1.0M377.4 552.5h1.0M362.1 565.6h1.0M358.4 567.7h1.0M384.3 536.5h1.0M373.1 556.0h1.0M383.7 547.9h1.0M365.7 572.3h1.0M364.2 566.4h1.0M390.1 542.3h1.0M366.4 561.7h1.0M365.3 562.1h1.0M374.1 548.2h1.0M387.0 542.2h1.0M393.9 531.1h1.0M376.9 543.0h1.0M357.9 564.5h1.0M384.1 544.7h1.0M364.9 561.2h1.0M360.3 558.7h1.0M359.3 563.6h1.0M361.9 565.3h1.0M373.9 556.3h1.0M382.8 529.0h1.0M370.4 566.7h1.0M359.5 572.7h1.0M355.1 566.6h1.0M368.2 550.4h1.0M376.4 554.7h1.0M374.1 547.4h1.0M385.8 516.3h1.0M356.3 575.2h1.0M370.3 557.0h1.0M386.8 522.5h1.0M363.0 561.1h1.0M375.8 554.6h1.0M367.5 560.8h1.0M360.6 569.1h1.0M357.0 563.2h1.0M367.0 558.2h1.0M352.7 563.7h1.0M397.6 534.0h1.0M376.0 551.8h1.0M369.9 564.3h1.0M352.6 570.9h1.0M369.3 547.3h1.0M361.9 565.9h1.0M361.9 560.8h1.0M370.1 551.8h1.0M369.1 551.6h1.0M384.4 538.8h1.0M369.1 561.2h1.0M374.6 554.2h1.0M382.6 551.2h1.0M374.9 546.3h1.0M360.2 568.1h1.0M385.7 551.6h1.0M351.1 570.1h1.0M365.7 555.9h1.0M363.7 561.0h1.0M385.6 524.4h1.0M369.1 552.7h1.0M378.0 552.9h1.0M369.6 555.0h1.0M366.4 548.2h1.0M361.9 560.0h1.0M370.4 561.5h1.0M365.3 555.3h1.0M384.8 554.0h1.0M372.8 556.8h1.0" stroke="#ab1849" stroke-width="1.0" fill="none" opacity="0.8"/>
<path d="M374.0 542.6h1.0M356.4 564.4h1.0M368.5 547.3h1.0M354.6 562.9h1.0M369.2 548.3h1.0M347.1 566.3h1.0M377.2 550.4h1.0M366.2 559.6h1.0M348.7 578.0h1.0M365.5 539.2h1.0M352.3 558.4h1.0M360.7 556.4h1.0M360.5 556.7h1.0M365.8 548.5h1.0M356.1 567.3h1.0M359.5 557.5h1.0M347.7 561.7h1.0M362.3 555.8h1.0M371.3 545.9h1.0M344.4 554.9h1.0M364.7 562.2h1.0M350.7 558.4h1.0M354.3 568.5h1.0M366.7 547.4h1.0M359.6 558.3h1.0M381.5 536.6h1.0M355.2 562.7h1.0M361.2 548.9h1.0M366.6 547.4h1.0M378.4 539.8h1.0M375.2 544.9h1.0M366.1 557.4h1.0M367.0 551.8h1.0M362.2 559.1h1.0M381.0 538.6h1.0M366.8 556.2h1.0M352.3 567.6h1.0M379.1 544.8h1.0M372.0 546.3h1.0M360.3 567.1h1.0M353.4 555.3h1.0M384.8 524.6h1.0M398.4 522.1h1.0M379.8 535.1h1.0M376.4 554.3h1.0M361.8 554.5h1.0M365.5 558.9h1.0M360.6 561.6h1.0M362.6 552.7h1.0M375.5 554.3h1.0M356.4 562.8h1.0M358.0 565.1h1.0M361.0 552.7h1.0M377.4 551.8h1.0M355.8 563.3h1.0M359.6 562.4h1.0M359.1 557.7h1.0M345.6 569.9h1.0M365.4 559.7h1.0M365.7 549.8h1.0M377.8 540.8h1.0M347.7 563.0h1.0M368.8 551.6h1.0M362.8 558.0h1.0M357.0 561.6h1.0M367.3 548.2h1.0M350.7 566.2h1.0M394.7 519.5h1.0M360.7 567.3h1.0M367.4 546.0h1.0M394.3 529.6h1.0M346.5 561.8h1.0M364.0 554.1h1.0M378.5 539.9h1.0M354.4 558.5h1.0M355.5 557.8h1.0M356.9 556.2h1.0M370.8 546.6h1.0M359.6 558.5h1.0M360.8 553.7h1.0M363.1 553.0h1.0M370.3 551.0h1.0M363.6 556.9h1.0M364.0 554.6h1.0M362.0 554.7h1.0M360.1 555.2h1.0M355.1 568.5h1.0M353.9 566.4h1.0M368.9 551.3h1.0M367.3 560.6h1.0M375.3 541.8h1.0M356.7 555.0h1.0M356.8 562.8h1.0M364.3 560.6h1.0M368.9 566.1h1.0M355.9 568.5h1.0M381.0 542.5h1.0M369.8 546.6h1.0M371.8 551.5h1.0M359.3 555.0h1.0M368.7 552.8h1.0M387.7 532.6h1.0M369.9 559.0h1.0M373.1 550.4h1.0M367.1 557.4h1.0M353.3 558.2h1.0M357.2 561.8h1.0M373.6 542.0h1.0M369.4 548.2h1.0M376.4 542.3h1.0M376.7 550.6h1.0M377.8 539.0h1.0M354.8 558.2h1.0M361.4 561.3h1.0M365.2 555.4h1.0M371.4 550.0h1.0M354.8 571.2h1.0M373.5 536.8h1.0M371.1 558.8h1.0M366.0 556.2h1.0M368.9 557.3h1.0M378.3 549.0h1.0M345.4 567.4h1.0M356.2 557.8h1.0M380.6 542.6h1.0M362.2 562.3h1.0M358.4 566.1h1.0M349.7 570.3h1.0M354.6 562.3h1.0M356.4 564.5h1.0M372.2 542.6h1.0M369.1 552.3h1.0M356.7 561.2h1.0M366.6 560.4h1.0M352.7 570.7h1.0M362.9 559.9h1.0M356.3 548.1h1.0M366.9 551.7h1.0M369.9 559.4h1.0M372.5 558.4h1.0M359.0 555.5h1.0M370.7 548.1h1.0M358.6 565.6h1.0M352.5 563.2h1.0M363.9 550.9h1.0M352.7 560.4h1.0M366.1 551.7h1.0M396.3 526.7h1.0M368.1 550.5h1.0M370.3 545.9h1.0M359.4 563.8h1.0M357.0 565.0h1.0M381.7 531.5h1.0M345.6 577.8h1.0M358.4 561.8h1.0M360.4 562.8h1.0M356.4 558.0h1.0M352.4 566.6h1.0M351.2 573.3h1.0M350.9 564.0h1.0M352.2 567.5h1.0M362.9 559.8h1.0M358.9 554.7h1.0M357.1 556.4h1.0M345.2 569.9h1.0M358.3 567.6h1.0M351.9 564.3h1.0M352.2 558.8h1.0M371.7 554.1h1.0M355.5 553.9h1.0M361.1 557.2h1.0M359.8 562.2h1.0M372.7 545.0h1.0M350.7 568.6h1.0M355.8 557.4h1.0M369.8 561.3h1.0M352.5 564.6h1.0M378.8 546.7h1.0M369.3 544.1h1.0M345.5 560.8h1.0M359.7 562.0h1.0M355.9 556.9h1.0M360.3 552.2h1.0M354.3 567.0h1.0M362.7 569.0h1.0M350.5 562.4h1.0M366.0 551.3h1.0M359.3 541.1h1.0M351.6 563.6h1.0M370.1 551.2h1.0M360.5 552.7h1.0M361.0 553.3h1.0M388.4 530.7h1.0M357.1 560.0h1.0M377.6 528.4h1.0M377.6 540.1h1.0M353.3 568.4h1.0M372.3 540.9h1.0M398.5 531.1h1.0M356.4 571.0h1.0M359.0 550.5h1.0M342.2 572.3h1.0M368.0 547.7h1.0M356.1 555.0h1.0M354.5 565.1h1.0M354.2 571.8h1.0M361.4 560.1h1.0M376.2 544.9h1.0M358.6 558.8h1.0M386.2 545.4h1.0M357.3 564.4h1.0M353.7 563.6h1.0M357.0 566.2h1.0M351.1 570.8h1.0M354.5 565.9h1.0M353.7 561.7h1.0M358.8 556.7h1.0M349.5 575.4h1.0M362.0 554.7h1.0M360.7 567.4h1.0M374.2 548.2h1.0M379.7 549.0h1.0M358.6 566.7h1.0M349.2 569.6h1.0M367.7 556.6h1.0M364.1 554.9h1.0M351.3 555.3h1.0" stroke="#2b3b78" stroke-width="1.0" fill="none" opacity="0.8"/>
<path d="M398.9 542.2h1.0M366.7 559.6h1.0M394.0 543.3h1.0M380.0 559.0h1.0M360.6 567.7h1.0M366.5 556.5h1.0M401.0 523.4h1.0M361.8 567.1h1.0M368.1 558.1h1.0M356.9 576.9h1.0M367.0 564.1h1.0M384.2 547.9h1.0M395.1 536.0h1.0M380.8 556.0h1.0M365.1 565.1h1.0M369.2 563.2h1.0M374.4 552.5h1.0M382.3 551.8h1.0M364.5 563.8h1.0M364.3 555.7h1.0M379.6 548.8h1.0M387.2 536.1h1.0M371.7 545.0h1.0M355.4 572.0h1.0M361.8 553.8h1.0M388.7 547.5h1.0M374.4 544.4h1.0M373.9 555.6h1.0M364.3 572.3h1.0M383.5 546.8h1.0M368.0 559.8h1.0M375.9 541.5h1.0M367.8 558.6h1.0M360.7 561.5h1.0M362.4 567.5h1.0M362.6 570.1h1.0M389.7 541.5h1.0M379.7 550.9h1.0M358.5 558.4h1.0M362.8 557.8h1.0M374.1 556.3h1.0M364.7 564.2h1.0M371.9 564.0h1.0M368.2 561.2h1.0M362.6 553.8h1.0M371.1 565.4h1.0M347.9 574.4h1.0M375.6 553.8h1.0M373.7 555.8h1.0M374.2 552.4h1.0M363.5 556.8h1.0M364.9 562.6h1.0M371.6 551.4h1.0M365.5 560.2h1.0M372.4 558.7h1.0M393.8 540.2h1.0M360.7 556.9h1.0M371.5 557.9h1.0M374.8 561.9h1.0M373.9 556.3h1.0M385.1 542.8h1.0M385.2 530.0h1.0M396.2 530.3h1.0M400.6 519.0h1.0M369.0 561.8h1.0M349.7 565.5h1.0M366.6 564.9h1.0M381.3 553.1h1.0M348.7 577.8h1.0M362.9 565.5h1.0M373.7 553.2h1.0M375.7 547.0h1.0M364.4 559.7h1.0M356.5 566.8h1.0M364.9 565.0h1.0M364.5 555.2h1.0M367.3 551.7h1.0M354.3 555.3h1.0M365.8 563.6h1.0M367.3 562.6h1.0M369.2 559.9h1.0M381.1 549.2h1.0M379.2 546.9h1.0M379.7 549.5h1.0M401.2 531.8h1.0M370.7 549.1h1.0M379.1 542.0h1.0M360.2 568.2h1.0M382.2 553.3h1.0M402.8 527.1h1.0M394.7 536.4h1.0M351.2 574.4h1.0M382.2 548.8h1.0M365.2 566.6h1.0M364.4 565.9h1.0M368.9 551.4h1.0M360.7 568.4h1.0M351.6 570.5h1.0M394.9 528.4h1.0M383.7 546.2h1.0M360.1 553.4h1.0M389.4 545.1h1.0M363.0 565.5h1.0M346.0 570.4h1.0M355.8 568.4h1.0M362.8 570.7h1.0M364.3 559.9h1.0M353.3 570.7h1.0M377.7 551.9h1.0M384.0 544.2h1.0M367.2 552.0h1.0M368.9 565.0h1.0M365.0 552.8h1.0M373.9 543.0h1.0M365.6 560.7h1.0M368.5 557.2h1.0M355.0 562.6h1.0M361.1 566.7h1.0M370.2 560.1h1.0M377.3 560.8h1.0M361.2 566.5h1.0M355.4 564.4h1.0M367.7 544.3h1.0M355.8 558.7h1.0M374.0 563.9h1.0M370.3 566.3h1.0M363.6 555.4h1.0M367.1 563.7h1.0M358.5 572.1h1.0M384.8 530.3h1.0M371.2 564.9h1.0M370.4 561.9h1.0M366.1 562.7h1.0M367.1 565.7h1.0M404.2 517.2h1.0M371.9 552.1h1.0M376.9 560.3h1.0M374.2 557.4h1.0M367.6 550.1h1.0M365.7 557.6h1.0M378.1 550.7h1.0M399.7 530.6h1.0M379.0 551.9h1.0M362.6 564.8h1.0M389.4 542.0h1.0M373.2 545.1h1.0M391.5 532.0h1.0M362.5 550.8h1.0M371.2 561.1h1.0M374.4 549.7h1.0M354.2 575.2h1.0M372.2 552.0h1.0M386.8 543.2h1.0M381.5 551.9h1.0M363.7 564.2h1.0M376.3 560.7h1.0M364.7 557.7h1.0M385.2 538.5h1.0M358.5 562.6h1.0M364.0 551.1h1.0M387.0 541.3h1.0M369.8 561.3h1.0M364.1 568.4h1.0M397.0 518.9h1.0M356.4 565.8h1.0M368.4 552.7h1.0M365.0 560.2h1.0M381.3 538.5h1.0M379.9 552.1h1.0M377.9 552.6h1.0M370.1 549.1h1.0M367.5 554.0h1.0M366.7 562.4h1.0M368.1 554.9h1.0M380.4 540.6h1.0M379.4 552.0h1.0M378.5 541.9h1.0M376.4 550.1h1.0M361.4 560.8h1.0M370.7 562.8h1.0M368.3 562.1h1.0M357.0 570.6h1.0M375.5 558.4h1.0M364.6 552.4h1.0M354.3 569.8h1.0M357.0 572.2h1.0M353.2 566.9h1.0M364.0 563.6h1.0M385.4 544.4h1.0M367.9 562.5h1.0M357.7 564.6h1.0M374.9 548.5h1.0M365.7 569.9h1.0M354.1 569.9h1.0M352.8 566.9h1.0M370.8 567.9h1.0M365.7 559.8h1.0M370.6 562.4h1.0M369.6 567.0h1.0M361.8 566.2h1.0M366.7 556.9h1.0M371.2 563.3h1.0M376.1 555.8h1.0M358.3 567.4h1.0M388.0 534.5h1.0M366.7 561.3h1.0M367.7 567.2h1.0M354.9 571.1h1.0M361.4 562.8h1.0M371.9 536.3h1.0M372.5 556.5h1.0M369.8 548.5h1.0M363.7 565.3h1.0M352.0 568.7h1.0M364.5 573.3h1.0M394.9 537.0h1.0M393.3 540.0h1.0M405.5 523.7h1.0M378.2 547.2h1.0M390.0 551.1h1.0M378.0 545.0h1.0M360.9 558.9h1.0M363.9 557.7h1.0M372.9 556.9h1.0M366.9 560.2h1.0M378.0 547.5h1.0M385.0 543.3h1.0M364.3 563.3h1.0M370.8 559.3h1.0M366.1 551.9h1.0M359.4 554.2h1.0" stroke="#ab1849" stroke-width="1.0" fill="none" opacity="0.8"/>
<path d="M359.7 552.7h1.0M363.7 550.0h1.0M362.8 546.4h1.0M360.2 550.6h1.0M366.2 561.0h1.0M358.4 567.1h1.0M371.8 547.9h1.0M364.4 547.4h1.0M352.3 565.5h1.0M357.2 557.9h1.0M360.1 558.2h1.0M363.2 563.2h1.0M346.6 568.5h1.0M345.6 564.5h1.0M390.2 541.5h1.0M372.5 554.2h1.0M347.0 565.4h1.0M359.5 558.8h1.0M358.0 563.9h1.0M354.6 561.1h1.0M401.7 511.5h1.0M355.1 556.0h1.0M359.0 556.2h1.0M363.0 560.3h1.0M364.8 552.1h1.0M364.5 546.9h1.0M346.7 557.5h1.0M361.4 545.9h1.0M363.7 555.4h1.0M356.0 567.9h1.0M377.2 540.4h1.0M352.3 565.2h1.0M370.1 546.1h1.0M365.2 555.4h1.0M353.8 559.2h1.0M346.3 568.7h1.0M349.0 566.9h1.0M348.9 564.8h1.0M347.3 569.0h1.0M344.9 574.5h1.0M360.0 565.0h1.0M355.8 559.4h1.0M354.3 566.8h1.0M361.4 543.3h1.0M361.9 561.8h1.0M372.3 529.8h1.0M349.9 563.3h1.0M367.3 555.1h1.0M346.1 563.8h1.0M362.7 563.0h1.0M362.9 550.3h1.0M359.8 561.7h1.0M373.6 546.2h1.0M360.6 566.4h1.0M374.2 545.7h1.0M352.1 569.4h1.0M355.2 563.9h1.0M358.4 558.1h1.0M381.3 544.2h1.0M364.3 563.9h1.0M355.3 562.7h1.0M362.1 556.0h1.0M361.1 560.6h1.0M346.0 572.4h1.0M373.9 550.3h1.0M367.2 555.7h1.0M371.8 549.4h1.0M371.2 541.4h1.0M376.0 535.4h1.0M348.4 563.4h1.0M361.0 557.3h1.0M374.7 547.9h1.0M373.5 544.8h1.0M357.0 554.7h1.0M351.8 564.1h1.0M366.8 557.3h1.0M368.6 548.6h1.0M354.3 557.9h1.0M334.4 575.2h1.0M383.5 545.4h1.0M370.2 545.5h1.0M358.2 557.1h1.0M356.5 561.3h1.0M365.2 546.8h1.0M359.1 559.2h1.0M365.8 558.8h1.0M360.1 557.0h1.0M355.9 564.6h1.0M347.1 576.5h1.0M359.3 556.8h1.0M360.8 558.6h1.0M357.5 560.5h1.0M368.4 543.8h1.0M361.3 560.7h1.0M369.7 545.7h1.0M362.6 554.3h1.0M342.0 572.3h1.0M344.6 566.1h1.0M363.8 556.5h1.0M372.3 553.9h1.0M356.3 561.6h1.0M353.2 562.2h1.0M359.3 557.5h1.0M356.3 558.1h1.0M379.7 547.3h1.0M376.5 561.3h1.0M354.4 562.1h1.0M365.6 560.1h1.0M348.2 568.5h1.0M373.0 545.3h1.0M356.5 541.9h1.0M375.5 540.0h1.0M366.4 546.5h1.0M362.9 547.9h1.0M349.7 569.3h1.0M371.6 550.5h1.0M362.2 552.4h1.0M374.4 546.0h1.0M341.7 571.8h1.0M361.7 560.4h1.0M361.6 555.3h1.0M363.1 557.2h1.0M362.4 542.9h1.0M358.5 561.6h1.0M376.6 548.3h1.0M372.5 547.2h1.0M394.9 532.9h1.0M366.6 557.9h1.0M361.5 551.3h1.0M352.0 563.2h1.0M355.0 560.2h1.0M353.8 568.9h1.0M357.5 557.2h1.0M355.6 565.0h1.0M368.8 551.2h1.0M376.2 558.8h1.0M342.3 565.4h1.0M357.7 554.8h1.0M361.1 555.6h1.0M376.5 543.8h1.0M372.5 545.3h1.0M367.8 549.2h1.0M356.5 558.3h1.0M353.5 568.2h1.0M378.7 544.3h1.0M397.9 520.0h1.0M360.2 558.8h1.0M366.0 542.3h1.0M367.6 550.7h1.0M370.0 551.6h1.0M376.2 550.9h1.0M343.8 565.3h1.0M370.3 545.9h1.0M368.0 540.7h1.0M354.1 556.0h1.0M374.1 540.9h1.0M352.0 563.8h1.0M358.2 567.8h1.0M356.5 553.1h1.0M358.5 560.6h1.0M359.4 554.9h1.0M362.2 554.0h1.0M349.9 572.4h1.0M382.4 550.4h1.0M368.3 555.5h1.0M355.4 573.9h1.0M362.2 555.5h1.0M361.4 563.5h1.0M363.8 553.3h1.0M366.3 555.4h1.0M360.3 553.2h1.0M383.3 550.0h1.0M349.5 564.1h1.0M364.4 556.0h1.0M357.9 556.8h1.0M369.9 553.4h1.0M362.6 551.0h1.0M371.5 554.4h1.0M336.3 578.5h1.0M366.5 554.0h1.0M356.6 556.2h1.0M360.9 535.3h1.0M360.7 560.9h1.0M358.1 572.5h1.0M382.8 537.4h1.0M363.0 556.2h1.0M364.9 560.6h1.0M362.2 554.9h1.0M361.4 549.5h1.0M358.5 556.0h1.0M375.5 539.8h1.0M349.5 567.8h1.0M368.1 550.2h1.0M374.8 549.6h1.0M388.9 519.2h1.0M357.5 552.3h1.0M375.7 550.2h1.0M368.3 533.0h1.0M363.9 545.0h1.0M346.0 567.5h1.0M368.6 549.3h1.0M334.4 580.7h1.0M345.5 563.1h1.0M352.9 566.0h1.0M346.3 576.4h1.0M344.1 571.1h1.0M351.0 539.6h1.0M360.8 545.2h1.0M372.7 555.3h1.0M362.5 553.3h1.0M369.8 552.0h1.0M343.0 566.6h1.0M366.5 557.5h1.0M360.3 554.6h1.0M369.4 549.0h1.0M351.8 564.5h1.0M348.4 565.6h1.0M365.9 547.6h1.0M344.4 573.5h1.0M355.9 559.7h1.0M379.5 537.1h1.0M376.3 540.5h1.0M359.8 560.5h1.0M363.6 558.3h1.0M343.2 567.9h1.0M356.7 562.3h1.0M354.4 555.2h1.0" stroke="#2b3b78" stroke-width="1.0" fill="none" opacity="0.8"/>
<path d="M370.3 558.9h1.0M391.9 539.3h1.0M361.6 564.8h1.0M374.0 553.8h1.0M361.5 573.6h1.0M386.5 545.1h1.0M354.9 572.0h1.0M409.8 508.5h1.0M381.0 548.5h1.0M354.2 561.8h1.0M354.4 562.3h1.0M356.3 570.3h1.0M379.5 545.7h1.0M362.9 563.3h1.0M367.5 556.3h1.0M380.5 553.4h1.0M372.2 566.7h1.0M368.4 563.2h1.0M372.4 550.6h1.0M368.4 560.0h1.0M374.6 555.2h1.0M402.6 520.2h1.0M369.4 560.5h1.0M366.4 562.2h1.0M380.6 551.1h1.0M390.0 535.4h1.0M366.6 562.9h1.0M360.6 563.0h1.0M386.4 545.5h1.0M361.0 561.0h1.0M365.2 561.9h1.0M379.2 552.3h1.0M361.8 566.0h1.0M365.5 575.0h1.0M361.5 561.7h1.0M372.1 556.2h1.0M360.1 566.6h1.0M369.6 569.8h1.0M364.8 561.3h1.0M348.2 574.2h1.0M359.1 567.7h1.0M364.1 561.2h1.0M375.9 548.2h1.0M379.0 547.7h1.0M352.9 570.1h1.0M367.6 563.6h1.0M371.2 544.5h1.0M376.1 540.3h1.0M366.2 561.7h1.0M372.3 551.8h1.0M355.5 562.6h1.0M364.3 551.2h1.0M391.2 544.7h1.0M384.0 542.7h1.0M385.9 542.6h1.0M364.5 567.1h1.0M384.9 541.5h1.0M402.3 520.2h1.0M373.7 553.0h1.0M374.5 560.9h1.0M358.2 566.3h1.0M371.3 558.6h1.0M380.4 550.7h1.0M370.9 562.9h1.0M368.1 558.5h1.0M364.4 559.9h1.0M369.3 557.6h1.0M370.4 563.7h1.0M396.4 537.0h1.0M365.9 564.8h1.0M362.4 567.1h1.0M371.9 556.5h1.0M370.7 553.1h1.0M378.7 550.0h1.0M365.4 567.1h1.0M385.2 541.1h1.0M376.7 557.8h1.0M366.0 561.8h1.0M358.0 561.8h1.0M380.2 547.7h1.0M395.4 538.1h1.0M377.4 548.0h1.0M366.2 560.6h1.0M379.0 549.6h1.0M352.9 569.1h1.0M365.0 568.7h1.0M372.2 560.7h1.0M358.4 569.4h1.0M359.3 564.7h1.0M373.4 553.2h1.0M368.9 561.6h1.0M376.7 556.0h1.0M340.4 581.7h1.0M364.5 561.7h1.0M369.0 563.2h1.0M358.6 567.4h1.0M366.9 561.5h1.0M373.6 555.6h1.0M370.6 554.3h1.0M359.0 559.7h1.0M384.5 552.5h1.0M361.9 563.0h1.0M376.3 540.7h1.0M396.1 538.0h1.0M371.5 544.5h1.0M411.1 515.4h1.0M363.5 559.9h1.0M396.2 521.9h1.0M365.9 561.4h1.0M373.4 559.3h1.0M351.6 572.4h1.0M360.8 564.2h1.0M370.0 543.4h1.0M363.3 553.4h1.0M370.6 560.2h1.0M387.0 536.4h1.0M360.0 575.2h1.0M376.9 552.9h1.0M365.9 568.5h1.0M354.5 566.4h1.0M357.1 559.1h1.0M369.7 552.0h1.0M371.5 556.9h1.0M373.7 554.8h1.0M358.6 571.1h1.0M365.6 562.8h1.0M365.3 558.3h1.0M356.8 575.9h1.0M359.8 571.8h1.0M366.3 563.7h1.0M372.7 548.0h1.0M381.1 557.5h1.0M375.7 544.4h1.0M375.6 548.7h1.0M376.6 552.2h1.0M351.5 568.2h1.0M378.0 548.9h1.0M370.5 558.7h1.0M368.8 561.4h1.0M364.2 550.4h1.0M382.1 552.4h1.0M355.3 561.7h1.0M370.6 541.9h1.0M364.0 545.4h1.0M375.8 554.6h1.0M355.3 568.3h1.0M387.0 546.5h1.0M374.6 554.9h1.0M369.1 563.6h1.0M364.9 561.0h1.0M361.7 568.1h1.0M352.5 576.6h1.0M382.5 542.0h1.0M368.7 559.0h1.0M381.9 548.7h1.0M366.1 548.8h1.0M380.8 555.1h1.0M370.2 551.7h1.0M367.6 558.2h1.0M386.7 550.1h1.0M367.0 555.5h1.0M376.2 555.0h1.0M378.7 548.1h1.0M397.9 539.6h1.0M371.5 554.1h1.0M358.5 565.4h1.0M372.3 549.2h1.0M357.6 560.2h1.0M364.9 571.9h1.0M352.0 576.6h1.0M361.7 567.7h1.0M363.3 559.5h1.0M389.3 543.3h1.0M370.9 560.5h1.0M364.7 550.3h1.0M368.7 542.3h1.0M389.8 535.2h1.0M357.3 566.9h1.0M387.2 544.5h1.0M368.9 558.5h1.0M352.1 565.5h1.0M359.8 561.4h1.0M394.2 532.3h1.0M359.3 567.4h1.0M356.3 569.6h1.0M362.5 562.3h1.0M375.0 547.8h1.0M377.6 551.9h1.0M353.2 567.9h1.0M373.1 548.3h1.0M363.5 557.2h1.0M373.9 547.5h1.0M358.3 568.4h1.0M361.4 563.0h1.0M366.1 572.2h1.0M382.2 547.5h1.0M378.2 546.2h1.0M379.0 544.8h1.0M368.4 563.3h1.0M358.7 570.7h1.0M395.9 542.0h1.0M369.7 562.5h1.0M347.7 571.8h1.0M381.0 560.9h1.0M373.0 547.5h1.0M358.7 561.3h1.0M376.7 541.3h1.0M392.7 537.3h1.0M354.6 565.7h1.0M368.5 554.2h1.0M369.7 551.8h1.0M372.6 552.0h1.0M372.9 562.7h1.0M360.8 568.0h1.0M382.7 543.0h1.0M368.9 556.0h1.0M373.1 545.3h1.0M368.4 550.7h1.0M370.0 559.9h1.0M393.7 535.8h1.0M364.1 566.3h1.0M378.6 548.8h1.0M384.5 540.6h1.0M374.6 563.0h1.0M383.0 545.2h1.0M370.4 555.2h1.0M375.2 549.5h1.0M374.9 555.0h1.0M369.7 566.4h1.0M373.2 550.1h1.0M366.2 557.8h1.0" stroke="#ab1849" stroke-width="1.0" fill="none" opacity="0.8"/>
<path d="M371.8 539.9h1.0M355.3 569.2h1.0M397.9 522.3h1.0M358.2 557.1h1.0M363.9 559.6h1.0M369.8 559.0h1.0M357.9 562.7h1.0M373.9 546.2h1.0M378.2 546.7h1.0M355.1 562.3h1.0M358.0 563.9h1.0M361.6 568.7h1.0M361.5 547.7h1.0M369.0 543.5h1.0M356.5 560.9h1.0M369.8 554.4h1.0M362.9 554.5h1.0M362.6 549.1h1.0M342.3 581.5h1.0M370.6 550.5h1.0M352.1 562.2h1.0M366.6 544.5h1.0M367.1 559.3h1.0M373.4 553.0h1.0M361.7 568.1h1.0M364.8 547.8h1.0M361.2 554.8h1.0M355.6 562.3h1.0M349.1 559.2h1.0M357.6 554.4h1.0M354.5 568.5h1.0M361.7 563.5h1.0M372.9 540.9h1.0M357.1 565.7h1.0M363.0 562.9h1.0M359.5 573.0h1.0M354.4 566.2h1.0M361.2 565.4h1.0M376.6 546.4h1.0M349.7 556.8h1.0M354.4 557.7h1.0M369.8 563.3h1.0M360.4 559.6h1.0M362.8 562.2h1.0M351.4 557.7h1.0M357.5 557.6h1.0M368.5 553.1h1.0M371.6 545.6h1.0M359.8 564.7h1.0M372.2 546.4h1.0M365.5 550.3h1.0M364.5 557.1h1.0M355.3 560.6h1.0M369.0 561.2h1.0M373.9 541.8h1.0M361.4 555.6h1.0M360.7 560.4h1.0M369.7 555.4h1.0M377.4 550.2h1.0M348.7 558.6h1.0M366.8 553.0h1.0M374.9 540.9h1.0M365.6 557.0h1.0M358.9 553.5h1.0M350.4 557.6h1.0M371.0 549.7h1.0M361.6 551.5h1.0M369.0 550.0h1.0M367.4 549.4h1.0M359.5 565.1h1.0M372.1 551.7h1.0M361.7 554.0h1.0M370.5 555.4h1.0M372.0 546.6h1.0M348.9 571.9h1.0M374.0 553.4h1.0M365.4 549.3h1.0M367.3 530.8h1.0M362.9 546.4h1.0M358.3 563.5h1.0M357.3 562.9h1.0M371.6 557.0h1.0M388.2 539.2h1.0M377.3 544.7h1.0M366.9 552.0h1.0M372.4 556.8h1.0M346.8 570.6h1.0M356.2 565.8h1.0M364.8 552.8h1.0M365.1 543.4h1.0M390.2 545.2h1.0M363.0 561.4h1.0M370.8 550.1h1.0M367.0 552.3h1.0M367.7 560.6h1.0M353.7 566.0h1.0M346.7 572.2h1.0M338.5 556.5h1.0M350.6 569.7h1.0M369.8 556.8h1.0M366.9 544.0h1.0M371.4 550.0h1.0M368.9 551.2h1.0M343.0 562.7h1.0M363.4 555.6h1.0M383.7 540.9h1.0M355.4 573.2h1.0M375.2 551.1h1.0M379.5 542.8h1.0M355.9 561.7h1.0M368.2 547.1h1.0M365.0 551.3h1.0M354.7 568.5h1.0M357.7 558.2h1.0M359.5 565.7h1.0M346.5 562.1h1.0M363.0 561.1h1.0M368.0 542.1h1.0M399.5 514.8h1.0M377.7 542.7h1.0M371.1 550.9h1.0M362.7 564.1h1.0M359.2 556.2h1.0M361.3 554.2h1.0M358.6 560.2h1.0M368.3 547.0h1.0M360.8 560.6h1.0M356.0 550.0h1.0M360.8 558.8h1.0M357.9 559.5h1.0M376.9 534.2h1.0M375.4 543.3h1.0M348.8 565.3h1.0M357.1 567.1h1.0M362.6 555.1h1.0M355.1 558.0h1.0M363.5 557.2h1.0M362.9 552.7h1.0M370.5 554.4h1.0M351.6 569.3h1.0M365.2 564.6h1.0M366.0 564.9h1.0M364.7 560.7h1.0M357.9 566.7h1.0M356.3 557.3h1.0M377.3 538.4h1.0M354.4 557.2h1.0M356.5 572.3h1.0M368.7 551.9h1.0M351.1 565.5h1.0M365.3 557.9h1.0M374.2 549.5h1.0M371.0 550.0h1.0M359.9 554.5h1.0M350.2 572.1h1.0M396.1 524.8h1.0M374.9 554.7h1.0M366.3 549.9h1.0M365.7 545.7h1.0M357.5 569.0h1.0M360.0 558.6h1.0M373.4 547.9h1.0M356.5 561.6h1.0M379.5 547.5h1.0M356.1 554.4h1.0M371.3 549.3h1.0M364.1 557.0h1.0M355.3 555.8h1.0M360.5 566.8h1.0M365.0 552.6h1.0M342.8 574.8h1.0M359.7 563.4h1.0M353.7 570.4h1.0M367.0 550.4h1.0M388.9 525.1h1.0M373.3 550.7h1.0M361.2 557.3h1.0M380.4 545.6h1.0M382.0 532.1h1.0M353.9 555.7h1.0M355.8 557.8h1.0M361.0 563.3h1.0M391.6 518.7h1.0M364.3 557.3h1.0M355.0 570.3h1.0M359.0 570.3h1.0M357.7 563.4h1.0M351.5 572.2h1.0M352.1 565.9h1.0M356.3 562.0h1.0M360.4 545.8h1.0M356.6 556.2h1.0M364.5 557.2h1.0M348.5 570.2h1.0M364.3 550.9h1.0M358.0 554.9h1.0M354.6 561.5h1.0M373.4 546.9h1.0M369.4 555.4h1.0M365.0 549.0h1.0M354.4 560.7h1.0M346.4 564.2h1.0M365.8 553.4h1.0M353.9 555.2h1.0M359.9 565.7h1.0M354.7 565.2h1.0M367.3 562.4h1.0M365.0 556.1h1.0M350.2 560.9h1.0M374.9 547.4h1.0M378.0 549.8h1.0M347.2 566.4h1.0M348.2 567.6h1.0M355.7 569.1h1.0M377.3 544.2h1.0M370.7 554.5h1.0M346.1 565.2h1.0M359.8 570.7h1.0M372.8 536.9h1.0M357.7 553.6h1.0M359.5 565.9h1.0M371.8 536.5h1.0M359.7 545.8h1.0M360.0 564.3h1.0M367.0 558.7h1.0M359.9 552.7h1.0" stroke="#2b3b78" stroke-width="1.0" fill="none" opacity="0.8"/>
<path d="M366.5 562.8h1.0M366.1 550.9h1.0M373.6 558.4h1.0M411.1 532.2h1.0M364.5 564.3h1.0M395.4 536.4h1.0M370.3 560.6h1.0M352.2 566.1h1.0M366.7 561.7h1.0M368.5 557.6h1.0M362.0 567.2h1.0M363.6 558.9h1.0M354.9 569.4h1.0M366.5 562.3h1.0M369.9 562.9h1.0M351.2 581.4h1.0M384.9 548.6h1.0M359.2 558.5h1.0M375.3 560.9h1.0M375.5 559.4h1.0M409.8 531.5h1.0M368.4 547.0h1.0M357.4 567.2h1.0M364.9 555.7h1.0M382.6 537.9h1.0M367.8 557.4h1.0M359.1 562.3h1.0M360.1 569.4h1.0M385.6 539.4h1.0M366.0 553.2h1.0M371.1 557.8h1.0M382.8 547.1h1.0M364.3 569.0h1.0M375.5 549.4h1.0M381.1 553.5h1.0M363.1 562.1h1.0M362.4 561.5h1.0M369.4 560.9h1.0M402.6 541.3h1.0M360.2 562.3h1.0M371.1 564.5h1.0M360.3 560.5h1.0M411.0 513.1h1.0M362.8 566.0h1.0M371.5 554.1h1.0M373.4 552.0h1.0M382.7 551.1h1.0M364.8 562.6h1.0M368.5 557.0h1.0M359.2 564.9h1.0M377.1 551.5h1.0M368.0 558.4h1.0M371.5 564.9h1.0M371.5 551.4h1.0M368.9 554.4h1.0M378.2 563.5h1.0M386.5 541.1h1.0M372.0 563.1h1.0M373.0 562.8h1.0M380.6 542.9h1.0M355.8 570.0h1.0M359.5 553.0h1.0M374.5 561.0h1.0M366.0 548.1h1.0M372.3 566.8h1.0M358.6 572.9h1.0M355.9 559.7h1.0M370.5 555.1h1.0M365.6 557.8h1.0M358.5 562.9h1.0M368.5 557.9h1.0M356.6 564.8h1.0M350.3 573.4h1.0M350.4 572.7h1.0M366.3 562.9h1.0M359.5 560.7h1.0M376.7 545.8h1.0M369.8 555.8h1.0M365.6 570.7h1.0M385.9 535.0h1.0M364.7 564.0h1.0M385.2 550.1h1.0M383.6 547.0h1.0M381.4 548.9h1.0M370.6 564.2h1.0M353.6 565.9h1.0M358.2 562.2h1.0M355.6 561.9h1.0M366.8 567.8h1.0M371.8 550.4h1.0M367.3 559.1h1.0M378.0 552.1h1.0M407.7 535.7h1.0M380.2 558.6h1.0M379.3 560.1h1.0M363.9 567.4h1.0M366.9 565.0h1.0M371.9 551.5h1.0M372.9 558.0h1.0M400.7 536.1h1.0M382.0 539.0h1.0M365.5 560.6h1.0M361.6 569.3h1.0M368.6 556.1h1.0M363.8 555.8h1.0M378.0 548.5h1.0M379.0 547.4h1.0M382.6 542.0h1.0M364.0 562.1h1.0M353.4 561.3h1.0M364.3 564.5h1.0M381.1 541.0h1.0M368.2 565.7h1.0M355.1 565.2h1.0M381.9 555.2h1.0M382.2 542.6h1.0M369.7 565.8h1.0M373.0 554.7h1.0M362.7 560.6h1.0M391.7 541.6h1.0M383.4 557.3h1.0M376.6 551.2h1.0M363.1 547.5h1.0M366.4 564.6h1.0M376.1 563.0h1.0M350.1 574.3h1.0M356.5 565.7h1.0M355.9 563.4h1.0M394.2 521.1h1.0M366.2 563.6h1.0M376.6 554.6h1.0M389.5 541.0h1.0M374.4 548.3h1.0M372.8 552.8h1.0M399.2 530.3h1.0M373.3 548.7h1.0M361.5 569.9h1.0M354.5 573.2h1.0M363.4 553.2h1.0M350.7 573.6h1.0M371.6 557.1h1.0M398.3 538.1h1.0M363.6 565.5h1.0M358.9 575.1h1.0M364.6 555.5h1.0M375.7 548.0h1.0M367.2 559.8h1.0M374.6 548.9h1.0M371.2 551.6h1.0M383.7 553.2h1.0M382.6 544.3h1.0M369.6 557.5h1.0M358.6 568.7h1.0M373.9 553.2h1.0M374.8 544.5h1.0M383.4 546.7h1.0M384.0 539.2h1.0M375.6 551.3h1.0M369.4 559.7h1.0M362.4 561.2h1.0M391.8 544.8h1.0M355.3 562.4h1.0M369.7 559.6h1.0M381.0 553.2h1.0M376.6 551.1h1.0M361.3 568.5h1.0M365.6 562.9h1.0M378.8 544.1h1.0M366.5 561.0h1.0M367.7 558.2h1.0M372.4 556.6h1.0M373.3 557.3h1.0M383.9 539.8h1.0M363.6 562.7h1.0M379.0 553.3h1.0M360.8 569.0h1.0M378.0 555.2h1.0M377.3 555.0h1.0M365.7 567.0h1.0M355.8 569.8h1.0M379.2 558.9h1.0M365.9 552.7h1.0M369.0 563.8h1.0M376.1 563.8h1.0M352.8 574.4h1.0M362.9 571.3h1.0M361.8 561.5h1.0M370.0 560.8h1.0M385.4 548.4h1.0M368.6 556.5h1.0M405.9 507.0h1.0M379.0 545.2h1.0M374.2 550.6h1.0M378.7 555.1h1.0M363.8 564.1h1.0M359.7 568.5h1.0M361.0 560.0h1.0M378.7 551.0h1.0M362.0 563.9h1.0M384.2 539.5h1.0M379.3 562.7h1.0M354.6 568.9h1.0M377.9 555.9h1.0M379.5 554.6h1.0M409.8 518.6h1.0M378.8 549.7h1.0M375.6 553.1h1.0M377.8 558.7h1.0M350.5 576.7h1.0M364.3 561.9h1.0M372.9 554.6h1.0M403.1 524.0h1.0M384.3 532.7h1.0M357.2 559.9h1.0M374.1 546.0h1.0M367.3 552.6h1.0M359.6 570.1h1.0M378.1 546.4h1.0M361.9 560.0h1.0M365.2 563.9h1.0M365.3 558.6h1.0M371.1 551.4h1.0M376.2 555.8h1.0M357.2 554.5h1.0M375.8 559.7h1.0M372.4 554.2h1.0M367.0 564.0h1.0M370.8 557.3h1.0M375.4 544.1h1.0M379.2 533.3h1.0M384.8 550.3h1.0" stroke="#ab1849" stroke-width="1.0" fill="none" opacity="0.8"/>
<path d="M360.8 556.3h1.0M354.3 551.3h1.0M359.0 569.1h1.0M381.9 542.2h1.0M346.8 562.8h1.0M371.8 546.5h1.0M352.0 562.2h1.0M356.2 565.2h1.0M366.4 547.3h1.0M370.0 540.0h1.0M353.6 559.0h1.0M365.5 551.3h1.0M364.2 564.2h1.0M379.4 544.0h1.0M361.8 558.0h1.0M348.2 560.7h1.0M369.9 544.1h1.0M359.9 553.7h1.0M367.0 562.6h1.0M356.5 571.2h1.0M379.9 548.7h1.0M358.4 558.9h1.0M352.8 562.4h1.0M347.9 569.7h1.0M336.8 568.5h1.0M388.9 538.9h1.0M359.8 556.7h1.0M352.5 567.0h1.0M380.5 540.5h1.0M358.4 560.8h1.0M358.1 567.8h1.0M356.0 553.8h1.0M352.8 564.6h1.0M352.4 557.8h1.0M370.7 566.4h1.0M367.9 548.8h1.0M355.4 567.3h1.0M374.4 556.7h1.0M360.7 561.8h1.0M365.6 554.4h1.0M369.9 546.5h1.0M363.6 553.8h1.0M352.1 563.6h1.0M343.7 572.2h1.0M353.6 564.2h1.0M378.3 542.6h1.0M395.1 525.2h1.0M374.2 547.8h1.0M343.9 573.2h1.0M393.7 530.4h1.0M369.4 554.9h1.0M400.2 511.3h1.0M389.6 526.9h1.0M367.4 553.2h1.0M353.5 552.0h1.0M361.7 551.9h1.0M379.1 540.6h1.0M368.4 559.9h1.0M364.1 563.9h1.0M355.0 561.9h1.0M367.0 557.5h1.0M353.5 560.0h1.0M361.9 545.6h1.0M362.1 557.2h1.0M366.1 547.3h1.0M361.5 553.1h1.0M375.1 551.7h1.0M363.4 555.2h1.0M353.5 558.2h1.0M373.8 547.8h1.0M366.9 548.6h1.0M366.9 555.8h1.0M356.4 555.7h1.0M355.6 557.6h1.0M363.0 564.8h1.0M383.1 538.1h1.0M351.8 567.8h1.0M364.8 559.7h1.0M359.1 553.8h1.0M370.3 553.1h1.0M392.6 512.3h1.0M359.0 557.9h1.0M361.9 547.8h1.0M349.6 567.8h1.0M362.4 561.4h1.0M348.6 564.1h1.0M360.6 552.7h1.0M367.9 552.1h1.0M400.0 540.3h1.0M356.0 567.1h1.0M354.0 568.7h1.0M360.6 563.1h1.0M366.9 549.3h1.0M359.1 567.4h1.0M354.3 563.6h1.0M380.5 540.7h1.0M371.8 547.4h1.0M361.5 564.2h1.0M357.1 557.1h1.0M372.2 552.8h1.0M364.2 548.5h1.0M375.2 545.5h1.0M371.5 554.8h1.0M346.2 562.2h1.0M359.3 555.6h1.0M360.6 561.4h1.0M358.9 558.6h1.0M367.2 555.8h1.0M351.8 565.3h1.0M380.8 544.9h1.0M354.7 568.2h1.0M377.4 551.9h1.0M355.8 550.5h1.0M342.2 575.0h1.0M352.5 569.9h1.0M366.4 556.5h1.0M355.9 557.7h1.0M364.5 552.8h1.0M366.7 561.6h1.0M383.3 541.1h1.0M353.3 565.1h1.0M368.7 549.9h1.0M356.4 567.1h1.0M354.3 555.7h1.0M346.2 567.8h1.0M350.7 558.7h1.0M352.8 560.4h1.0M362.2 558.5h1.0M341.6 578.5h1.0M367.5 564.9h1.0M362.9 555.6h1.0M356.2 558.5h1.0M362.2 560.0h1.0M389.5 544.9h1.0M359.1 567.3h1.0M359.4 559.1h1.0M356.4 565.7h1.0M353.2 562.4h1.0M351.5 558.7h1.0M348.5 568.2h1.0M356.2 568.1h1.0M369.9 545.5h1.0M343.1 568.9h1.0M358.5 548.5h1.0M358.8 559.4h1.0M361.0 557.5h1.0M399.5 530.3h1.0M354.0 571.2h1.0M368.1 545.1h1.0M351.9 560.9h1.0M366.5 559.4h1.0M360.2 554.6h1.0M359.4 558.1h1.0M360.3 552.8h1.0M354.4 568.3h1.0M359.0 551.0h1.0M354.7 564.1h1.0M378.7 554.6h1.0M356.7 565.5h1.0M353.0 554.2h1.0M357.3 569.1h1.0M381.7 539.3h1.0M360.8 552.9h1.0M365.6 552.6h1.0M367.6 549.9h1.0M358.0 561.0h1.0M359.8 561.3h1.0M355.7 560.6h1.0M350.7 571.8h1.0M361.2 547.1h1.0M340.1 571.4h1.0M370.5 544.2h1.0M352.1 571.1h1.0M369.2 554.0h1.0M345.3 565.9h1.0M361.7 559.1h1.0M351.7 562.9h1.0M356.3 561.3h1.0M357.9 561.6h1.0M357.5 557.4h1.0M367.5 542.5h1.0M387.5 536.0h1.0M370.0 550.6h1.0M360.7 563.4h1.0M357.2 562.1h1.0M367.2 546.2h1.0M341.8 575.9h1.0M355.5 552.2h1.0M359.8 562.0h1.0M371.0 541.3h1.0M353.3 560.8h1.0M359.5 562.6h1.0M353.4 559.8h1.0M366.3 558.4h1.0M370.4 552.8h1.0M353.5 565.1h1.0M360.6 555.4h1.0M349.6 569.1h1.0M354.8 554.0h1.0M362.3 557.9h1.0M375.8 551.0h1.0M367.9 557.9h1.0M374.0 534.4h1.0M351.4 560.9h1.0M358.7 557.5h1.0M360.9 561.7h1.0M344.6 558.8h1.0M362.3 559.2h1.0M350.6 567.5h1.0M367.7 551.7h1.0M364.4 552.8h1.0M356.1 555.4h1.0M346.3 571.4h1.0M364.8 552.0h1.0M370.7 547.1h1.0M374.6 549.1h1.0M352.4 562.7h1.0M368.1 549.7h1.0M365.3 548.5h1.0M351.6 564.2h1.0M376.1 544.2h1.0M351.6 568.5h1.0M350.2 575.6h1.0M362.5 554.5h1.0M360.1 565.7h1.0M354.0 561.5h1.0" stroke="#2b3b78" stroke-width="1.0" fill="none" opacity="0.8"/>
<path d="M356.0 563.2h1.0M364.7 558.2h1.0M376.2 548.5h1.0M383.3 545.2h1.0M358.6 558.6h1.0M350.2 567.3h1.0M367.1 560.1h1.0M383.0 552.8h1.0M375.8 559.8h1.0M375.1 551.0h1.0M372.3 554.7h1.0M367.5 554.3h1.0M365.9 568.5h1.0M356.4 566.2h1.0M396.7 518.9h1.0M368.0 548.8h1.0M371.0 553.5h1.0M363.3 563.3h1.0M373.3 533.4h1.0M370.9 551.4h1.0M378.7 547.6h1.0M361.7 564.6h1.0M355.7 573.5h1.0M365.5 567.3h1.0M362.4 561.4h1.0M358.4 561.4h1.0M358.2 565.1h1.0M376.8 555.7h1.0M357.6 578.7h1.0M365.4 558.8h1.0M364.5 556.4h1.0M362.3 558.3h1.0M367.0 566.3h1.0M386.1 539.8h1.0M365.6 558.0h1.0M383.3 552.4h1.0M366.8 553.3h1.0M393.5 547.2h1.0M409.6 521.2h1.0M349.5 573.3h1.0M360.2 568.5h1.0M376.2 549.1h1.0M368.3 564.7h1.0M354.3 576.2h1.0M359.3 562.6h1.0M365.0 555.3h1.0M361.7 568.5h1.0M354.2 569.7h1.0M367.1 557.6h1.0M393.2 536.0h1.0M366.5 559.0h1.0M350.4 577.2h1.0M384.7 551.5h1.0M374.7 554.4h1.0M351.2 556.6h1.0M380.9 551.8h1.0M363.0 554.1h1.0M375.8 549.4h1.0M358.6 575.8h1.0M370.8 556.2h1.0M397.3 531.1h1.0M371.8 566.3h1.0M369.5 558.3h1.0M378.5 541.7h1.0M362.3 554.6h1.0M361.1 554.0h1.0M376.1 551.5h1.0M376.5 546.7h1.0M358.1 561.8h1.0M356.1 568.2h1.0M359.0 572.9h1.0M363.4 557.1h1.0M388.2 533.2h1.0M356.9 569.0h1.0M368.4 555.7h1.0M378.5 541.3h1.0M384.1 547.6h1.0M366.2 558.8h1.0M375.1 551.3h1.0M363.0 562.2h1.0M370.2 560.4h1.0M367.5 558.6h1.0M363.5 573.0h1.0M370.0 555.2h1.0M383.3 545.1h1.0M361.8 559.8h1.0M367.4 557.3h1.0M368.1 564.8h1.0M394.6 545.9h1.0M353.9 570.1h1.0M364.1 564.0h1.0M361.0 554.1h1.0M378.7 554.3h1.0M368.3 571.4h1.0M367.5 561.8h1.0M355.2 569.4h1.0M357.7 571.6h1.0M365.2 561.7h1.0M361.8 545.7h1.0M380.1 542.9h1.0M382.1 552.9h1.0M366.1 556.4h1.0M380.3 544.5h1.0M362.4 558.3h1.0M377.6 553.4h1.0M356.8 576.5h1.0M373.6 551.4h1.0M362.9 556.5h1.0M381.5 547.0h1.0M399.2 537.6h1.0M364.4 567.0h1.0M382.7 547.7h1.0M377.6 545.3h1.0M366.1 559.2h1.0M373.5 543.7h1.0M374.1 558.5h1.0M371.5 562.4h1.0M377.5 541.0h1.0M359.4 564.2h1.0M361.8 561.4h1.0M365.7 561.6h1.0M352.2 573.2h1.0M381.8 538.2h1.0M366.2 559.7h1.0M359.5 568.6h1.0M368.2 560.6h1.0M375.1 555.7h1.0M352.2 570.6h1.0M361.9 556.1h1.0M384.3 544.7h1.0M373.2 547.5h1.0M406.7 524.2h1.0M365.5 569.6h1.0M377.2 557.5h1.0M376.6 553.4h1.0M355.8 565.7h1.0M378.0 552.1h1.0M391.6 539.7h1.0M382.9 547.3h1.0M363.6 561.3h1.0M370.2 558.9h1.0M384.4 553.8h1.0M342.8 577.7h1.0M365.8 567.0h1.0M398.3 533.5h1.0M363.7 569.8h1.0M396.7 530.9h1.0M368.7 561.0h1.0M369.4 554.1h1.0M355.4 563.4h1.0M364.2 565.4h1.0M367.3 568.0h1.0M364.9 562.7h1.0M369.3 554.4h1.0M356.8 564.1h1.0M364.1 559.6h1.0M359.0 557.2h1.0M358.0 562.7h1.0M384.3 544.0h1.0M371.1 559.9h1.0M373.7 558.8h1.0M351.0 568.2h1.0M384.0 542.3h1.0M378.4 551.2h1.0M365.7 559.1h1.0M357.1 557.6h1.0M380.2 551.2h1.0M366.1 562.0h1.0M365.3 566.2h1.0M372.0 568.4h1.0M348.7 569.2h1.0M367.9 553.6h1.0M358.2 565.2h1.0M377.5 550.7h1.0M380.0 543.8h1.0M381.5 545.9h1.0M368.6 557.6h1.0M367.4 555.4h1.0M363.7 555.1h1.0M365.1 560.6h1.0M363.3 565.5h1.0M386.4 545.9h1.0M366.0 540.0h1.0M364.5 558.6h1.0M365.3 556.8h1.0M365.8 563.6h1.0M385.8 552.9h1.0M360.3 558.9h1.0M353.3 579.5h1.0M402.4 518.1h1.0M357.0 564.2h1.0M363.0 572.3h1.0M374.7 548.7h1.0M370.6 556.0h1.0M369.2 562.6h1.0M358.9 564.6h1.0M379.6 546.0h1.0M358.7 571.6h1.0M367.3 554.1h1.0M354.5 572.8h1.0M378.5 551.4h1.0M359.6 565.1h1.0M379.0 561.3h1.0M387.8 531.4h1.0M366.7 555.2h1.0M372.7 552.5h1.0M355.1 572.8h1.0M359.7 561.3h1.0M377.4 543.9h1.0M371.7 547.2h1.0M364.7 558.1h1.0M359.9 559.3h1.0M355.6 571.0h1.0M372.5 559.9h1.0M359.0 575.2h1.0M386.3 544.2h1.0M373.8 557.1h1.0M367.5 547.2h1.0M371.1 552.6h1.0M367.5 566.2h1.0M350.0 575.8h1.0M373.5 554.3h1.0M387.9 549.1h1.0M369.3 555.2h1.0M381.0 541.2h1.0M375.8 554.4h1.0M365.6 562.2h1.0M398.8 515.6h1.0M372.5 556.5h1.0M353.6 562.9h1.0M369.7 557.4h1.0" stroke="#ab1849" stroke-width="1.0" fill="none" opacity="0.8"/>
<path d="M354.4 550.1h1.0M365.8 550.5h1.0M362.1 560.6h1.0M358.3 569.4h1.0M367.8 533.7h1.0M363.8 544.3h1.0M352.3 560.8h1.0M367.6 555.8h1.0M363.8 563.9h1.0M359.8 556.1h1.0M353.3 566.5h1.0M357.9 555.5h1.0M352.3 563.0h1.0M361.4 551.9h1.0M353.6 563.7h1.0M366.3 560.7h1.0M363.1 549.5h1.0M341.1 581.9h1.0M350.7 563.6h1.0M365.6 551.9h1.0M376.6 537.6h1.0M346.0 575.4h1.0M363.9 551.7h1.0M350.1 564.7h1.0M355.4 559.8h1.0M384.5 545.0h1.0M390.7 541.6h1.0M357.0 559.6h1.0M357.6 571.7h1.0M374.0 552.2h1.0M358.8 557.5h1.0M354.3 563.1h1.0M356.7 555.5h1.0M366.3 559.3h1.0M346.3 568.6h1.0M370.2 559.0h1.0M353.7 562.8h1.0M351.2 571.1h1.0M393.2 512.4h1.0M359.0 560.5h1.0M354.1 543.9h1.0M364.5 552.2h1.0M352.2 559.6h1.0M384.2 525.4h1.0M364.9 557.9h1.0M358.6 562.8h1.0M372.3 555.7h1.0M354.3 562.6h1.0M380.6 545.6h1.0M368.1 558.1h1.0M344.5 567.1h1.0M347.9 574.5h1.0M357.5 573.9h1.0M369.0 554.6h1.0M367.2 556.2h1.0M358.2 551.2h1.0M372.3 552.3h1.0M359.8 550.8h1.0M364.6 546.8h1.0M352.3 561.9h1.0M356.5 562.1h1.0M357.2 554.9h1.0M357.9 566.8h1.0M359.4 555.1h1.0M344.9 571.8h1.0M355.3 560.5h1.0M349.6 564.7h1.0M360.2 560.8h1.0M350.5 569.5h1.0M356.5 555.2h1.0M358.2 564.8h1.0M375.2 549.6h1.0M370.4 552.4h1.0M359.4 564.7h1.0M370.2 542.1h1.0M367.1 548.0h1.0M370.1 552.1h1.0M360.6 555.0h1.0M370.6 554.5h1.0M352.6 560.1h1.0M360.9 554.0h1.0M383.6 533.3h1.0M352.4 557.2h1.0M365.7 553.0h1.0M352.3 571.1h1.0M359.4 562.5h1.0M374.5 543.2h1.0M371.5 571.2h1.0M360.1 561.9h1.0M359.9 569.0h1.0M350.7 558.9h1.0M350.7 560.1h1.0M362.3 547.1h1.0M359.1 563.5h1.0M358.2 561.1h1.0M400.7 518.8h1.0M368.6 550.9h1.0M371.7 544.9h1.0M357.9 567.9h1.0M364.4 560.3h1.0M358.5 568.4h1.0M352.9 578.0h1.0M354.2 563.3h1.0M355.3 564.7h1.0M362.1 555.3h1.0M370.6 546.7h1.0M373.4 555.9h1.0M385.5 540.9h1.0M359.6 558.0h1.0M354.0 557.4h1.0M358.7 566.5h1.0M370.6 553.7h1.0M343.9 573.6h1.0M350.7 566.0h1.0M363.9 547.7h1.0M355.2 565.4h1.0M406.6 526.6h1.0M366.3 560.9h1.0M353.2 569.4h1.0M366.9 555.2h1.0M350.9 573.8h1.0M347.6 574.7h1.0M359.1 561.6h1.0M347.4 572.5h1.0M370.1 549.4h1.0M373.8 550.9h1.0M363.6 563.8h1.0M349.3 560.5h1.0M349.1 570.1h1.0M358.9 559.2h1.0M357.4 552.2h1.0M368.9 549.0h1.0M363.0 556.4h1.0M350.3 562.2h1.0M357.8 555.1h1.0M389.2 535.1h1.0M371.1 544.9h1.0M350.5 561.2h1.0M355.9 558.5h1.0M348.0 568.0h1.0M365.9 554.4h1.0M370.7 543.9h1.0M368.9 553.8h1.0M376.0 543.5h1.0M359.7 564.1h1.0M343.2 570.8h1.0M377.0 530.4h1.0M368.6 547.8h1.0M353.9 561.3h1.0M365.0 550.0h1.0M354.8 562.2h1.0M353.7 558.2h1.0M359.3 555.9h1.0M359.4 562.7h1.0M366.2 549.4h1.0M349.4 561.0h1.0M362.5 550.5h1.0M369.6 558.2h1.0M358.2 566.9h1.0M365.3 552.2h1.0M353.4 557.3h1.0M370.5 546.8h1.0M377.2 540.9h1.0M368.0 540.4h1.0M374.8 539.0h1.0M362.6 554.6h1.0M354.2 557.6h1.0M351.5 567.3h1.0M385.7 531.7h1.0M373.0 538.6h1.0M339.3 575.5h1.0M361.7 559.3h1.0M375.6 548.7h1.0M349.8 572.8h1.0M399.5 513.8h1.0M378.7 540.9h1.0M350.6 561.1h1.0M365.6 557.4h1.0M364.9 552.0h1.0M374.0 555.0h1.0M358.8 561.0h1.0M366.8 545.0h1.0M347.3 569.3h1.0M368.4 568.5h1.0M347.0 565.7h1.0M377.5 544.4h1.0M359.5 553.7h1.0M371.8 541.9h1.0M358.7 551.3h1.0M367.3 548.2h1.0M368.5 546.4h1.0M349.4 556.5h1.0M384.8 531.7h1.0M354.6 569.0h1.0M367.3 552.2h1.0M353.8 570.0h1.0M375.4 552.4h1.0M357.5 554.7h1.0M358.8 558.7h1.0M371.7 549.6h1.0M362.0 550.3h1.0M358.9 564.4h1.0M362.0 558.5h1.0M353.0 564.0h1.0M364.4 549.4h1.0M365.8 554.8h1.0M352.3 565.1h1.0M341.9 569.7h1.0M366.3 552.4h1.0M355.9 554.7h1.0M373.6 554.7h1.0M356.2 562.5h1.0M354.5 561.1h1.0M349.4 558.1h1.0M348.2 568.6h1.0M377.0 542.5h1.0M372.6 547.1h1.0M352.7 559.5h1.0M359.5 559.6h1.0M354.8 560.2h1.0M382.2 544.8h1.0M364.1 560.0h1.0M376.6 537.5h1.0M351.9 565.4h1.0M348.6 564.1h1.0M368.1 548.3h1.0" stroke="#2b3b78" stroke-width="1.0" fill="none" opacity="0.8"/>
<path d="M382.8 551.8h1.0M352.5 557.3h1.0M382.2 551.3h1.0M399.8 537.0h1.0M377.7 550.3h1.0M378.7 547.2h1.0M384.4 548.4h1.0M362.2 563.5h1.0M400.8 525.8h1.0M371.1 548.0h1.0M370.9 556.8h1.0M368.2 561.4h1.0M375.0 555.5h1.0M380.3 534.7h1.0M353.3 556.8h1.0M392.6 526.3h1.0M359.9 573.1h1.0M377.5 553.5h1.0M363.9 551.0h1.0M356.7 567.2h1.0M361.5 563.6h1.0M379.4 544.4h1.0M372.8 555.5h1.0M373.4 552.5h1.0M372.6 563.3h1.0M378.5 551.5h1.0M358.8 573.4h1.0M354.3 569.1h1.0M358.9 564.5h1.0M368.2 565.0h1.0M362.0 565.5h1.0M381.5 534.9h1.0M348.3 575.9h1.0M361.2 570.6h1.0M361.1 567.3h1.0M365.8 560.9h1.0M351.3 571.8h1.0M360.2 557.9h1.0M367.1 558.5h1.0M363.7 557.9h1.0M363.4 552.9h1.0M372.3 549.1h1.0M359.4 568.9h1.0M373.1 541.8h1.0M374.2 557.5h1.0M368.4 552.0h1.0M388.1 542.1h1.0M370.5 559.6h1.0M367.2 561.0h1.0M355.2 564.2h1.0M368.4 550.6h1.0M381.8 553.3h1.0M396.1 525.4h1.0M394.8 531.1h1.0M373.1 547.3h1.0M377.4 536.7h1.0M349.5 575.0h1.0M359.1 566.5h1.0M386.5 544.5h1.0M372.2 566.3h1.0M376.3 558.4h1.0M369.3 553.3h1.0M356.9 556.6h1.0M364.7 558.4h1.0M372.7 553.5h1.0M362.2 551.5h1.0M362.3 565.6h1.0M377.0 541.5h1.0M362.9 564.5h1.0M360.1 563.3h1.0M356.6 573.9h1.0M371.7 561.8h1.0M356.9 566.5h1.0M362.2 557.5h1.0M378.9 540.7h1.0M354.9 567.4h1.0M361.3 557.2h1.0M359.9 568.3h1.0M370.1 558.1h1.0M370.3 550.3h1.0M356.5 572.7h1.0M352.0 566.5h1.0M356.8 552.8h1.0M370.4 557.9h1.0M356.7 566.7h1.0M348.3 573.2h1.0M369.8 554.6h1.0M358.8 571.4h1.0M371.7 556.4h1.0M366.5 560.1h1.0M384.1 549.8h1.0M360.5 552.9h1.0M361.1 566.1h1.0M367.1 559.9h1.0M368.8 565.4h1.0M398.5 527.9h1.0M365.1 559.6h1.0M378.5 547.2h1.0M400.7 518.1h1.0M346.8 568.5h1.0M383.8 552.7h1.0M383.2 565.1h1.0M380.4 542.7h1.0M371.7 559.5h1.0M362.5 568.8h1.0M371.0 557.3h1.0M365.8 570.3h1.0M378.7 547.3h1.0M371.0 546.3h1.0M364.9 564.6h1.0M364.7 558.6h1.0M372.0 559.0h1.0M376.2 540.2h1.0M365.6 563.1h1.0M377.9 557.1h1.0M349.7 572.1h1.0M367.7 566.4h1.0M370.2 556.5h1.0M368.4 563.4h1.0M370.0 554.1h1.0M366.5 555.9h1.0M373.8 559.8h1.0M379.8 543.9h1.0M367.4 565.3h1.0M362.3 560.3h1.0M361.8 560.2h1.0M365.3 566.8h1.0M377.2 552.2h1.0M371.7 555.3h1.0M367.2 563.8h1.0M362.6 562.6h1.0M357.9 562.3h1.0M361.8 565.0h1.0M354.0 560.1h1.0M378.4 561.6h1.0M376.9 555.1h1.0M364.7 557.5h1.0M360.7 569.3h1.0M374.9 557.8h1.0M376.1 550.9h1.0M354.2 567.3h1.0M369.1 564.3h1.0M366.0 561.5h1.0M363.8 561.7h1.0M355.4 577.0h1.0M365.2 553.9h1.0M363.7 563.7h1.0M367.4 555.8h1.0M359.6 566.0h1.0M374.0 546.6h1.0M375.2 547.0h1.0M386.2 541.6h1.0M385.6 544.0h1.0M364.9 558.2h1.0M357.9 562.2h1.0M373.3 543.3h1.0M364.8 564.1h1.0M382.4 545.1h1.0M368.7 559.9h1.0M365.2 562.6h1.0M371.3 557.5h1.0M374.5 557.2h1.0M389.7 519.2h1.0M355.0 572.4h1.0M361.1 559.6h1.0M372.8 542.5h1.0M361.7 565.9h1.0M368.7 562.5h1.0M370.6 557.9h1.0M358.9 567.6h1.0M366.8 538.1h1.0M380.8 548.4h1.0M384.1 537.4h1.0M364.9 559.8h1.0M362.6 558.0h1.0M381.6 542.1h1.0M360.4 565.1h1.0M369.1 559.5h1.0M373.9 548.1h1.0M354.2 550.3h1.0M373.5 557.5h1.0M360.6 558.7h1.0M390.7 535.2h1.0M359.1 564.4h1.0M360.9 558.7h1.0M361.7 564.8h1.0M354.7 570.1h1.0M383.2 544.6h1.0M370.8 563.5h1.0M344.2 580.4h1.0M401.2 523.9h1.0M348.3 580.1h1.0M373.6 554.5h1.0M370.3 557.4h1.0M373.9 557.5h1.0M374.2 553.8h1.0M371.6 553.2h1.0M370.7 559.0h1.0M375.1 548.4h1.0M369.7 565.0h1.0M376.0 543.5h1.0M368.7 553.6h1.0M379.4 533.4h1.0M395.1 531.4h1.0M369.4 543.0h1.0M400.1 534.6h1.0M368.2 560.4h1.0M354.0 568.8h1.0M374.8 554.8h1.0M359.7 560.7h1.0M364.4 560.3h1.0M378.5 553.3h1.0M365.8 562.7h1.0M378.5 542.0h1.0M360.0 566.0h1.0M355.2 576.2h1.0M366.6 557.3h1.0M366.3 561.7h1.0M381.0 550.5h1.0M364.3 567.2h1.0M361.2 573.2h1.0M372.2 545.6h1.0M371.6 559.0h1.0M380.4 551.5h1.0M380.2 548.9h1.0M376.6 552.2h1.0M368.5 558.9h1.0M369.8 551.0h1.0M371.2 558.2h1.0M361.1 563.0h1.0M370.0 557.6h1.0" stroke="#ab1849" stroke-width="1.0" fill="none" opacity="0.8"/>
<path d="M356.3 561.0h1.0M351.0 562.3h1.0M399.0 537.1h1.0M378.1 540.8h1.0M363.5 553.2h1.0M348.6 570.6h1.0M344.9 568.4h1.0M345.6 565.1h1.0M366.2 560.6h1.0M351.1 569.1h1.0M360.6 562.5h1.0M349.4 563.9h1.0M362.5 555.9h1.0M378.0 541.5h1.0M356.1 556.4h1.0M369.4 549.3h1.0M361.1 551.3h1.0M373.0 542.6h1.0M347.0 557.8h1.0M359.1 553.3h1.0M354.1 557.2h1.0M401.2 526.3h1.0M355.2 563.2h1.0M350.7 565.2h1.0M374.2 558.2h1.0M351.9 577.7h1.0M362.3 561.6h1.0M364.0 546.8h1.0M372.5 554.6h1.0M355.0 558.3h1.0M369.4 550.3h1.0M353.5 560.4h1.0M364.8 562.7h1.0M382.3 528.8h1.0M355.5 565.8h1.0M365.3 554.6h1.0M376.5 535.8h1.0M358.3 557.9h1.0M355.9 558.8h1.0M397.4 526.3h1.0M375.6 547.4h1.0M375.1 557.5h1.0M340.3 573.8h1.0M391.9 534.3h1.0M353.6 566.6h1.0M367.7 550.0h1.0M351.2 561.9h1.0M368.3 546.7h1.0M353.2 555.7h1.0M363.0 564.0h1.0M357.4 559.5h1.0M361.0 551.9h1.0M354.1 564.3h1.0M377.4 548.2h1.0M363.1 561.1h1.0M358.3 552.9h1.0M357.9 564.8h1.0M352.7 567.3h1.0M380.4 535.8h1.0M360.3 557.7h1.0M363.2 560.3h1.0M369.9 558.8h1.0M381.7 536.5h1.0M372.3 548.0h1.0M338.7 571.1h1.0M374.5 558.5h1.0M374.3 552.5h1.0M355.5 556.7h1.0M362.5 550.0h1.0M353.8 570.6h1.0M363.1 550.5h1.0M364.1 566.7h1.0M385.3 529.1h1.0M367.3 556.8h1.0M375.9 549.1h1.0M362.0 551.0h1.0M358.7 561.7h1.0M364.9 562.8h1.0M364.8 557.4h1.0M355.5 575.2h1.0M375.5 554.9h1.0M359.3 563.9h1.0M369.4 555.9h1.0M339.0 572.4h1.0M367.0 555.8h1.0M357.8 559.2h1.0M355.7 564.7h1.0M365.8 550.3h1.0M352.5 557.8h1.0M356.8 560.0h1.0M363.1 555.9h1.0M371.8 554.8h1.0M354.1 561.2h1.0M377.2 546.2h1.0M358.1 552.0h1.0M374.3 542.6h1.0M358.8 561.2h1.0M391.9 520.2h1.0M373.7 545.5h1.0M358.9 559.7h1.0M351.5 564.6h1.0M357.8 565.3h1.0M375.2 552.2h1.0M372.3 551.9h1.0M374.7 548.1h1.0M345.9 562.2h1.0M362.9 554.7h1.0M358.4 557.0h1.0M368.4 557.5h1.0M353.6 553.6h1.0M384.9 539.6h1.0M352.9 562.1h1.0M367.6 558.2h1.0M361.1 565.9h1.0M358.8 556.5h1.0M385.4 539.1h1.0M349.9 561.8h1.0M356.4 571.0h1.0M358.4 566.1h1.0M361.3 551.4h1.0M368.7 552.3h1.0M341.4 564.5h1.0M346.0 564.6h1.0M360.8 559.3h1.0M353.6 564.8h1.0M377.1 538.9h1.0M365.2 557.0h1.0M378.8 535.7h1.0M358.4 559.8h1.0M363.5 554.4h1.0M345.5 559.4h1.0M404.0 524.3h1.0M356.9 561.0h1.0M390.0 533.3h1.0M376.7 544.7h1.0M348.4 575.7h1.0M367.0 553.4h1.0M361.5 561.0h1.0M346.9 571.9h1.0M355.9 557.5h1.0M352.2 563.2h1.0M379.0 540.3h1.0M358.9 556.0h1.0M345.5 575.4h1.0M370.8 553.7h1.0M381.6 540.1h1.0M350.3 560.4h1.0M374.5 547.5h1.0M361.7 554.2h1.0M348.3 557.8h1.0M362.8 559.8h1.0M354.9 560.8h1.0M364.0 550.6h1.0M348.4 566.1h1.0M362.2 558.2h1.0M360.5 560.6h1.0M366.7 553.2h1.0M353.6 564.3h1.0M363.7 562.8h1.0M349.6 562.2h1.0M372.3 541.1h1.0M360.2 550.8h1.0M358.6 560.1h1.0M354.2 562.0h1.0M361.2 556.3h1.0M360.5 567.4h1.0M375.8 551.6h1.0M354.6 564.4h1.0M345.6 581.2h1.0M369.5 552.9h1.0M358.7 560.0h1.0M355.9 555.6h1.0M378.3 535.8h1.0M354.7 558.4h1.0M391.8 514.2h1.0M368.9 556.9h1.0M362.3 556.2h1.0M357.5 561.3h1.0M365.2 553.6h1.0M372.9 547.8h1.0M348.1 562.1h1.0M367.5 558.9h1.0M360.1 554.7h1.0M360.8 575.0h1.0M360.4 554.2h1.0M373.7 549.6h1.0M365.7 558.1h1.0M358.7 555.1h1.0M358.7 562.8h1.0M373.7 561.8h1.0M353.2 567.0h1.0M358.4 561.7h1.0M372.7 548.4h1.0M351.1 556.8h1.0M358.2 562.7h1.0M356.2 562.6h1.0M369.9 555.1h1.0M353.6 566.6h1.0M357.5 550.3h1.0M358.2 542.8h1.0M369.8 550.6h1.0M356.0 567.6h1.0M367.8 550.2h1.0M358.7 559.6h1.0M370.0 549.2h1.0M362.1 559.3h1.0M359.6 565.3h1.0M353.8 571.9h1.0M360.4 557.4h1.0M352.3 562.1h1.0M344.4 570.2h1.0M387.6 529.7h1.0M351.9 556.7h1.0M376.5 546.5h1.0M372.9 560.6h1.0M368.2 549.4h1.0M363.6 555.6h1.0M350.2 563.5h1.0M366.2 551.9h1.0M374.0 540.5h1.0M364.7 546.7h1.0M355.4 562.2h1.0M361.7 553.7h1.0M360.8 559.8h1.0M379.6 531.3h1.0M366.7 555.1h1.0" stroke="#2b3b78" stroke-width="1.0" fill="none" opacity="0.8"/>
<path d="M374.9 551.6h1.0M375.6 563.1h1.0M363.4 560.5h1.0M360.2 572.9h1.0M367.2 556.9h1.0M382.1 553.1h1.0M384.5 552.4h1.0M361.1 555.6h1.0M369.4 549.3h1.0M368.4 555.8h1.0M377.1 543.6h1.0M363.1 562.6h1.0M375.2 554.6h1.0M376.9 546.1h1.0M364.7 563.8h1.0M360.6 560.3h1.0M364.6 566.9h1.0M387.7 520.8h1.0M358.1 558.3h1.0M369.7 568.0h1.0M352.6 561.7h1.0M363.2 567.7h1.0M400.5 511.8h1.0M355.9 568.7h1.0M372.9 556.6h1.0M361.3 565.9h1.0M363.2 567.4h1.0M386.3 544.0h1.0M375.2 558.7h1.0M407.5 517.4h1.0M369.1 561.7h1.0M356.6 562.3h1.0M360.8 556.8h1.0M366.7 563.1h1.0M357.4 567.3h1.0M406.2 534.4h1.0M373.1 555.3h1.0M366.8 552.6h1.0M365.4 562.2h1.0M380.3 539.8h1.0M381.5 546.1h1.0M373.5 551.5h1.0M376.9 547.2h1.0M357.3 571.1h1.0M360.0 563.4h1.0M359.1 568.0h1.0M359.8 557.6h1.0M358.3 567.7h1.0M367.2 560.1h1.0M359.8 556.2h1.0M372.5 548.9h1.0M364.5 558.3h1.0M380.2 545.0h1.0M361.1 557.8h1.0M373.2 555.9h1.0M365.0 573.5h1.0M369.9 551.4h1.0M367.6 565.7h1.0M371.1 556.2h1.0M363.6 559.2h1.0M365.2 565.3h1.0M363.1 567.3h1.0M378.3 552.0h1.0M359.5 565.8h1.0M361.8 564.1h1.0M382.4 538.6h1.0M355.2 571.1h1.0M384.8 546.9h1.0M373.7 560.3h1.0M364.3 560.8h1.0M373.8 553.6h1.0M383.4 549.5h1.0M369.7 545.1h1.0M373.3 555.8h1.0M383.2 531.8h1.0M359.6 558.6h1.0M359.8 549.9h1.0M392.6 531.4h1.0M375.2 545.4h1.0M365.1 555.4h1.0M361.3 557.9h1.0M365.4 569.1h1.0M363.8 561.9h1.0M383.8 553.9h1.0M370.3 545.1h1.0M385.1 539.8h1.0M369.1 568.8h1.0M360.8 565.4h1.0M396.0 529.9h1.0M371.6 550.6h1.0M357.7 564.1h1.0M361.4 563.8h1.0M354.3 572.4h1.0M360.6 560.6h1.0M356.4 569.9h1.0M367.2 562.5h1.0M359.6 566.1h1.0M389.4 545.1h1.0M363.0 557.0h1.0M384.0 543.0h1.0M363.1 574.7h1.0M387.3 548.5h1.0M379.7 540.0h1.0M362.7 566.6h1.0M399.6 527.7h1.0M383.9 537.7h1.0M367.0 558.5h1.0M384.8 528.4h1.0M357.2 563.4h1.0M394.9 524.5h1.0M388.0 550.1h1.0M365.2 554.4h1.0M363.6 560.1h1.0M370.8 548.6h1.0M381.2 546.3h1.0M372.9 564.8h1.0M359.5 562.9h1.0M373.4 557.5h1.0M378.2 542.7h1.0M365.7 558.5h1.0M382.4 550.3h1.0M365.0 562.3h1.0M352.9 573.2h1.0M369.5 558.5h1.0M371.2 554.2h1.0M352.3 569.7h1.0M350.3 573.5h1.0M372.7 557.3h1.0M357.1 559.4h1.0M361.7 564.3h1.0M366.2 557.3h1.0M378.9 548.0h1.0M392.7 529.0h1.0M366.5 563.3h1.0M358.9 569.2h1.0M375.1 544.3h1.0M367.8 557.5h1.0M381.0 549.8h1.0M365.2 560.6h1.0M367.2 562.3h1.0M370.9 557.7h1.0M373.1 559.2h1.0M369.7 562.2h1.0M346.9 580.6h1.0M370.9 558.1h1.0M370.8 571.2h1.0M378.7 550.4h1.0M372.1 567.5h1.0M366.3 555.3h1.0M356.4 569.4h1.0M367.2 559.5h1.0M367.8 563.5h1.0M359.9 567.9h1.0M372.3 565.4h1.0M367.7 566.2h1.0M376.5 552.1h1.0M379.5 554.6h1.0M367.3 561.3h1.0M349.8 579.4h1.0M383.3 545.8h1.0M367.7 559.8h1.0M358.3 560.5h1.0M361.6 565.4h1.0M352.4 571.6h1.0M387.5 542.2h1.0M364.3 564.6h1.0M375.2 553.6h1.0M354.4 573.0h1.0M355.9 570.0h1.0M364.6 557.5h1.0M364.4 557.9h1.0M362.1 566.9h1.0M365.9 563.7h1.0M378.9 548.6h1.0M361.9 562.1h1.0M381.7 548.6h1.0M375.2 557.6h1.0M368.4 556.7h1.0M365.0 564.3h1.0M372.8 557.5h1.0M352.8 576.5h1.0M359.9 565.9h1.0M398.9 521.4h1.0M397.5 534.1h1.0M372.6 544.4h1.0M384.1 530.2h1.0M370.6 554.2h1.0M369.5 561.3h1.0M362.4 545.9h1.0M359.4 563.5h1.0M361.2 565.1h1.0M380.3 547.8h1.0M378.3 560.9h1.0M383.0 544.7h1.0M374.9 548.3h1.0M381.0 550.6h1.0M368.1 567.3h1.0M369.0 564.4h1.0M352.9 573.1h1.0M367.8 557.6h1.0M363.8 567.4h1.0M359.6 566.2h1.0M370.4 560.6h1.0M376.1 557.1h1.0M388.8 541.1h1.0M368.4 562.3h1.0M367.9 560.2h1.0M364.4 562.6h1.0M362.5 569.5h1.0M379.4 544.7h1.0M371.2 554.9h1.0M369.3 573.0h1.0M355.3 568.2h1.0M362.0 561.0h1.0M370.4 549.0h1.0M371.9 548.1h1.0M372.2 554.9h1.0M365.7 569.2h1.0M364.3 571.0h1.0M360.8 570.8h1.0M366.4 553.0h1.0M377.5 559.0h1.0M376.2 559.8h1.0M365.9 553.6h1.0M356.6 565.3h1.0M360.7 560.7h1.0M375.2 551.0h1.0M345.5 586.4h1.0M382.5 551.3h1.0M381.5 546.6h1.0" stroke="#ab1849" stroke-width="1.0" fill="none" opacity="0.8"/>
<rect x="331.0" y="505.2" width="85.8" height="85.8" fill="none" stroke="#333" stroke-width="1.7"/>
<path d="M452.3 567.3h1.0M459.7 554.2h1.0M454.6 556.8h1.0M472.5 546.8h1.0M468.9 565.3h1.0M462.6 556.4h1.0M445.6 568.1h1.0M455.8 564.6h1.0M478.0 550.0h1.0M442.1 568.7h1.0M453.8 559.7h1.0M451.8 553.4h1.0M444.8 563.2h1.0M451.5 564.7h1.0M447.6 571.8h1.0M455.1 568.3h1.0M451.7 570.6h1.0M452.3 552.2h1.0M459.4 549.5h1.0M428.5 565.1h1.0M444.0 561.9h1.0M450.3 562.4h1.0M457.5 563.2h1.0M464.8 574.6h1.0M455.3 562.3h1.0M442.9 564.4h1.0M459.2 558.7h1.0M444.2 566.1h1.0M454.1 554.3h1.0M453.5 560.0h1.0M442.5 565.7h1.0M463.1 562.3h1.0M460.7 554.5h1.0M465.9 549.6h1.0M465.2 552.0h1.0M456.2 553.4h1.0M452.7 565.5h1.0M450.7 559.2h1.0M443.3 566.8h1.0M479.2 530.2h1.0M458.9 546.7h1.0M476.6 541.4h1.0M469.2 544.7h1.0M447.8 568.0h1.0M440.1 567.4h1.0M447.3 560.1h1.0M456.7 561.6h1.0M449.4 565.0h1.0M462.5 560.7h1.0M453.3 560.2h1.0M458.8 564.9h1.0M453.6 557.2h1.0M466.9 548.3h1.0M457.2 556.5h1.0M447.6 571.7h1.0M473.2 543.0h1.0M441.7 577.5h1.0M429.2 575.8h1.0M463.8 554.5h1.0M476.0 542.8h1.0M457.7 555.4h1.0M448.6 570.8h1.0M437.6 546.4h1.0M458.2 561.8h1.0M461.2 553.6h1.0M455.1 555.1h1.0M463.4 557.8h1.0M459.4 563.7h1.0M441.4 553.0h1.0M450.0 565.3h1.0M453.3 553.5h1.0M464.0 554.0h1.0M456.2 555.8h1.0M461.6 555.0h1.0M476.4 536.6h1.0M438.9 565.9h1.0M469.8 547.8h1.0M455.2 555.0h1.0M448.7 569.1h1.0M446.6 557.9h1.0M451.9 568.5h1.0M471.4 538.6h1.0M441.2 570.2h1.0M454.6 555.7h1.0M466.9 556.3h1.0M462.8 555.7h1.0M467.1 548.7h1.0M455.5 561.2h1.0M438.5 563.7h1.0M457.4 562.9h1.0M472.9 547.6h1.0M442.8 569.2h1.0M472.9 553.3h1.0M454.8 563.1h1.0M452.7 561.6h1.0M452.2 565.9h1.0M476.5 549.9h1.0M468.8 567.7h1.0M462.0 560.5h1.0M458.9 548.8h1.0M455.4 555.6h1.0M459.7 563.5h1.0M453.7 559.2h1.0M461.1 547.4h1.0M452.2 555.4h1.0M446.7 559.9h1.0M460.3 551.3h1.0M467.4 553.8h1.0M447.3 567.7h1.0M449.6 557.1h1.0M443.8 575.0h1.0M466.2 551.9h1.0M441.7 559.9h1.0M465.4 550.7h1.0M440.7 557.9h1.0M444.4 557.3h1.0M445.1 565.3h1.0M443.9 567.8h1.0M479.3 548.7h1.0M498.9 519.6h1.0M462.8 554.2h1.0M457.3 565.0h1.0M454.8 557.6h1.0M436.9 570.4h1.0M462.7 558.5h1.0M451.8 557.6h1.0M434.4 558.8h1.0M466.1 550.9h1.0M464.5 559.3h1.0M462.2 547.7h1.0M455.7 563.2h1.0M451.0 555.5h1.0M453.2 564.4h1.0M459.4 557.8h1.0M451.5 567.2h1.0M455.8 558.3h1.0M447.9 570.4h1.0M450.9 565.1h1.0M443.5 572.6h1.0M458.3 555.8h1.0M456.7 567.0h1.0M449.5 562.6h1.0M456.3 563.0h1.0M453.5 563.2h1.0M450.9 563.4h1.0M452.8 560.6h1.0M448.8 554.5h1.0M462.1 558.1h1.0M453.0 553.6h1.0M456.4 554.3h1.0M462.5 553.7h1.0M438.5 573.8h1.0M448.9 564.5h1.0M457.1 565.2h1.0M463.4 546.0h1.0M440.1 569.7h1.0M450.2 551.4h1.0M449.1 564.9h1.0M483.6 537.4h1.0M473.9 546.9h1.0M441.2 568.9h1.0M453.1 568.5h1.0M463.8 557.2h1.0M461.1 548.8h1.0M445.3 557.0h1.0M478.9 557.6h1.0M456.4 551.6h1.0M469.8 560.6h1.0M432.9 563.7h1.0M459.2 558.7h1.0M448.7 569.2h1.0M437.7 570.4h1.0M469.4 554.5h1.0M473.6 548.6h1.0M454.1 563.3h1.0M450.1 561.5h1.0M455.9 560.5h1.0M464.1 553.0h1.0M453.5 551.0h1.0M465.4 544.0h1.0M455.8 561.7h1.0M448.0 561.0h1.0M449.9 566.0h1.0M464.2 544.8h1.0M453.0 564.7h1.0M456.5 557.7h1.0M448.6 556.2h1.0M449.9 560.3h1.0M445.0 567.4h1.0M474.0 553.0h1.0M445.0 569.8h1.0M484.2 551.4h1.0M458.5 561.5h1.0M474.6 551.4h1.0M458.3 560.8h1.0M458.5 560.6h1.0M453.2 556.1h1.0M443.3 558.7h1.0M459.6 554.8h1.0M456.4 559.1h1.0M468.5 552.2h1.0M457.7 558.9h1.0M453.4 560.8h1.0M445.5 569.1h1.0M462.0 561.6h1.0M457.5 563.4h1.0M445.4 576.3h1.0M463.3 551.3h1.0M455.3 552.6h1.0M460.8 559.6h1.0M461.0 564.5h1.0M476.5 545.8h1.0M460.1 554.1h1.0M457.6 554.8h1.0M435.3 575.9h1.0M455.0 558.4h1.0M483.0 545.9h1.0M471.6 552.0h1.0M451.2 572.4h1.0M470.5 554.0h1.0M449.9 561.5h1.0M459.4 557.5h1.0M451.9 565.2h1.0M450.6 567.2h1.0M475.2 544.0h1.0M444.4 571.7h1.0M447.6 565.4h1.0" stroke="#2b3b78" stroke-width="1.0" fill="none" opacity="0.8"/>
<path d="M459.5 562.0h1.0M472.4 542.7h1.0M461.0 558.8h1.0M473.3 542.4h1.0M455.5 567.0h1.0M485.2 542.7h1.0M460.2 567.3h1.0M476.9 551.7h1.0M458.5 556.0h1.0M467.7 556.5h1.0M481.6 550.5h1.0M461.8 561.3h1.0M444.8 570.6h1.0M452.7 566.1h1.0M471.3 547.9h1.0M464.8 552.3h1.0M482.2 537.1h1.0M472.4 557.5h1.0M476.2 547.4h1.0M461.2 565.0h1.0M452.6 560.1h1.0M472.4 555.5h1.0M470.9 560.6h1.0M454.0 571.0h1.0M475.6 545.8h1.0M466.3 556.6h1.0M463.4 565.6h1.0M451.4 561.9h1.0M457.6 558.1h1.0M447.0 562.6h1.0M469.1 546.9h1.0M460.6 558.2h1.0M481.1 523.1h1.0M472.0 550.6h1.0M447.8 575.9h1.0M466.2 557.6h1.0M471.8 547.1h1.0M471.0 541.8h1.0M467.5 555.9h1.0M465.1 555.4h1.0M458.7 560.2h1.0M457.8 568.2h1.0M475.0 541.4h1.0M456.4 565.3h1.0M460.9 560.9h1.0M465.6 551.7h1.0M494.5 523.4h1.0M465.7 554.3h1.0M457.3 560.8h1.0M501.1 525.8h1.0M470.4 563.0h1.0M464.6 562.8h1.0M456.5 560.3h1.0M458.6 567.6h1.0M463.5 557.5h1.0M472.2 553.3h1.0M459.1 559.2h1.0M470.1 534.9h1.0M471.9 564.0h1.0M459.3 562.1h1.0M471.8 545.6h1.0M469.6 546.5h1.0M472.3 556.7h1.0M450.8 565.4h1.0M469.5 556.3h1.0M472.3 551.8h1.0M484.5 537.2h1.0M462.7 553.7h1.0M465.0 554.7h1.0M475.3 546.6h1.0M466.5 548.4h1.0M452.7 568.3h1.0M432.8 589.4h1.0M460.0 555.8h1.0M458.2 562.9h1.0M472.6 552.8h1.0M468.3 552.3h1.0M456.5 561.7h1.0M442.9 573.5h1.0M456.5 559.4h1.0M461.6 561.0h1.0M452.9 564.6h1.0M472.3 546.9h1.0M478.3 548.6h1.0M473.5 545.4h1.0M480.3 543.8h1.0M454.5 561.4h1.0M458.9 560.6h1.0M467.4 562.0h1.0M459.7 552.8h1.0M465.2 549.7h1.0M451.1 566.8h1.0M472.3 544.0h1.0M467.0 554.6h1.0M443.5 577.8h1.0M479.0 534.7h1.0M466.6 555.2h1.0M471.8 534.8h1.0M465.5 562.0h1.0M463.8 564.9h1.0M461.0 556.8h1.0M482.9 543.9h1.0M440.9 570.3h1.0M481.2 542.8h1.0M455.4 562.7h1.0M472.3 549.4h1.0M464.2 563.0h1.0M456.7 568.1h1.0M460.5 562.6h1.0M454.9 562.9h1.0M471.8 563.0h1.0M470.9 552.4h1.0M475.1 553.2h1.0M488.0 540.5h1.0M459.2 553.2h1.0M458.4 556.3h1.0M465.8 555.3h1.0M459.6 559.6h1.0M469.9 557.2h1.0M482.5 543.9h1.0M457.4 561.5h1.0M456.3 563.2h1.0M453.6 556.5h1.0M462.0 552.9h1.0M471.9 540.9h1.0M475.5 549.8h1.0M485.4 535.9h1.0M476.0 548.7h1.0M453.1 559.8h1.0M461.3 556.1h1.0M462.0 560.0h1.0M457.7 554.7h1.0M503.8 534.8h1.0M459.8 561.6h1.0M455.4 560.7h1.0M440.1 565.5h1.0M469.9 557.7h1.0M468.5 556.1h1.0M463.4 550.2h1.0M458.9 566.2h1.0M469.7 551.7h1.0M454.4 557.8h1.0M471.5 556.8h1.0M476.3 555.4h1.0M479.6 543.2h1.0M456.3 563.1h1.0M472.9 548.4h1.0M460.2 556.4h1.0M468.5 557.9h1.0M454.9 562.4h1.0M469.4 557.0h1.0M455.9 560.9h1.0M465.4 551.7h1.0M485.0 548.0h1.0M479.2 530.4h1.0M456.6 558.7h1.0M459.9 563.9h1.0M472.2 556.6h1.0M455.2 568.9h1.0M456.5 556.2h1.0M445.3 565.5h1.0M486.8 539.1h1.0M470.2 550.1h1.0M457.8 557.7h1.0M476.0 543.9h1.0M467.3 558.0h1.0M449.0 561.8h1.0M477.1 554.4h1.0M452.9 574.5h1.0M475.1 553.2h1.0M463.4 544.1h1.0M450.9 565.6h1.0M468.3 553.6h1.0M485.7 541.0h1.0M490.0 523.6h1.0M455.8 568.9h1.0M483.9 535.5h1.0M458.6 564.3h1.0M469.5 549.3h1.0M441.1 570.1h1.0M447.5 570.9h1.0M472.7 552.5h1.0M472.5 548.8h1.0M456.9 566.6h1.0M471.1 547.0h1.0M506.0 509.5h1.0M457.4 567.4h1.0M451.7 564.5h1.0M462.8 563.3h1.0M469.9 541.3h1.0M473.2 546.6h1.0M450.3 574.1h1.0M477.8 556.5h1.0M453.3 566.4h1.0M464.8 556.4h1.0M458.1 554.7h1.0M472.1 542.6h1.0M461.7 565.8h1.0M464.8 545.7h1.0M462.1 554.8h1.0M472.3 556.8h1.0M467.8 551.7h1.0M453.2 565.3h1.0M478.4 551.2h1.0M455.0 563.0h1.0M467.8 556.9h1.0M450.1 564.6h1.0M446.6 561.3h1.0M454.0 564.2h1.0M452.9 571.8h1.0M445.2 573.4h1.0M455.0 562.3h1.0M455.0 566.4h1.0M465.1 552.7h1.0M481.5 541.4h1.0M478.2 540.1h1.0M478.1 545.1h1.0M459.3 563.4h1.0M463.5 557.5h1.0M465.4 562.0h1.0M451.1 568.2h1.0M485.8 528.2h1.0M473.8 545.0h1.0M470.9 561.9h1.0M458.0 554.8h1.0M468.0 553.6h1.0M453.8 570.4h1.0M462.7 541.1h1.0M469.9 548.2h1.0M487.0 544.8h1.0M460.8 559.5h1.0" stroke="#ab1849" stroke-width="1.0" fill="none" opacity="0.8"/>
<path d="M458.4 557.4h1.0M449.8 566.1h1.0M467.2 540.9h1.0M468.7 556.0h1.0M454.6 556.2h1.0M468.8 542.9h1.0M467.2 559.7h1.0M444.6 543.3h1.0M462.4 558.5h1.0M444.8 565.1h1.0M463.7 556.6h1.0M449.3 568.5h1.0M458.1 553.9h1.0M467.2 554.5h1.0M453.1 558.4h1.0M477.9 543.4h1.0M457.9 562.7h1.0M459.0 542.6h1.0M476.4 541.0h1.0M451.0 566.2h1.0M457.6 559.7h1.0M468.9 549.5h1.0M464.6 549.1h1.0M460.3 546.9h1.0M447.4 563.1h1.0M457.0 558.3h1.0M450.8 559.8h1.0M453.2 555.0h1.0M459.2 554.3h1.0M464.9 560.8h1.0M460.2 552.5h1.0M451.3 556.0h1.0M449.2 558.3h1.0M449.0 564.9h1.0M442.9 563.0h1.0M469.3 550.6h1.0M468.8 544.9h1.0M480.4 543.6h1.0M449.0 562.5h1.0M482.4 538.4h1.0M463.7 551.6h1.0M454.2 561.8h1.0M446.4 565.1h1.0M452.0 559.9h1.0M462.7 553.5h1.0M447.2 571.1h1.0M438.4 582.2h1.0M459.9 563.9h1.0M475.8 540.4h1.0M443.0 561.4h1.0M456.8 561.0h1.0M460.3 554.5h1.0M430.5 556.2h1.0M454.0 559.6h1.0M469.6 556.4h1.0M456.1 559.5h1.0M469.7 538.7h1.0M456.1 564.7h1.0M456.2 560.7h1.0M483.9 535.3h1.0M452.0 566.4h1.0M457.5 555.6h1.0M450.3 568.6h1.0M460.7 545.8h1.0M446.4 563.9h1.0M467.0 539.3h1.0M448.7 561.2h1.0M451.1 569.3h1.0M453.5 564.0h1.0M446.4 570.7h1.0M464.7 552.1h1.0M463.0 551.5h1.0M449.5 565.9h1.0M476.5 552.9h1.0M450.1 564.8h1.0M462.0 560.2h1.0M450.3 566.9h1.0M475.7 549.0h1.0M467.9 550.6h1.0M465.9 548.4h1.0M455.2 558.3h1.0M451.0 559.5h1.0M447.0 569.9h1.0M459.5 552.4h1.0M459.5 559.5h1.0M454.7 561.2h1.0M482.7 553.4h1.0M452.2 565.9h1.0M454.2 569.7h1.0M456.0 553.9h1.0M465.0 546.6h1.0M441.1 566.6h1.0M452.4 564.5h1.0M446.1 571.1h1.0M444.6 563.9h1.0M506.3 516.0h1.0M456.1 556.7h1.0M471.0 545.8h1.0M491.9 526.4h1.0M469.6 546.9h1.0M465.5 552.5h1.0M472.7 534.8h1.0M460.5 551.8h1.0M445.6 572.5h1.0M456.2 558.1h1.0M472.4 548.6h1.0M445.6 565.4h1.0M450.0 564.1h1.0M440.9 568.8h1.0M463.9 548.8h1.0M467.8 560.8h1.0M458.0 555.6h1.0M494.7 516.0h1.0M439.2 569.3h1.0M469.9 554.7h1.0M439.0 563.5h1.0M457.7 562.2h1.0M446.5 557.6h1.0M440.1 577.3h1.0M440.1 550.8h1.0M493.3 530.0h1.0M473.9 546.6h1.0M469.9 541.8h1.0M466.0 540.7h1.0M450.1 562.8h1.0M453.6 563.0h1.0M459.8 563.8h1.0M451.0 554.1h1.0M479.8 531.7h1.0M464.2 555.3h1.0M486.9 532.4h1.0M458.8 560.1h1.0M479.2 541.2h1.0M467.2 524.3h1.0M459.8 560.1h1.0M466.5 567.9h1.0M456.9 556.9h1.0M458.3 561.9h1.0M450.7 562.8h1.0M449.3 563.3h1.0M465.4 552.3h1.0M451.2 564.7h1.0M447.8 564.0h1.0M461.1 558.0h1.0M435.7 566.1h1.0M469.5 545.9h1.0M464.4 556.5h1.0M461.7 553.4h1.0M452.4 569.3h1.0M494.6 519.6h1.0M460.6 553.7h1.0M449.3 560.9h1.0M448.2 565.6h1.0M453.4 562.1h1.0M447.4 565.5h1.0M446.2 571.5h1.0M459.3 552.1h1.0M454.3 561.0h1.0M483.2 537.1h1.0M475.2 532.3h1.0M468.4 556.1h1.0M464.1 554.6h1.0M447.9 562.7h1.0M496.6 523.1h1.0M440.9 563.8h1.0M463.8 562.5h1.0M444.3 558.7h1.0M466.0 550.5h1.0M444.1 565.0h1.0M476.2 541.8h1.0M458.4 557.8h1.0M460.5 549.1h1.0M469.9 553.0h1.0M451.2 567.8h1.0M448.8 568.5h1.0M484.9 540.0h1.0M459.1 550.3h1.0M446.6 561.8h1.0M451.7 558.5h1.0M461.9 566.9h1.0M452.5 564.7h1.0M447.4 562.7h1.0M499.6 524.3h1.0M452.4 557.7h1.0M456.5 562.6h1.0M478.8 544.7h1.0M475.8 551.3h1.0M454.2 564.7h1.0M461.0 559.5h1.0M464.7 549.0h1.0M466.5 553.1h1.0M450.3 567.4h1.0M474.4 534.9h1.0M453.3 559.1h1.0M467.0 553.8h1.0M439.8 569.4h1.0M443.4 568.8h1.0M449.3 568.0h1.0M459.1 548.8h1.0M452.1 562.6h1.0M452.8 562.5h1.0M456.1 558.3h1.0M455.4 557.1h1.0M446.9 568.6h1.0M475.8 547.7h1.0M443.0 568.4h1.0M457.5 559.4h1.0M468.5 552.8h1.0M454.8 560.5h1.0M456.0 565.3h1.0M461.0 557.7h1.0M458.4 552.6h1.0M483.5 547.8h1.0M456.7 560.1h1.0M467.0 552.4h1.0M462.6 547.9h1.0M443.1 566.0h1.0M441.5 563.1h1.0M453.2 553.9h1.0M454.1 561.2h1.0M450.4 577.8h1.0M451.5 557.2h1.0M480.4 546.0h1.0M460.3 551.0h1.0M431.5 582.0h1.0M448.0 565.7h1.0M442.3 572.9h1.0" stroke="#2b3b78" stroke-width="1.0" fill="none" opacity="0.8"/>
<path d="M458.9 561.3h1.0M469.0 553.0h1.0M475.1 556.9h1.0M474.1 554.8h1.0M456.9 557.3h1.0M463.9 552.3h1.0M446.6 575.5h1.0M466.2 558.7h1.0M456.5 568.4h1.0M450.9 567.2h1.0M455.1 563.8h1.0M471.8 546.9h1.0M469.3 550.0h1.0M456.2 559.6h1.0M468.2 542.9h1.0M458.4 562.6h1.0M461.1 566.3h1.0M457.4 555.7h1.0M467.8 555.2h1.0M460.5 555.9h1.0M459.3 561.4h1.0M460.3 563.3h1.0M478.0 550.3h1.0M464.2 560.7h1.0M453.3 560.6h1.0M460.4 556.9h1.0M463.8 552.9h1.0M466.1 560.8h1.0M504.3 527.3h1.0M470.9 556.4h1.0M471.4 548.3h1.0M460.5 554.1h1.0M462.2 568.8h1.0M474.3 547.1h1.0M469.3 550.8h1.0M456.3 566.6h1.0M459.9 554.9h1.0M486.0 547.7h1.0M458.4 563.6h1.0M470.4 545.0h1.0M467.2 556.6h1.0M480.4 545.8h1.0M450.7 571.0h1.0M453.4 558.9h1.0M469.5 556.7h1.0M471.8 558.9h1.0M481.8 558.9h1.0M453.8 559.8h1.0M461.8 561.2h1.0M457.5 568.0h1.0M458.9 563.4h1.0M453.6 562.8h1.0M481.3 540.3h1.0M487.2 543.2h1.0M466.5 566.1h1.0M455.7 552.0h1.0M457.9 573.8h1.0M444.0 574.1h1.0M461.1 559.5h1.0M469.4 557.7h1.0M452.1 563.4h1.0M489.1 536.4h1.0M452.8 571.4h1.0M464.2 551.8h1.0M458.4 558.8h1.0M478.8 535.8h1.0M462.7 561.4h1.0M472.8 547.1h1.0M460.0 564.4h1.0M464.8 560.0h1.0M455.3 564.1h1.0M457.9 564.1h1.0M478.4 544.0h1.0M453.0 567.4h1.0M465.1 557.3h1.0M473.0 547.4h1.0M461.5 561.4h1.0M459.6 557.0h1.0M483.9 536.5h1.0M455.9 566.2h1.0M472.2 550.2h1.0M463.1 553.2h1.0M457.6 557.4h1.0M459.6 562.5h1.0M453.5 562.3h1.0M470.3 548.4h1.0M455.5 558.1h1.0M450.8 562.2h1.0M465.1 559.4h1.0M488.0 546.7h1.0M447.7 572.7h1.0M460.4 563.9h1.0M473.9 550.1h1.0M463.0 565.9h1.0M469.2 552.2h1.0M457.3 550.2h1.0M465.3 555.4h1.0M469.0 546.7h1.0M455.8 565.8h1.0M473.3 548.5h1.0M456.2 558.8h1.0M495.0 533.7h1.0M448.4 570.0h1.0M455.3 557.9h1.0M449.9 571.3h1.0M467.1 542.4h1.0M459.8 566.0h1.0M455.2 560.7h1.0M468.7 553.7h1.0M460.0 556.9h1.0M450.7 570.3h1.0M463.5 551.8h1.0M463.8 556.1h1.0M475.5 549.1h1.0M466.6 551.3h1.0M454.1 565.9h1.0M463.9 559.4h1.0M443.5 582.4h1.0M461.0 556.8h1.0M467.1 556.9h1.0M474.2 554.0h1.0M463.9 554.8h1.0M458.9 563.7h1.0M458.4 553.3h1.0M474.8 544.0h1.0M480.5 540.1h1.0M451.1 560.7h1.0M478.0 552.0h1.0M458.4 548.8h1.0M448.6 565.8h1.0M464.7 549.1h1.0M471.0 548.1h1.0M452.5 566.6h1.0M486.5 540.9h1.0M488.5 541.9h1.0M465.8 559.2h1.0M488.0 538.7h1.0M485.5 543.7h1.0M460.8 556.9h1.0M468.1 554.6h1.0M464.4 564.0h1.0M467.7 550.9h1.0M454.6 571.6h1.0M455.1 577.1h1.0M458.9 559.5h1.0M458.2 556.7h1.0M474.9 555.8h1.0M448.3 560.9h1.0M468.7 542.3h1.0M468.8 559.7h1.0M457.7 570.8h1.0M451.0 561.6h1.0M454.0 560.4h1.0M447.3 558.8h1.0M461.2 556.0h1.0M468.0 547.8h1.0M479.5 538.7h1.0M486.4 537.1h1.0M440.4 572.4h1.0M455.3 561.8h1.0M502.5 517.5h1.0M460.6 558.6h1.0M459.0 560.7h1.0M462.7 562.4h1.0M460.5 559.4h1.0M469.9 559.7h1.0M447.3 579.2h1.0M469.9 554.2h1.0M500.0 530.0h1.0M479.4 546.6h1.0M466.5 559.0h1.0M471.7 558.5h1.0M477.8 555.9h1.0M475.6 544.5h1.0M478.3 546.2h1.0M459.5 562.2h1.0M497.9 522.8h1.0M461.8 557.9h1.0M458.9 566.9h1.0M460.2 552.6h1.0M500.4 519.1h1.0M471.0 550.8h1.0M468.8 554.1h1.0M461.8 552.7h1.0M500.2 529.8h1.0M458.2 563.5h1.0M463.1 559.1h1.0M472.2 550.4h1.0M508.1 519.7h1.0M458.1 568.3h1.0M445.2 566.9h1.0M460.1 561.3h1.0M451.8 563.5h1.0M501.1 522.0h1.0M448.3 573.5h1.0M466.5 557.6h1.0M458.3 567.6h1.0M460.8 563.1h1.0M477.4 537.9h1.0M448.2 564.0h1.0M454.4 565.1h1.0M500.8 527.8h1.0M456.5 566.9h1.0M484.5 545.4h1.0M454.7 560.3h1.0M465.5 557.4h1.0M491.1 534.9h1.0M457.6 563.7h1.0M439.4 572.4h1.0M464.4 554.1h1.0M444.1 554.2h1.0M480.4 548.1h1.0M468.0 556.5h1.0M465.0 554.8h1.0M489.4 545.8h1.0M481.6 535.8h1.0M462.3 563.0h1.0M445.6 565.9h1.0M460.2 564.3h1.0M481.0 544.4h1.0M461.9 557.7h1.0M453.1 553.8h1.0M461.7 556.6h1.0M460.3 560.5h1.0M455.4 562.2h1.0M464.1 557.7h1.0M470.1 546.9h1.0M498.6 528.6h1.0M463.8 565.8h1.0M457.4 553.1h1.0M464.5 539.7h1.0" stroke="#ab1849" stroke-width="1.0" fill="none" opacity="0.8"/>
<path d="M447.4 567.7h1.0M441.6 568.4h1.0M454.2 556.0h1.0M448.2 571.4h1.0M467.1 555.2h1.0M450.7 561.2h1.0M466.2 556.4h1.0M442.3 568.9h1.0M462.4 553.9h1.0M447.7 579.0h1.0M453.2 558.1h1.0M455.4 566.1h1.0M450.7 564.3h1.0M457.0 556.6h1.0M464.5 543.6h1.0M448.2 564.2h1.0M479.4 549.3h1.0M440.4 580.9h1.0M457.9 554.2h1.0M452.1 559.2h1.0M456.3 556.9h1.0M465.6 545.1h1.0M456.5 554.9h1.0M465.8 532.4h1.0M447.1 555.6h1.0M458.1 564.7h1.0M468.8 548.8h1.0M446.2 562.8h1.0M449.7 567.7h1.0M462.7 557.5h1.0M452.4 564.2h1.0M459.3 549.4h1.0M457.4 552.3h1.0M446.7 570.3h1.0M444.8 561.8h1.0M455.8 563.0h1.0M457.3 556.2h1.0M466.8 561.7h1.0M439.8 564.3h1.0M456.9 560.9h1.0M450.1 565.7h1.0M442.3 559.4h1.0M458.0 545.7h1.0M464.6 548.6h1.0M462.7 553.4h1.0M455.1 559.9h1.0M435.7 570.2h1.0M443.3 568.6h1.0M442.5 575.0h1.0M450.9 558.2h1.0M479.0 545.3h1.0M455.7 562.0h1.0M444.2 563.9h1.0M464.3 563.4h1.0M461.9 553.1h1.0M463.5 557.8h1.0M462.0 554.9h1.0M444.0 560.0h1.0M474.9 552.9h1.0M473.7 551.5h1.0M448.4 574.3h1.0M474.8 550.9h1.0M433.3 583.9h1.0M448.7 573.2h1.0M464.2 554.3h1.0M445.0 572.7h1.0M455.1 557.4h1.0M442.1 570.9h1.0M482.6 547.0h1.0M431.6 560.1h1.0M471.1 551.4h1.0M470.7 538.9h1.0M450.7 560.0h1.0M433.6 572.5h1.0M469.7 542.7h1.0M440.7 566.1h1.0M473.0 534.7h1.0M469.5 560.2h1.0M460.3 556.2h1.0M469.0 550.2h1.0M476.2 536.9h1.0M461.6 553.3h1.0M451.9 560.6h1.0M453.0 568.5h1.0M453.9 555.8h1.0M455.5 553.1h1.0M448.8 561.9h1.0M466.4 557.0h1.0M447.7 563.5h1.0M464.0 551.9h1.0M450.6 565.1h1.0M453.6 560.8h1.0M450.8 561.0h1.0M477.5 541.4h1.0M439.3 575.7h1.0M471.0 555.9h1.0M458.2 563.5h1.0M443.2 556.4h1.0M468.9 550.6h1.0M451.9 573.7h1.0M470.5 561.2h1.0M436.6 579.0h1.0M459.8 559.6h1.0M458.7 555.0h1.0M466.2 552.4h1.0M443.1 572.2h1.0M441.7 564.0h1.0M451.0 560.4h1.0M445.9 566.8h1.0M495.3 533.7h1.0M463.8 561.9h1.0M445.7 561.3h1.0M467.8 556.1h1.0M464.8 558.5h1.0M449.2 560.6h1.0M461.8 545.3h1.0M452.2 540.6h1.0M458.9 555.8h1.0M449.9 563.1h1.0M454.5 558.7h1.0M445.7 567.9h1.0M470.6 542.8h1.0M441.8 565.3h1.0M490.1 535.9h1.0M469.2 555.4h1.0M453.3 563.8h1.0M445.0 573.2h1.0M454.7 547.6h1.0M467.3 544.2h1.0M465.4 553.1h1.0M463.3 560.6h1.0M449.0 571.4h1.0M465.9 555.6h1.0M449.9 552.8h1.0M453.5 567.1h1.0M452.5 558.4h1.0M447.8 562.0h1.0M446.3 559.0h1.0M458.1 568.4h1.0M451.7 562.1h1.0M446.6 565.3h1.0M449.6 564.6h1.0M481.8 539.6h1.0M449.2 556.1h1.0M459.0 565.7h1.0M458.6 556.2h1.0M441.1 563.4h1.0M441.8 573.0h1.0M444.8 562.7h1.0M451.4 563.3h1.0M457.3 559.8h1.0M454.2 568.0h1.0M455.0 555.5h1.0M483.2 532.7h1.0M440.0 568.7h1.0M463.3 547.4h1.0M447.5 567.0h1.0M463.8 558.7h1.0M461.2 562.3h1.0M468.2 561.4h1.0M447.6 573.1h1.0M470.2 546.3h1.0M486.6 530.6h1.0M449.7 560.5h1.0M451.0 561.6h1.0M463.7 553.5h1.0M444.9 571.7h1.0M454.9 566.8h1.0M437.5 583.6h1.0M466.2 556.3h1.0M448.4 566.5h1.0M462.5 545.4h1.0M451.0 556.2h1.0M434.8 578.2h1.0M444.8 569.6h1.0M450.3 564.3h1.0M452.3 566.8h1.0M442.9 561.7h1.0M464.2 551.4h1.0M453.5 560.0h1.0M460.7 545.5h1.0M453.8 563.9h1.0M460.5 557.1h1.0M466.3 548.7h1.0M461.0 552.8h1.0M439.4 562.4h1.0M504.9 524.6h1.0M443.2 562.2h1.0M445.9 564.2h1.0M468.6 549.4h1.0M443.5 558.0h1.0M461.8 545.7h1.0M441.0 567.1h1.0M459.8 559.5h1.0M452.1 559.6h1.0M451.7 564.7h1.0M436.1 565.0h1.0M443.2 568.4h1.0M462.8 552.2h1.0M439.4 566.5h1.0M458.7 551.4h1.0M437.1 578.4h1.0M445.8 568.7h1.0M467.8 547.8h1.0M443.5 555.7h1.0M453.1 569.4h1.0M440.9 566.6h1.0M452.2 560.2h1.0M448.0 574.0h1.0M470.7 551.8h1.0M467.3 553.8h1.0M464.0 552.8h1.0M456.3 553.5h1.0M446.6 568.0h1.0M445.9 565.1h1.0M445.1 562.3h1.0M483.4 527.5h1.0M447.8 561.5h1.0M465.3 556.5h1.0M443.0 569.7h1.0M446.6 564.3h1.0M463.7 556.4h1.0M457.7 561.4h1.0M464.9 555.8h1.0M469.0 546.2h1.0M441.8 576.8h1.0M472.7 546.1h1.0" stroke="#2b3b78" stroke-width="1.0" fill="none" opacity="0.8"/>
<path d="M463.3 557.5h1.0M458.7 554.7h1.0M470.5 555.5h1.0M473.6 548.4h1.0M453.2 566.0h1.0M466.5 557.2h1.0M458.7 557.4h1.0M476.1 553.7h1.0M466.8 556.0h1.0M456.3 563.0h1.0M475.7 545.5h1.0M458.2 570.9h1.0M465.5 549.2h1.0M456.9 560.1h1.0M459.2 551.3h1.0M467.9 553.4h1.0M474.6 542.7h1.0M466.3 552.6h1.0M461.0 556.0h1.0M493.4 527.1h1.0M446.7 570.6h1.0M453.1 574.4h1.0M475.0 536.1h1.0M506.8 532.0h1.0M484.2 544.3h1.0M481.8 533.0h1.0M449.6 566.6h1.0M450.2 570.2h1.0M444.4 562.7h1.0M468.6 554.5h1.0M469.6 552.5h1.0M466.2 558.6h1.0M466.5 549.1h1.0M456.6 568.1h1.0M471.7 547.8h1.0M455.9 569.3h1.0M457.9 557.9h1.0M467.3 560.0h1.0M460.1 553.6h1.0M446.9 563.7h1.0M477.8 550.6h1.0M466.6 553.0h1.0M453.9 559.1h1.0M462.4 563.1h1.0M458.9 559.7h1.0M475.1 548.5h1.0M465.2 554.0h1.0M454.3 567.4h1.0M473.1 549.9h1.0M491.4 538.9h1.0M468.3 548.8h1.0M433.8 574.7h1.0M492.3 527.1h1.0M469.0 555.4h1.0M454.6 560.7h1.0M452.4 561.4h1.0M471.5 548.9h1.0M461.6 565.6h1.0M480.0 542.5h1.0M453.8 557.0h1.0M452.5 567.2h1.0M472.6 556.1h1.0M465.4 561.6h1.0M455.7 567.7h1.0M464.8 560.7h1.0M501.3 520.5h1.0M455.7 565.0h1.0M475.3 552.3h1.0M467.8 541.5h1.0M447.8 565.6h1.0M466.7 549.2h1.0M481.1 545.6h1.0M462.0 564.2h1.0M460.2 566.6h1.0M463.6 571.7h1.0M466.4 558.8h1.0M477.4 535.2h1.0M456.4 561.7h1.0M456.0 573.8h1.0M461.0 559.6h1.0M445.2 572.8h1.0M470.0 548.0h1.0M463.2 572.8h1.0M458.4 561.5h1.0M464.2 562.0h1.0M442.8 555.6h1.0M476.9 543.2h1.0M448.0 568.3h1.0M469.9 550.2h1.0M458.7 558.9h1.0M455.9 564.2h1.0M502.7 511.0h1.0M469.1 567.5h1.0M464.2 554.7h1.0M472.5 564.7h1.0M453.5 567.0h1.0M453.9 557.5h1.0M458.3 553.2h1.0M473.6 552.1h1.0M459.4 557.7h1.0M455.3 562.8h1.0M453.9 566.5h1.0M460.7 565.1h1.0M454.2 566.4h1.0M451.8 560.7h1.0M458.9 558.3h1.0M467.5 558.1h1.0M471.2 549.9h1.0M472.7 548.1h1.0M486.2 545.8h1.0M473.5 540.7h1.0M458.4 560.3h1.0M469.1 558.2h1.0M441.7 563.3h1.0M473.6 553.6h1.0M471.4 554.1h1.0M450.9 564.6h1.0M460.8 553.7h1.0M491.6 526.9h1.0M453.0 567.3h1.0M456.9 568.2h1.0M455.6 558.7h1.0M430.5 574.5h1.0M470.3 558.7h1.0M455.6 561.9h1.0M477.5 541.6h1.0M457.3 563.3h1.0M464.4 562.5h1.0M449.2 569.2h1.0M458.8 576.3h1.0M470.7 552.7h1.0M444.7 579.8h1.0M450.9 569.9h1.0M471.4 551.4h1.0M461.0 565.3h1.0M453.5 551.5h1.0M455.1 565.2h1.0M466.2 544.1h1.0M445.4 567.7h1.0M475.1 552.3h1.0M468.8 551.9h1.0M501.2 527.1h1.0M449.3 570.1h1.0M479.2 542.6h1.0M457.3 561.4h1.0M468.6 549.7h1.0M463.1 559.5h1.0M470.0 550.7h1.0M464.2 557.6h1.0M478.2 551.3h1.0M466.6 560.9h1.0M466.1 557.8h1.0M458.4 557.8h1.0M458.5 550.4h1.0M466.5 552.0h1.0M456.3 562.7h1.0M464.7 565.7h1.0M486.2 554.1h1.0M489.1 534.6h1.0M482.6 542.5h1.0M465.2 551.2h1.0M451.2 568.3h1.0M479.4 551.8h1.0M462.3 547.5h1.0M459.7 569.2h1.0M463.1 557.4h1.0M448.8 565.3h1.0M475.4 549.3h1.0M459.0 559.6h1.0M460.2 560.4h1.0M460.3 560.6h1.0M458.1 557.4h1.0M467.9 563.6h1.0M450.5 564.2h1.0M456.5 559.0h1.0M479.4 539.9h1.0M455.2 556.8h1.0M481.7 546.5h1.0M459.5 562.0h1.0M458.9 561.9h1.0M482.7 540.6h1.0M464.6 539.2h1.0M449.2 570.6h1.0M459.5 566.8h1.0M479.5 550.7h1.0M456.1 570.0h1.0M457.0 564.9h1.0M441.9 570.7h1.0M463.4 549.8h1.0M458.4 563.4h1.0M482.5 542.3h1.0M458.8 557.7h1.0M463.5 556.8h1.0M484.9 539.2h1.0M467.6 548.3h1.0M450.5 569.6h1.0M475.3 547.0h1.0M468.1 552.3h1.0M446.0 573.5h1.0M457.2 553.3h1.0M449.2 566.6h1.0M476.1 555.0h1.0M469.7 555.4h1.0M457.4 562.0h1.0M459.0 562.1h1.0M447.1 564.6h1.0M452.5 565.2h1.0M470.3 544.9h1.0M473.9 554.9h1.0M466.5 549.8h1.0M463.0 562.4h1.0M467.8 552.5h1.0M463.8 555.2h1.0M460.5 562.4h1.0M477.5 547.6h1.0M460.3 558.9h1.0M479.3 546.3h1.0M484.3 546.5h1.0M471.5 554.8h1.0M457.8 558.0h1.0M464.1 562.3h1.0M460.1 557.2h1.0M458.8 571.0h1.0M483.0 537.5h1.0M481.0 543.9h1.0M450.5 564.8h1.0M484.6 543.3h1.0M460.7 558.2h1.0M458.5 562.0h1.0M472.2 552.0h1.0M457.4 566.2h1.0" stroke="#ab1849" stroke-width="1.0" fill="none" opacity="0.8"/>
<path d="M454.3 562.0h1.0M456.2 540.0h1.0M463.5 559.4h1.0M468.9 543.1h1.0M448.0 559.7h1.0M462.4 547.1h1.0M458.0 559.5h1.0M450.5 566.2h1.0M453.9 556.8h1.0M449.6 566.2h1.0M451.7 554.7h1.0M445.5 568.4h1.0M434.2 567.4h1.0M448.4 565.5h1.0M459.6 555.1h1.0M453.2 560.4h1.0M476.2 528.6h1.0M445.4 557.0h1.0M437.0 571.4h1.0M443.6 566.7h1.0M467.8 541.7h1.0M460.2 563.1h1.0M435.4 573.8h1.0M445.9 565.5h1.0M470.6 550.5h1.0M458.9 561.5h1.0M431.1 569.1h1.0M453.4 558.4h1.0M470.0 541.9h1.0M478.3 533.5h1.0M460.5 547.3h1.0M461.3 545.4h1.0M449.9 563.9h1.0M456.4 559.5h1.0M463.6 559.8h1.0M479.2 537.8h1.0M450.0 574.1h1.0M444.2 563.9h1.0M460.4 555.1h1.0M437.5 564.6h1.0M453.8 562.9h1.0M450.7 563.1h1.0M456.2 553.6h1.0M456.2 554.3h1.0M451.7 552.3h1.0M477.1 532.3h1.0M454.7 562.1h1.0M460.8 554.3h1.0M456.0 556.2h1.0M460.8 556.3h1.0M445.9 570.6h1.0M452.1 561.5h1.0M456.1 566.1h1.0M453.2 562.2h1.0M447.3 569.5h1.0M457.9 556.5h1.0M448.6 561.3h1.0M454.6 563.5h1.0M436.1 566.6h1.0M462.6 555.7h1.0M454.7 564.1h1.0M438.9 558.3h1.0M454.5 556.9h1.0M433.1 571.6h1.0M485.0 535.8h1.0M443.6 564.9h1.0M445.5 559.2h1.0M454.2 568.0h1.0M453.2 557.0h1.0M472.4 553.9h1.0M430.7 570.6h1.0M473.6 542.5h1.0M453.3 548.3h1.0M452.3 560.3h1.0M458.3 564.2h1.0M466.1 547.4h1.0M446.4 571.9h1.0M458.1 559.2h1.0M444.3 569.3h1.0M455.7 555.8h1.0M458.1 557.5h1.0M458.8 554.4h1.0M457.9 552.4h1.0M448.2 556.0h1.0M462.5 559.0h1.0M458.4 556.0h1.0M459.0 560.4h1.0M463.4 560.1h1.0M460.3 555.9h1.0M451.0 562.0h1.0M441.5 568.1h1.0M466.2 555.9h1.0M458.5 564.5h1.0M461.7 555.3h1.0M442.4 574.5h1.0M457.8 571.6h1.0M469.4 544.7h1.0M436.8 568.2h1.0M483.4 539.9h1.0M457.8 551.3h1.0M455.2 557.3h1.0M462.9 559.1h1.0M446.4 564.1h1.0M449.3 563.5h1.0M481.8 538.1h1.0M456.4 554.8h1.0M453.8 560.8h1.0M446.1 562.7h1.0M457.4 554.7h1.0M459.4 556.7h1.0M462.9 549.2h1.0M471.1 548.5h1.0M445.7 554.3h1.0M453.7 554.9h1.0M476.7 530.2h1.0M448.3 563.0h1.0M462.1 560.4h1.0M449.5 552.1h1.0M462.8 553.7h1.0M445.1 558.2h1.0M456.6 559.3h1.0M453.9 554.8h1.0M464.1 544.1h1.0M447.8 569.8h1.0M456.2 558.9h1.0M469.3 543.0h1.0M465.0 547.9h1.0M439.6 559.8h1.0M448.0 572.3h1.0M447.2 560.1h1.0M442.5 567.5h1.0M443.0 568.4h1.0M450.2 551.5h1.0M471.2 556.0h1.0M460.6 563.9h1.0M455.2 561.9h1.0M454.8 559.3h1.0M449.8 559.1h1.0M455.9 549.9h1.0M454.5 563.3h1.0M455.7 558.7h1.0M443.0 568.3h1.0M447.2 560.2h1.0M443.1 564.3h1.0M458.0 557.6h1.0M482.2 535.0h1.0M444.1 559.8h1.0M440.3 566.5h1.0M443.8 554.4h1.0M442.9 554.8h1.0M483.4 531.7h1.0M464.0 525.7h1.0M450.1 558.1h1.0M454.5 573.4h1.0M455.4 558.2h1.0M446.0 570.0h1.0M468.1 553.6h1.0M451.6 558.3h1.0M448.2 564.0h1.0M454.7 563.5h1.0M442.1 566.3h1.0M471.7 542.5h1.0M454.7 556.6h1.0M458.4 553.3h1.0M471.5 550.4h1.0M458.6 562.0h1.0M442.0 568.2h1.0M460.9 554.8h1.0M485.0 516.1h1.0M459.8 558.0h1.0M473.0 557.8h1.0M441.0 574.0h1.0M452.4 564.4h1.0M456.8 553.8h1.0M467.1 548.3h1.0M457.0 549.6h1.0M453.5 557.1h1.0M452.0 569.6h1.0M461.9 555.0h1.0M455.0 567.6h1.0M446.6 569.6h1.0M453.0 559.2h1.0M479.0 539.0h1.0M449.6 570.1h1.0M454.7 560.7h1.0M466.0 545.7h1.0M457.0 564.1h1.0M453.1 566.9h1.0M449.5 565.5h1.0M463.9 556.8h1.0M460.1 564.2h1.0M441.0 553.1h1.0M471.5 544.1h1.0M470.4 548.7h1.0M453.8 565.8h1.0M471.2 549.5h1.0M454.1 570.4h1.0M466.1 542.7h1.0M461.6 553.7h1.0M450.5 565.2h1.0M463.0 562.2h1.0M440.6 574.8h1.0M506.9 523.3h1.0M457.4 556.2h1.0M449.3 565.3h1.0M464.0 546.9h1.0M471.8 547.5h1.0M456.1 560.1h1.0M452.9 555.9h1.0M442.4 571.7h1.0M459.3 562.1h1.0M444.6 561.9h1.0M463.2 557.9h1.0M468.0 547.6h1.0M455.3 563.2h1.0M452.9 558.9h1.0M468.3 550.9h1.0M453.0 559.9h1.0M451.8 563.3h1.0M465.4 562.4h1.0M466.9 560.6h1.0M473.4 541.3h1.0M466.6 545.8h1.0M464.8 563.0h1.0M456.8 559.5h1.0M465.0 559.0h1.0M456.3 556.8h1.0" stroke="#2b3b78" stroke-width="1.0" fill="none" opacity="0.8"/>
<path d="M461.2 559.4h1.0M462.9 566.3h1.0M470.4 560.1h1.0M453.6 564.6h1.0M475.2 558.8h1.0M486.7 531.1h1.0M453.0 563.1h1.0M460.8 563.4h1.0M460.9 557.8h1.0M447.8 568.5h1.0M477.9 542.5h1.0M476.2 547.2h1.0M448.2 568.6h1.0M470.3 551.8h1.0M493.7 527.5h1.0M454.4 569.3h1.0M452.8 559.3h1.0M484.3 540.6h1.0M476.8 555.4h1.0M506.1 515.3h1.0M454.9 572.8h1.0M456.8 558.2h1.0M469.3 555.9h1.0M463.7 559.3h1.0M465.4 571.6h1.0M465.7 559.1h1.0M465.5 551.9h1.0M494.3 535.6h1.0M488.2 544.8h1.0M437.5 573.9h1.0M461.7 557.4h1.0M454.2 558.5h1.0M469.2 545.1h1.0M481.9 552.4h1.0M444.3 580.3h1.0M474.6 559.3h1.0M456.0 559.7h1.0M485.9 535.3h1.0M470.2 557.3h1.0M476.7 535.7h1.0M460.2 560.5h1.0M468.4 555.6h1.0M499.5 516.6h1.0M467.6 551.6h1.0M464.4 554.2h1.0M474.8 549.2h1.0M450.6 559.9h1.0M466.8 564.0h1.0M474.8 547.6h1.0M463.1 563.2h1.0M471.4 549.7h1.0M469.3 554.9h1.0M448.9 566.0h1.0M455.1 564.7h1.0M451.9 568.3h1.0M494.8 526.9h1.0M457.0 564.4h1.0M470.3 556.5h1.0M460.0 559.5h1.0M468.1 555.5h1.0M484.7 533.9h1.0M483.0 546.5h1.0M479.9 549.5h1.0M464.7 559.7h1.0M500.8 533.0h1.0M478.8 558.5h1.0M487.6 541.2h1.0M460.1 550.6h1.0M458.1 563.0h1.0M469.1 548.0h1.0M452.3 569.4h1.0M486.9 539.9h1.0M470.7 553.3h1.0M466.8 549.0h1.0M458.6 566.5h1.0M466.4 552.9h1.0M498.6 533.3h1.0M479.9 547.4h1.0M465.6 563.6h1.0M458.4 557.6h1.0M460.7 552.8h1.0M477.5 541.1h1.0M460.0 564.9h1.0M471.9 551.6h1.0M480.6 546.4h1.0M489.4 534.6h1.0M455.8 552.3h1.0M464.9 559.8h1.0M465.2 555.7h1.0M466.0 569.1h1.0M444.2 576.5h1.0M452.5 564.9h1.0M458.6 541.3h1.0M473.2 546.6h1.0M456.6 557.4h1.0M465.1 551.7h1.0M468.8 561.7h1.0M472.5 548.4h1.0M467.0 565.5h1.0M475.1 548.4h1.0M444.0 567.3h1.0M453.4 562.6h1.0M476.8 551.9h1.0M491.2 530.9h1.0M479.5 540.1h1.0M457.1 561.2h1.0M479.6 543.1h1.0M487.7 540.8h1.0M469.3 548.1h1.0M456.7 566.6h1.0M474.4 547.2h1.0M473.7 555.2h1.0M457.3 559.2h1.0M491.9 531.6h1.0M456.4 566.4h1.0M464.0 554.5h1.0M449.7 558.5h1.0M467.0 563.2h1.0M492.1 541.7h1.0M464.1 557.0h1.0M467.8 552.4h1.0M448.3 562.5h1.0M463.9 547.7h1.0M486.8 547.6h1.0M455.8 565.5h1.0M448.9 568.3h1.0M455.8 562.7h1.0M465.8 556.7h1.0M496.0 535.8h1.0M461.8 563.4h1.0M446.0 573.6h1.0M468.0 560.8h1.0M454.9 571.3h1.0M464.7 556.4h1.0M471.6 562.2h1.0M475.6 540.3h1.0M505.4 527.2h1.0M454.7 561.8h1.0M496.8 532.3h1.0M461.2 562.9h1.0M464.8 556.1h1.0M460.3 553.4h1.0M439.1 566.0h1.0M458.6 559.9h1.0M460.6 551.0h1.0M463.2 556.4h1.0M458.0 560.7h1.0M473.8 551.4h1.0M460.1 561.0h1.0M458.2 543.2h1.0M462.4 547.3h1.0M458.6 551.2h1.0M461.4 563.5h1.0M474.7 532.5h1.0M453.5 569.8h1.0M455.5 557.4h1.0M465.4 558.4h1.0M479.0 543.5h1.0M470.1 553.6h1.0M472.7 552.5h1.0M474.2 554.8h1.0M472.6 553.5h1.0M466.7 550.5h1.0M473.3 553.8h1.0M462.2 562.4h1.0M486.5 544.4h1.0M469.9 551.6h1.0M455.4 571.9h1.0M463.7 555.8h1.0M463.6 553.6h1.0M461.3 560.7h1.0M468.1 546.8h1.0M455.8 561.3h1.0M481.4 547.1h1.0M476.3 546.0h1.0M460.8 560.3h1.0M462.8 565.4h1.0M458.2 562.2h1.0M461.0 563.1h1.0M467.7 561.2h1.0M475.6 559.1h1.0M460.4 567.6h1.0M454.5 563.3h1.0M462.8 560.6h1.0M484.2 546.1h1.0M463.7 557.9h1.0M457.1 563.3h1.0M475.8 542.5h1.0M459.7 548.6h1.0M464.9 559.7h1.0M455.9 563.8h1.0M446.2 566.8h1.0M453.6 576.3h1.0M495.5 529.4h1.0M447.3 565.1h1.0M445.3 572.0h1.0M467.7 549.1h1.0M450.5 563.5h1.0M455.7 556.1h1.0M459.6 564.3h1.0M461.8 557.3h1.0M483.5 533.7h1.0M463.8 556.7h1.0M471.2 549.9h1.0M472.5 557.7h1.0M465.3 554.6h1.0M466.9 562.1h1.0M450.5 561.4h1.0M458.6 566.2h1.0M453.7 568.2h1.0M456.0 569.6h1.0M464.9 556.4h1.0M470.3 554.0h1.0M470.0 556.4h1.0M478.9 546.7h1.0M472.3 540.9h1.0M469.2 539.6h1.0M468.3 554.4h1.0M464.5 552.1h1.0M452.6 573.1h1.0M452.9 565.8h1.0M477.4 549.5h1.0M463.1 548.4h1.0M470.0 560.4h1.0M482.7 548.6h1.0M476.8 541.6h1.0M469.5 553.6h1.0M464.5 560.0h1.0M446.5 566.6h1.0M462.1 559.3h1.0M471.8 545.6h1.0" stroke="#ab1849" stroke-width="1.0" fill="none" opacity="0.8"/>
<path d="M459.6 557.9h1.0M441.1 563.6h1.0M456.0 564.9h1.0M454.3 562.0h1.0M457.8 550.9h1.0M455.0 556.2h1.0M460.6 555.6h1.0M470.4 552.9h1.0M450.4 565.1h1.0M453.6 564.5h1.0M447.0 570.0h1.0M450.6 561.6h1.0M450.5 569.6h1.0M444.2 572.4h1.0M460.9 559.6h1.0M456.5 566.0h1.0M453.0 557.4h1.0M449.3 567.9h1.0M464.4 559.4h1.0M444.9 568.2h1.0M449.1 567.6h1.0M460.7 561.8h1.0M458.4 556.8h1.0M463.6 551.7h1.0M457.3 554.2h1.0M477.1 543.7h1.0M434.5 575.8h1.0M447.7 568.8h1.0M448.2 567.6h1.0M457.0 562.4h1.0M457.5 560.1h1.0M464.5 554.2h1.0M460.7 559.2h1.0M453.4 560.3h1.0M455.8 559.9h1.0M451.9 564.5h1.0M455.1 551.7h1.0M456.2 557.9h1.0M458.1 560.4h1.0M452.1 562.0h1.0M457.8 562.6h1.0M453.0 562.8h1.0M456.7 551.5h1.0M461.8 556.8h1.0M500.7 533.7h1.0M482.2 532.1h1.0M457.4 558.8h1.0M483.8 539.4h1.0M468.6 548.9h1.0M444.3 566.5h1.0M460.1 558.1h1.0M455.9 561.7h1.0M442.4 569.3h1.0M464.0 545.6h1.0M460.7 563.1h1.0M463.8 542.5h1.0M450.4 567.6h1.0M467.6 557.2h1.0M453.2 565.6h1.0M458.1 555.4h1.0M473.0 539.1h1.0M449.2 554.4h1.0M451.8 559.9h1.0M448.6 558.1h1.0M447.2 564.1h1.0M464.2 550.3h1.0M445.3 564.2h1.0M451.3 561.2h1.0M451.8 562.9h1.0M453.8 554.3h1.0M456.1 554.2h1.0M466.0 544.5h1.0M455.5 564.9h1.0M463.1 553.7h1.0M454.9 562.9h1.0M456.0 566.0h1.0M457.7 565.7h1.0M451.9 563.6h1.0M455.9 559.5h1.0M456.3 548.7h1.0M465.6 553.1h1.0M449.9 559.2h1.0M447.5 562.9h1.0M452.6 569.5h1.0M441.8 565.1h1.0M460.8 548.8h1.0M460.6 552.0h1.0M460.3 558.7h1.0M470.2 532.2h1.0M461.9 550.4h1.0M455.8 558.1h1.0M433.6 564.8h1.0M472.0 546.0h1.0M436.9 560.2h1.0M463.3 549.3h1.0M455.9 567.7h1.0M460.8 559.0h1.0M456.1 557.5h1.0M456.2 563.5h1.0M458.7 559.9h1.0M438.8 575.2h1.0M474.1 545.3h1.0M462.5 556.6h1.0M459.5 551.4h1.0M461.4 549.9h1.0M454.1 561.1h1.0M441.6 570.8h1.0M456.3 566.7h1.0M485.3 528.6h1.0M447.5 547.2h1.0M455.3 550.6h1.0M470.1 547.1h1.0M443.2 564.5h1.0M454.1 574.2h1.0M441.2 566.1h1.0M459.6 558.5h1.0M472.3 555.6h1.0M457.7 561.3h1.0M444.9 568.6h1.0M459.3 556.5h1.0M459.7 556.8h1.0M446.3 563.7h1.0M451.3 553.8h1.0M476.5 552.3h1.0M441.7 563.6h1.0M470.0 539.3h1.0M471.6 541.1h1.0M445.5 562.9h1.0M455.7 562.2h1.0M468.5 539.6h1.0M475.6 549.3h1.0M445.0 560.5h1.0M454.5 562.0h1.0M464.7 548.4h1.0M459.3 555.4h1.0M447.8 565.2h1.0M452.8 561.7h1.0M444.1 568.8h1.0M454.3 552.8h1.0M455.4 555.9h1.0M447.0 559.6h1.0M469.6 551.8h1.0M447.7 563.6h1.0M466.8 541.1h1.0M457.2 561.9h1.0M449.5 567.9h1.0M457.8 553.8h1.0M461.9 554.5h1.0M463.2 559.2h1.0M459.0 563.6h1.0M454.9 562.3h1.0M471.4 542.1h1.0M450.7 561.0h1.0M464.4 550.7h1.0M458.5 555.1h1.0M488.0 539.0h1.0M444.7 563.0h1.0M469.9 547.7h1.0M453.2 570.3h1.0M449.2 570.4h1.0M449.6 563.4h1.0M471.4 552.6h1.0M453.1 555.1h1.0M474.1 543.7h1.0M463.4 555.6h1.0M484.0 542.6h1.0M459.5 557.4h1.0M459.7 557.5h1.0M449.2 558.1h1.0M450.2 557.8h1.0M448.3 557.5h1.0M481.7 541.9h1.0M451.9 561.8h1.0M449.6 557.8h1.0M443.0 571.1h1.0M463.3 557.1h1.0M460.7 565.8h1.0M447.9 569.6h1.0M450.6 558.3h1.0M474.5 547.0h1.0M488.4 533.2h1.0M459.5 560.3h1.0M479.8 543.9h1.0M468.6 546.1h1.0M453.0 560.0h1.0M446.6 563.6h1.0M479.9 539.1h1.0M450.3 566.9h1.0M446.0 573.8h1.0M456.5 554.6h1.0M471.2 530.0h1.0M464.7 546.6h1.0M450.1 567.2h1.0M461.7 572.5h1.0M461.3 556.1h1.0M453.0 562.4h1.0M457.0 564.2h1.0M464.1 555.1h1.0M438.0 570.7h1.0M435.4 585.9h1.0M456.2 548.6h1.0M452.9 564.3h1.0M449.5 559.2h1.0M489.7 545.8h1.0M455.2 565.1h1.0M449.2 567.6h1.0M443.1 561.6h1.0M450.3 561.6h1.0M456.2 556.9h1.0M468.4 554.9h1.0M449.0 567.0h1.0M452.5 567.0h1.0M440.9 558.3h1.0M451.8 564.1h1.0M459.5 555.1h1.0M452.7 562.9h1.0M450.3 562.5h1.0M460.6 550.9h1.0M462.3 559.8h1.0M461.8 561.0h1.0M457.7 555.9h1.0M475.3 537.4h1.0M462.8 550.9h1.0M473.1 546.9h1.0M455.0 549.1h1.0M447.2 567.7h1.0M459.8 559.1h1.0" stroke="#2b3b78" stroke-width="1.0" fill="none" opacity="0.8"/>
<path d="M466.8 562.5h1.0M486.0 534.0h1.0M472.7 553.9h1.0M469.4 555.6h1.0M507.2 513.1h1.0M469.5 552.0h1.0M462.5 562.7h1.0M469.1 554.3h1.0M463.6 559.5h1.0M468.3 556.0h1.0M484.2 548.1h1.0M454.7 563.1h1.0M469.0 546.6h1.0M465.6 557.7h1.0M455.6 562.3h1.0M460.4 559.9h1.0M456.3 575.3h1.0M466.2 561.4h1.0M467.4 549.1h1.0M450.1 563.7h1.0M465.1 559.3h1.0M463.9 555.9h1.0M478.4 548.8h1.0M455.7 558.8h1.0M466.7 553.6h1.0M457.1 561.4h1.0M475.9 572.2h1.0M461.7 567.9h1.0M456.3 574.1h1.0M473.7 547.9h1.0M450.4 564.3h1.0M462.1 561.5h1.0M454.6 567.8h1.0M480.0 545.4h1.0M450.7 569.7h1.0M453.6 568.6h1.0M484.5 542.2h1.0M502.4 528.2h1.0M473.2 558.0h1.0M450.0 561.0h1.0M469.3 558.1h1.0M454.5 561.1h1.0M459.9 562.7h1.0M463.3 552.8h1.0M468.9 556.7h1.0M464.9 558.2h1.0M495.1 532.9h1.0M476.9 536.7h1.0M510.1 522.6h1.0M483.9 531.5h1.0M455.9 562.1h1.0M450.9 564.0h1.0M464.7 556.3h1.0M475.6 541.2h1.0M463.5 570.0h1.0M460.5 567.7h1.0M474.3 544.3h1.0M473.1 563.0h1.0M493.8 530.1h1.0M466.7 549.2h1.0M469.7 548.2h1.0M488.2 528.0h1.0M467.7 561.9h1.0M453.4 572.5h1.0M452.6 553.5h1.0M453.6 562.0h1.0M458.2 554.6h1.0M457.3 558.5h1.0M487.7 539.1h1.0M460.6 549.4h1.0M478.2 545.5h1.0M446.0 570.7h1.0M452.8 560.0h1.0M477.4 553.8h1.0M484.4 548.1h1.0M460.1 552.1h1.0M478.7 517.8h1.0M485.5 544.4h1.0M454.6 565.2h1.0M472.6 557.9h1.0M458.1 565.5h1.0M465.4 551.3h1.0M443.3 573.5h1.0M444.2 574.9h1.0M455.9 565.4h1.0M462.2 560.3h1.0M479.3 547.8h1.0M465.7 557.6h1.0M456.8 564.9h1.0M466.6 556.4h1.0M469.4 543.9h1.0M449.6 571.5h1.0M466.3 546.5h1.0M450.0 570.9h1.0M464.9 558.0h1.0M478.4 543.1h1.0M475.7 551.4h1.0M500.4 522.3h1.0M456.7 566.5h1.0M457.9 569.3h1.0M447.0 568.5h1.0M486.0 550.3h1.0M458.0 561.1h1.0M460.1 560.6h1.0M455.7 567.3h1.0M466.7 559.2h1.0M483.2 545.1h1.0M466.5 563.3h1.0M476.1 551.8h1.0M457.9 562.5h1.0M447.2 561.9h1.0M481.9 536.9h1.0M449.5 565.0h1.0M488.0 539.6h1.0M464.5 559.3h1.0M494.4 528.5h1.0M485.4 543.9h1.0M476.3 549.7h1.0M456.8 558.5h1.0M461.5 565.1h1.0M459.7 566.9h1.0M465.4 561.2h1.0M459.5 558.4h1.0M459.5 561.3h1.0M450.2 561.7h1.0M473.2 544.4h1.0M453.4 564.2h1.0M462.3 558.6h1.0M472.3 559.7h1.0M457.1 564.2h1.0M481.3 543.6h1.0M453.1 557.3h1.0M500.1 520.0h1.0M469.8 556.3h1.0M491.9 523.3h1.0M470.4 547.8h1.0M464.8 552.7h1.0M448.8 567.7h1.0M474.0 554.5h1.0M482.9 535.2h1.0M471.2 552.1h1.0M489.5 535.4h1.0M463.2 560.9h1.0M471.8 547.2h1.0M454.3 566.4h1.0M458.9 560.8h1.0M467.1 548.3h1.0M468.8 560.0h1.0M449.8 570.5h1.0M473.1 550.3h1.0M463.9 556.3h1.0M461.5 561.4h1.0M475.8 544.9h1.0M494.3 528.3h1.0M461.1 550.9h1.0M453.3 571.0h1.0M489.7 538.5h1.0M460.3 562.5h1.0M459.6 568.0h1.0M473.3 550.5h1.0M476.6 544.3h1.0M470.1 562.4h1.0M481.4 540.4h1.0M456.0 555.9h1.0M458.1 559.0h1.0M458.6 555.5h1.0M454.0 565.1h1.0M470.8 563.0h1.0M472.1 541.7h1.0M461.5 554.2h1.0M463.5 559.5h1.0M453.0 558.8h1.0M465.9 556.6h1.0M494.4 521.5h1.0M457.0 563.5h1.0M473.7 544.5h1.0M481.0 546.5h1.0M479.9 548.7h1.0M440.8 576.1h1.0M467.8 552.3h1.0M465.0 560.3h1.0M468.5 557.0h1.0M478.7 547.6h1.0M476.5 545.2h1.0M468.5 545.1h1.0M455.7 563.5h1.0M454.4 568.1h1.0M482.8 549.8h1.0M466.7 553.1h1.0M460.1 562.4h1.0M448.5 568.1h1.0M455.9 556.2h1.0M469.3 554.7h1.0M460.6 559.8h1.0M475.4 555.2h1.0M491.5 529.5h1.0M477.5 542.0h1.0M456.6 566.8h1.0M469.6 544.7h1.0M452.2 576.3h1.0M458.3 562.3h1.0M455.2 559.5h1.0M450.9 567.8h1.0M455.8 558.6h1.0M456.6 556.6h1.0M468.0 554.4h1.0M447.2 566.8h1.0M468.3 546.5h1.0M456.0 566.2h1.0M470.4 552.7h1.0M455.8 563.2h1.0M452.6 562.8h1.0M478.6 542.9h1.0M478.8 552.0h1.0M463.1 546.6h1.0M487.6 552.7h1.0M474.6 548.4h1.0M470.9 549.0h1.0M454.9 564.8h1.0M474.8 543.2h1.0M461.9 557.1h1.0M490.1 536.9h1.0M482.2 532.9h1.0M464.1 556.2h1.0M448.4 564.7h1.0M459.8 560.1h1.0M476.9 552.2h1.0M459.8 562.3h1.0M448.5 564.8h1.0M460.7 557.1h1.0M458.3 558.1h1.0" stroke="#ab1849" stroke-width="1.0" fill="none" opacity="0.8"/>
<path d="M473.3 542.9h1.0M435.4 567.5h1.0M432.5 567.4h1.0M458.1 552.0h1.0M455.1 556.5h1.0M465.8 551.0h1.0M460.8 565.5h1.0M458.2 555.3h1.0M456.8 555.0h1.0M457.8 556.8h1.0M446.9 565.6h1.0M453.5 560.3h1.0M450.3 566.6h1.0M463.4 555.8h1.0M453.2 562.8h1.0M459.9 550.8h1.0M456.8 559.5h1.0M463.2 550.5h1.0M497.6 523.1h1.0M446.0 569.7h1.0M489.8 536.1h1.0M469.7 547.8h1.0M460.4 557.4h1.0M473.2 547.8h1.0M487.3 550.4h1.0M448.6 563.8h1.0M443.0 567.2h1.0M452.8 565.9h1.0M466.8 551.4h1.0M454.4 567.0h1.0M469.3 547.8h1.0M458.2 542.0h1.0M448.3 566.2h1.0M461.3 556.2h1.0M465.7 550.1h1.0M470.9 554.4h1.0M444.7 568.2h1.0M460.9 550.6h1.0M448.2 559.8h1.0M451.9 564.5h1.0M503.1 523.9h1.0M461.5 560.4h1.0M470.5 549.8h1.0M482.1 530.0h1.0M443.0 564.0h1.0M456.7 558.9h1.0M440.8 568.4h1.0M446.0 561.3h1.0M457.2 555.7h1.0M474.9 540.8h1.0M459.8 563.4h1.0M464.8 555.3h1.0M455.9 554.3h1.0M451.1 555.9h1.0M442.5 565.9h1.0M457.7 557.6h1.0M453.4 561.3h1.0M455.1 562.0h1.0M455.8 566.8h1.0M450.7 557.6h1.0M469.5 553.2h1.0M451.4 563.2h1.0M448.7 557.9h1.0M452.1 561.4h1.0M448.2 568.3h1.0M452.3 557.1h1.0M442.6 568.2h1.0M454.4 555.2h1.0M468.7 548.0h1.0M469.4 535.5h1.0M465.3 551.2h1.0M463.5 550.1h1.0M452.8 563.8h1.0M450.5 559.2h1.0M458.0 555.7h1.0M458.5 547.7h1.0M490.2 537.7h1.0M472.7 546.5h1.0M441.3 563.0h1.0M455.9 558.6h1.0M473.6 539.3h1.0M469.7 547.5h1.0M464.6 551.4h1.0M455.2 555.9h1.0M471.0 557.1h1.0M450.3 557.7h1.0M460.1 558.0h1.0M453.1 568.5h1.0M449.1 560.1h1.0M439.3 555.4h1.0M443.3 563.2h1.0M452.0 557.5h1.0M460.4 565.1h1.0M455.1 555.2h1.0M464.1 553.0h1.0M459.4 556.2h1.0M458.8 557.6h1.0M449.9 564.0h1.0M465.3 559.3h1.0M450.7 566.4h1.0M449.4 567.1h1.0M490.8 519.3h1.0M482.5 538.2h1.0M456.0 567.4h1.0M443.8 569.9h1.0M452.7 561.6h1.0M444.0 575.3h1.0M456.0 562.9h1.0M451.4 563.7h1.0M449.3 565.4h1.0M453.2 561.3h1.0M459.2 557.8h1.0M491.1 521.0h1.0M451.5 564.3h1.0M445.2 575.2h1.0M504.1 523.8h1.0M459.9 547.9h1.0M450.0 564.1h1.0M448.2 565.1h1.0M453.3 557.9h1.0M448.7 560.6h1.0M454.2 551.6h1.0M467.0 554.9h1.0M480.6 550.7h1.0M444.6 557.5h1.0M444.7 576.5h1.0M459.1 551.5h1.0M453.1 560.8h1.0M450.9 560.8h1.0M438.6 565.5h1.0M471.9 543.6h1.0M467.3 547.1h1.0M450.2 560.8h1.0M449.9 567.8h1.0M456.9 559.8h1.0M453.0 566.8h1.0M449.0 563.2h1.0M447.1 560.5h1.0M446.5 572.0h1.0M436.9 565.7h1.0M450.2 554.6h1.0M447.8 561.5h1.0M458.0 557.7h1.0M476.6 551.6h1.0M494.9 540.4h1.0M449.3 556.5h1.0M450.7 563.1h1.0M454.5 555.2h1.0M459.7 555.8h1.0M445.2 562.1h1.0M472.9 549.6h1.0M488.2 526.0h1.0M464.2 551.4h1.0M446.7 558.1h1.0M448.3 561.6h1.0M459.1 557.7h1.0M439.4 575.1h1.0M449.2 563.1h1.0M442.8 570.8h1.0M466.9 543.9h1.0M447.3 564.1h1.0M472.6 537.3h1.0M438.8 572.5h1.0M464.6 557.1h1.0M453.7 564.1h1.0M485.1 538.3h1.0M462.1 557.2h1.0M506.6 520.7h1.0M455.6 556.2h1.0M460.9 553.3h1.0M444.0 560.6h1.0M453.7 567.7h1.0M466.7 549.9h1.0M457.6 544.5h1.0M453.3 555.5h1.0M438.4 563.8h1.0M460.9 558.5h1.0M473.2 552.2h1.0M447.6 560.0h1.0M458.2 555.2h1.0M475.4 547.1h1.0M458.4 566.5h1.0M448.9 563.0h1.0M452.3 554.5h1.0M445.3 558.0h1.0M450.5 558.4h1.0M458.5 559.4h1.0M460.9 555.0h1.0M459.2 567.1h1.0M482.8 537.7h1.0M457.0 560.4h1.0M466.0 552.8h1.0M455.0 561.6h1.0M487.5 537.9h1.0M478.4 547.7h1.0M447.0 564.5h1.0M464.8 553.0h1.0M449.7 557.8h1.0M456.7 556.6h1.0M463.6 553.0h1.0M469.2 553.2h1.0M460.2 560.5h1.0M445.4 557.9h1.0M451.2 564.8h1.0M466.9 551.5h1.0M448.5 561.9h1.0M465.7 552.9h1.0M476.2 549.8h1.0M460.0 562.0h1.0M452.0 567.6h1.0M447.7 567.9h1.0M449.3 554.3h1.0M464.5 558.4h1.0M473.1 538.1h1.0M446.5 563.7h1.0M457.1 558.1h1.0M440.8 567.6h1.0M451.1 565.2h1.0M478.6 540.6h1.0M452.8 559.0h1.0M445.2 573.6h1.0M447.2 560.7h1.0M440.3 575.0h1.0M467.5 554.4h1.0M460.5 550.4h1.0M482.1 544.0h1.0" stroke="#2b3b78" stroke-width="1.0" fill="none" opacity="0.8"/>
<path d="M464.7 560.8h1.0M458.0 561.2h1.0M461.5 559.9h1.0M456.2 562.7h1.0M496.7 526.4h1.0M474.2 559.5h1.0M467.2 546.0h1.0M473.3 552.1h1.0M466.6 562.2h1.0M465.1 555.2h1.0M477.9 543.8h1.0M459.0 562.6h1.0M462.1 563.5h1.0M464.0 552.8h1.0M463.9 555.7h1.0M463.9 554.4h1.0M462.7 555.4h1.0M474.7 538.1h1.0M466.1 562.2h1.0M453.5 570.0h1.0M458.0 569.9h1.0M464.7 562.2h1.0M469.5 548.1h1.0M455.0 565.1h1.0M460.1 570.0h1.0M469.6 555.7h1.0M453.0 563.4h1.0M472.9 547.2h1.0M455.0 569.2h1.0M460.9 567.6h1.0M461.0 563.5h1.0M465.7 557.3h1.0M459.1 559.6h1.0M458.4 565.1h1.0M484.2 547.7h1.0M459.8 562.7h1.0M457.9 566.3h1.0M462.0 554.1h1.0M465.5 557.9h1.0M461.0 567.1h1.0M466.3 555.7h1.0M468.0 549.6h1.0M500.3 521.7h1.0M461.0 564.6h1.0M454.8 559.2h1.0M456.2 566.3h1.0M472.4 554.6h1.0M463.9 557.8h1.0M467.0 554.4h1.0M451.7 572.0h1.0M479.1 533.6h1.0M455.4 561.1h1.0M453.1 572.9h1.0M467.1 561.1h1.0M461.7 566.1h1.0M461.1 558.4h1.0M451.1 567.4h1.0M460.5 562.8h1.0M469.0 554.5h1.0M464.4 549.3h1.0M475.2 542.2h1.0M463.8 562.4h1.0M478.3 537.8h1.0M449.6 563.0h1.0M461.8 561.8h1.0M458.1 562.2h1.0M463.9 551.8h1.0M471.1 539.5h1.0M473.9 548.2h1.0M458.2 558.8h1.0M472.1 555.4h1.0M455.9 558.4h1.0M473.3 555.4h1.0M453.0 565.6h1.0M466.7 556.8h1.0M442.0 576.5h1.0M464.7 567.3h1.0M449.1 563.3h1.0M457.2 558.7h1.0M462.2 571.4h1.0M500.8 520.0h1.0M454.8 557.1h1.0M464.8 564.5h1.0M473.2 554.6h1.0M471.7 552.0h1.0M452.6 575.9h1.0M452.8 561.7h1.0M459.9 560.9h1.0M463.5 556.9h1.0M468.8 558.4h1.0M466.3 547.1h1.0M450.6 571.1h1.0M462.5 558.9h1.0M452.8 555.3h1.0M437.7 568.8h1.0M467.3 550.9h1.0M457.0 572.7h1.0M455.6 562.5h1.0M444.7 571.7h1.0M464.5 551.1h1.0M464.1 563.4h1.0M454.8 559.2h1.0M462.0 562.8h1.0M466.8 563.5h1.0M479.2 552.0h1.0M457.2 560.4h1.0M473.9 554.0h1.0M459.2 561.2h1.0M453.8 561.7h1.0M469.6 555.2h1.0M473.1 551.7h1.0M453.6 569.6h1.0M462.4 560.0h1.0M463.2 561.1h1.0M467.1 553.7h1.0M446.6 566.9h1.0M467.5 559.8h1.0M481.2 534.7h1.0M454.8 563.2h1.0M457.5 541.1h1.0M483.4 535.5h1.0M458.9 552.6h1.0M466.5 551.2h1.0M455.0 567.8h1.0M479.5 546.3h1.0M463.5 562.2h1.0M457.9 564.4h1.0M475.0 555.1h1.0M454.5 550.2h1.0M473.6 557.9h1.0M462.3 563.9h1.0M475.1 553.1h1.0M472.9 543.3h1.0M470.9 554.6h1.0M497.3 528.1h1.0M471.1 555.7h1.0M469.5 553.6h1.0M468.0 552.8h1.0M472.6 554.9h1.0M469.5 555.7h1.0M483.1 528.8h1.0M458.0 567.5h1.0M459.8 556.7h1.0M470.9 553.9h1.0M454.0 555.7h1.0M477.6 547.9h1.0M439.0 572.2h1.0M485.6 528.4h1.0M498.5 518.2h1.0M455.8 568.1h1.0M469.1 558.9h1.0M471.0 547.7h1.0M458.4 564.5h1.0M478.4 550.9h1.0M454.6 568.6h1.0M478.2 552.7h1.0M471.2 555.8h1.0M453.8 568.6h1.0M453.2 563.1h1.0M465.8 557.5h1.0M471.3 558.8h1.0M473.3 551.9h1.0M450.2 561.0h1.0M444.8 560.8h1.0M479.0 548.6h1.0M454.4 564.9h1.0M458.8 564.3h1.0M470.1 555.8h1.0M459.7 562.3h1.0M466.0 559.5h1.0M457.7 561.1h1.0M478.9 545.8h1.0M479.2 549.1h1.0M465.6 560.2h1.0M468.9 552.5h1.0M478.1 552.2h1.0M462.7 558.5h1.0M481.8 554.0h1.0M465.3 549.5h1.0M477.5 536.8h1.0M455.2 564.1h1.0M503.9 525.9h1.0M476.2 556.2h1.0M466.8 550.3h1.0M470.1 549.2h1.0M483.5 537.4h1.0M467.9 554.1h1.0M464.3 545.5h1.0M468.1 549.4h1.0M468.0 555.7h1.0M476.1 543.0h1.0M465.3 555.6h1.0M464.8 557.0h1.0M463.6 558.7h1.0M460.1 558.5h1.0M463.2 561.5h1.0M466.4 555.4h1.0M445.1 575.6h1.0M469.6 559.7h1.0M470.0 556.6h1.0M475.1 552.2h1.0M467.4 560.4h1.0M455.4 573.7h1.0M462.8 554.4h1.0M464.2 550.3h1.0M449.9 568.9h1.0M465.9 552.5h1.0M466.9 559.3h1.0M465.4 565.1h1.0M468.0 556.7h1.0M466.8 561.6h1.0M455.7 551.1h1.0M480.3 538.8h1.0M459.0 555.9h1.0M468.8 556.0h1.0M471.3 547.8h1.0M447.0 569.0h1.0M458.3 562.9h1.0M453.1 563.7h1.0M470.3 551.5h1.0M454.9 565.1h1.0M467.0 551.8h1.0M447.6 564.2h1.0M469.1 564.3h1.0M482.5 553.7h1.0M467.2 548.1h1.0M459.1 566.8h1.0M460.8 561.8h1.0M459.6 563.8h1.0M472.6 541.7h1.0M476.9 542.3h1.0" stroke="#ab1849" stroke-width="1.0" fill="none" opacity="0.8"/>
<path d="M452.2 562.1h1.0M461.3 556.3h1.0M466.2 548.8h1.0M442.2 568.3h1.0M458.8 560.6h1.0M454.0 547.8h1.0M470.3 548.1h1.0M459.3 557.5h1.0M475.1 548.4h1.0M454.4 557.1h1.0M466.8 549.0h1.0M452.8 564.0h1.0M466.5 548.9h1.0M458.9 543.7h1.0M463.9 553.8h1.0M454.0 561.5h1.0M451.3 555.7h1.0M459.3 561.4h1.0M451.1 564.1h1.0M468.1 562.0h1.0M467.7 551.1h1.0M459.4 562.1h1.0M439.7 572.2h1.0M487.5 522.2h1.0M480.1 538.2h1.0M459.8 556.2h1.0M469.5 552.5h1.0M453.5 551.1h1.0M466.7 554.0h1.0M458.2 556.5h1.0M459.8 561.2h1.0M469.0 545.4h1.0M479.8 535.4h1.0M451.0 560.3h1.0M468.7 556.2h1.0M460.5 565.3h1.0M464.0 564.0h1.0M467.8 553.4h1.0M461.6 549.9h1.0M478.7 523.2h1.0M455.8 566.5h1.0M447.7 566.2h1.0M441.3 574.2h1.0M452.5 553.7h1.0M452.5 565.7h1.0M497.3 514.7h1.0M450.9 556.4h1.0M438.4 576.1h1.0M447.3 564.7h1.0M443.1 560.0h1.0M458.7 557.5h1.0M461.4 555.3h1.0M434.1 581.8h1.0M456.5 556.6h1.0M466.8 553.3h1.0M449.5 564.1h1.0M472.5 546.2h1.0M451.0 552.7h1.0M467.3 555.3h1.0M440.9 558.4h1.0M459.7 550.0h1.0M472.7 538.0h1.0M433.0 584.9h1.0M462.3 564.3h1.0M453.1 562.0h1.0M448.9 562.5h1.0M479.6 536.9h1.0M453.8 551.5h1.0M448.6 560.6h1.0M440.3 577.9h1.0M447.5 562.1h1.0M438.5 573.9h1.0M461.8 554.9h1.0M480.1 556.5h1.0M462.0 545.6h1.0M460.5 552.9h1.0M454.2 557.3h1.0M470.3 537.9h1.0M457.0 557.6h1.0M441.5 572.6h1.0M470.3 544.9h1.0M460.7 560.3h1.0M453.8 565.5h1.0M461.2 548.9h1.0M481.9 545.9h1.0M447.4 558.9h1.0M457.2 553.2h1.0M463.7 545.0h1.0M446.3 572.2h1.0M457.1 561.8h1.0M448.7 559.4h1.0M451.3 561.7h1.0M454.5 553.8h1.0M457.8 559.2h1.0M462.3 556.1h1.0M452.7 562.9h1.0M450.1 555.1h1.0M451.2 558.1h1.0M452.9 557.6h1.0M470.6 544.9h1.0M451.5 555.9h1.0M456.0 563.3h1.0M453.4 556.1h1.0M457.0 555.6h1.0M454.5 562.6h1.0M446.8 573.0h1.0M462.2 547.8h1.0M443.9 570.3h1.0M450.1 563.5h1.0M457.9 555.3h1.0M440.5 565.2h1.0M449.7 566.5h1.0M454.0 566.8h1.0M448.5 564.5h1.0M447.1 574.0h1.0M448.0 561.7h1.0M461.1 565.7h1.0M456.1 557.7h1.0M439.2 569.0h1.0M449.4 562.1h1.0M472.3 541.1h1.0M439.2 567.7h1.0M484.7 546.5h1.0M444.6 570.4h1.0M458.7 545.1h1.0M452.6 556.5h1.0M461.0 555.0h1.0M457.8 550.5h1.0M458.2 552.2h1.0M452.5 560.4h1.0M462.7 552.6h1.0M458.6 562.8h1.0M454.6 561.5h1.0M461.2 551.9h1.0M465.7 551.9h1.0M445.5 559.8h1.0M449.5 568.1h1.0M460.2 557.9h1.0M459.9 556.0h1.0M459.8 549.1h1.0M453.9 568.7h1.0M446.2 569.9h1.0M481.3 530.4h1.0M478.6 554.2h1.0M451.5 555.6h1.0M493.8 535.4h1.0M451.0 562.8h1.0M458.1 554.0h1.0M441.5 572.2h1.0M446.6 565.4h1.0M447.8 567.8h1.0M438.2 575.8h1.0M457.5 551.5h1.0M452.9 563.7h1.0M453.8 556.8h1.0M465.5 546.9h1.0M451.2 570.2h1.0M446.0 559.5h1.0M480.3 528.1h1.0M439.0 573.0h1.0M467.0 558.4h1.0M442.6 558.4h1.0M450.7 553.9h1.0M437.3 573.8h1.0M438.9 578.1h1.0M463.2 559.7h1.0M452.8 562.3h1.0M456.8 570.4h1.0M469.8 541.7h1.0M449.9 558.9h1.0M448.7 560.1h1.0M443.0 573.7h1.0M476.0 543.0h1.0M463.0 559.6h1.0M460.4 554.9h1.0M453.1 562.4h1.0M485.9 538.7h1.0M486.8 531.5h1.0M477.2 551.9h1.0M456.6 556.9h1.0M453.9 552.3h1.0M454.9 556.1h1.0M456.3 554.3h1.0M474.9 547.9h1.0M442.4 564.1h1.0M462.7 555.0h1.0M476.5 549.8h1.0M454.3 564.6h1.0M444.0 566.1h1.0M466.9 549.9h1.0M467.6 555.8h1.0M455.0 560.1h1.0M431.2 574.1h1.0M439.1 571.8h1.0M453.8 557.0h1.0M454.5 554.4h1.0M441.7 566.9h1.0M451.7 563.0h1.0M473.4 539.4h1.0M459.3 549.3h1.0M449.2 560.6h1.0M462.1 543.8h1.0M446.5 568.9h1.0M446.8 569.5h1.0M452.5 555.9h1.0M442.7 571.8h1.0M476.3 554.8h1.0M457.2 553.0h1.0M452.7 556.8h1.0M435.6 569.5h1.0M443.0 571.6h1.0M480.1 535.7h1.0M454.0 564.1h1.0M453.5 563.5h1.0M448.9 558.8h1.0M450.2 562.7h1.0M442.9 573.3h1.0M453.2 566.7h1.0M471.4 543.0h1.0M466.4 540.0h1.0M453.7 568.4h1.0M502.2 513.1h1.0M461.7 557.5h1.0M457.2 553.0h1.0M446.8 570.7h1.0M467.9 552.8h1.0" stroke="#2b3b78" stroke-width="1.0" fill="none" opacity="0.8"/>
<path d="M480.0 542.7h1.0M471.8 559.7h1.0M451.1 567.0h1.0M447.3 565.5h1.0M460.5 547.7h1.0M485.2 538.6h1.0M446.8 568.2h1.0M469.7 560.2h1.0M438.2 576.3h1.0M468.9 557.2h1.0M471.9 556.8h1.0M490.0 540.6h1.0M462.6 559.4h1.0M482.9 533.1h1.0M466.9 541.9h1.0M465.4 550.6h1.0M489.0 546.2h1.0M480.5 544.2h1.0M471.4 546.4h1.0M449.8 571.9h1.0M473.5 550.5h1.0M454.3 562.6h1.0M453.9 569.7h1.0M465.6 552.3h1.0M448.2 569.9h1.0M474.7 547.6h1.0M449.8 574.4h1.0M477.7 549.4h1.0M472.8 547.4h1.0M461.9 558.3h1.0M467.4 557.8h1.0M457.0 554.2h1.0M457.9 561.4h1.0M458.9 561.5h1.0M473.1 554.8h1.0M457.8 556.3h1.0M454.8 565.5h1.0M468.5 559.6h1.0M469.6 557.1h1.0M454.2 569.9h1.0M450.2 571.9h1.0M472.1 544.0h1.0M456.4 570.3h1.0M509.1 513.2h1.0M483.1 544.9h1.0M450.7 559.0h1.0M456.6 561.8h1.0M493.0 523.5h1.0M456.7 560.6h1.0M461.6 560.6h1.0M473.6 554.2h1.0M457.0 566.5h1.0M471.9 548.0h1.0M473.0 554.3h1.0M475.2 545.8h1.0M475.7 548.3h1.0M456.9 557.4h1.0M456.7 558.1h1.0M476.9 541.8h1.0M470.2 561.2h1.0M481.2 546.7h1.0M456.4 559.9h1.0M445.5 569.8h1.0M460.5 559.8h1.0M455.1 556.8h1.0M475.8 544.8h1.0M467.3 555.1h1.0M459.2 560.1h1.0M489.0 541.3h1.0M466.3 563.8h1.0M464.7 556.3h1.0M444.6 570.0h1.0M474.9 552.2h1.0M458.0 559.8h1.0M478.0 552.4h1.0M449.1 572.5h1.0M474.7 553.9h1.0M461.0 561.3h1.0M469.7 550.6h1.0M459.9 560.4h1.0M460.1 557.3h1.0M483.1 529.5h1.0M473.4 557.5h1.0M463.5 557.8h1.0M461.3 565.0h1.0M477.2 548.8h1.0M468.0 551.1h1.0M453.1 558.8h1.0M481.0 551.5h1.0M464.4 555.6h1.0M462.4 564.3h1.0M449.5 570.0h1.0M457.2 553.6h1.0M470.8 549.7h1.0M475.1 557.7h1.0M492.6 529.4h1.0M446.0 578.2h1.0M454.5 561.0h1.0M455.3 562.9h1.0M460.6 558.0h1.0M472.2 549.7h1.0M491.3 525.2h1.0M462.9 561.2h1.0M470.6 559.4h1.0M456.6 565.9h1.0M463.4 562.6h1.0M458.7 562.4h1.0M453.8 568.5h1.0M458.5 566.8h1.0M474.7 547.5h1.0M457.3 564.5h1.0M464.0 565.9h1.0M469.5 558.9h1.0M453.5 558.9h1.0M463.4 559.7h1.0M452.7 543.0h1.0M462.0 560.9h1.0M454.9 571.4h1.0M463.6 554.8h1.0M469.5 554.7h1.0M470.6 554.9h1.0M451.5 570.6h1.0M456.8 568.2h1.0M487.1 542.6h1.0M448.4 549.8h1.0M445.7 566.0h1.0M465.2 562.1h1.0M472.3 545.5h1.0M448.4 575.0h1.0M463.9 554.2h1.0M486.6 531.9h1.0M475.8 548.9h1.0M465.6 558.6h1.0M464.2 557.9h1.0M457.6 564.8h1.0M494.6 536.1h1.0M466.4 553.8h1.0M445.6 574.8h1.0M472.5 549.4h1.0M455.7 563.9h1.0M493.8 528.9h1.0M465.6 555.0h1.0M458.6 558.4h1.0M470.8 543.7h1.0M440.0 576.6h1.0M461.3 561.0h1.0M446.7 567.7h1.0M464.6 563.4h1.0M463.8 562.4h1.0M481.7 540.3h1.0M473.4 532.7h1.0M476.4 548.9h1.0M468.7 554.4h1.0M465.4 555.1h1.0M468.7 560.3h1.0M460.8 553.8h1.0M463.9 566.6h1.0M477.7 536.9h1.0M477.3 556.3h1.0M462.0 554.9h1.0M478.0 553.0h1.0M470.4 554.9h1.0M457.4 566.9h1.0M460.3 558.6h1.0M463.5 565.9h1.0M452.9 557.4h1.0M458.6 561.9h1.0M461.2 567.9h1.0M458.8 562.4h1.0M473.8 557.6h1.0M469.1 537.9h1.0M469.0 554.6h1.0M460.9 562.7h1.0M467.2 552.2h1.0M457.5 560.1h1.0M463.2 562.0h1.0M444.8 560.4h1.0M470.8 551.1h1.0M468.2 555.6h1.0M494.9 530.4h1.0M469.1 552.9h1.0M472.3 543.9h1.0M472.5 554.4h1.0M477.4 551.5h1.0M470.9 552.3h1.0M462.5 557.3h1.0M483.5 537.0h1.0M475.9 552.2h1.0M474.5 549.4h1.0M469.7 554.7h1.0M459.1 563.0h1.0M504.4 531.6h1.0M459.4 563.6h1.0M471.4 541.1h1.0M465.5 563.6h1.0M459.3 564.4h1.0M473.7 547.1h1.0M451.9 567.7h1.0M471.2 551.3h1.0M464.4 563.7h1.0M464.8 560.8h1.0M486.2 534.0h1.0M470.1 557.7h1.0M472.3 546.1h1.0M449.0 562.8h1.0M462.2 566.6h1.0M457.8 555.2h1.0M455.8 563.5h1.0M481.0 553.8h1.0M467.0 549.8h1.0M464.0 559.2h1.0M471.1 553.4h1.0M472.6 551.3h1.0M490.1 539.7h1.0M466.3 562.9h1.0M458.7 553.4h1.0M456.8 561.4h1.0M468.9 566.7h1.0M454.3 557.2h1.0M446.8 561.9h1.0M459.1 560.3h1.0M463.5 561.3h1.0M455.2 565.4h1.0M472.2 555.5h1.0M452.4 578.2h1.0M461.6 561.0h1.0M501.0 527.0h1.0M473.8 556.8h1.0M461.9 555.8h1.0M488.2 532.8h1.0M437.6 578.0h1.0" stroke="#ab1849" stroke-width="1.0" fill="none" opacity="0.8"/>
<path d="M450.8 558.9h1.0M455.3 560.9h1.0M466.4 556.5h1.0M469.9 556.4h1.0M455.3 557.6h1.0M467.5 556.2h1.0M462.4 555.3h1.0M458.3 550.5h1.0M452.7 565.2h1.0M479.3 541.0h1.0M470.7 545.0h1.0M486.6 538.0h1.0M463.3 553.9h1.0M452.5 566.2h1.0M461.6 546.0h1.0M453.5 561.0h1.0M462.8 552.0h1.0M458.0 556.4h1.0M461.2 557.9h1.0M461.3 545.7h1.0M470.4 550.7h1.0M455.0 563.0h1.0M455.3 558.6h1.0M447.7 567.4h1.0M448.5 568.5h1.0M455.3 564.6h1.0M461.1 551.2h1.0M450.9 552.5h1.0M451.6 565.0h1.0M447.2 562.7h1.0M454.1 562.1h1.0M455.2 556.7h1.0M446.6 564.7h1.0M457.5 553.7h1.0M483.6 524.8h1.0M446.7 573.7h1.0M447.8 560.6h1.0M457.1 561.6h1.0M446.3 562.7h1.0M449.6 563.5h1.0M461.4 558.1h1.0M461.4 557.2h1.0M462.4 559.0h1.0M445.4 568.3h1.0M455.3 548.6h1.0M474.7 539.6h1.0M456.6 560.9h1.0M466.4 556.9h1.0M461.1 569.5h1.0M466.7 541.7h1.0M447.7 570.3h1.0M465.6 546.7h1.0M442.4 567.6h1.0M447.4 556.2h1.0M455.0 551.4h1.0M472.1 560.0h1.0M456.4 544.6h1.0M450.8 563.6h1.0M446.1 565.2h1.0M458.1 557.8h1.0M448.9 569.5h1.0M454.3 558.4h1.0M455.6 557.1h1.0M455.2 562.5h1.0M450.4 573.4h1.0M462.4 560.2h1.0M452.8 547.9h1.0M488.0 536.6h1.0M442.6 564.0h1.0M459.1 557.5h1.0M471.5 561.9h1.0M438.4 558.4h1.0M450.6 563.2h1.0M446.7 568.4h1.0M485.5 530.6h1.0M449.2 555.9h1.0M475.8 548.0h1.0M443.7 566.5h1.0M462.3 547.6h1.0M447.6 570.7h1.0M444.1 568.5h1.0M464.6 551.1h1.0M463.7 549.9h1.0M461.7 558.1h1.0M453.7 571.3h1.0M460.8 558.8h1.0M456.9 565.7h1.0M443.9 568.7h1.0M469.5 542.9h1.0M448.9 560.5h1.0M463.8 554.4h1.0M477.8 542.7h1.0M471.2 548.9h1.0M452.0 561.7h1.0M444.8 573.7h1.0M446.6 562.6h1.0M442.5 564.0h1.0M462.5 558.3h1.0M465.7 546.8h1.0M457.7 560.6h1.0M453.0 543.8h1.0M446.6 567.7h1.0M466.7 555.1h1.0M474.8 543.5h1.0M478.5 557.3h1.0M481.4 550.2h1.0M474.1 544.8h1.0M454.3 554.0h1.0M464.1 555.1h1.0M446.6 558.9h1.0M448.6 562.4h1.0M459.7 555.9h1.0M469.0 551.3h1.0M440.2 572.2h1.0M456.7 555.6h1.0M462.6 552.8h1.0M453.3 560.6h1.0M453.3 559.9h1.0M462.5 556.9h1.0M477.4 539.6h1.0M450.4 567.2h1.0M440.5 571.2h1.0M460.0 544.7h1.0M455.5 560.3h1.0M458.1 558.4h1.0M453.8 560.6h1.0M449.1 564.6h1.0M477.0 542.5h1.0M455.4 551.7h1.0M455.1 564.1h1.0M449.8 561.2h1.0M493.5 519.5h1.0M460.8 552.4h1.0M438.4 563.4h1.0M461.0 545.2h1.0M457.4 544.0h1.0M448.4 553.8h1.0M458.1 551.2h1.0M456.9 555.1h1.0M458.7 549.7h1.0M453.6 556.7h1.0M488.2 512.9h1.0M449.0 557.0h1.0M454.6 552.4h1.0M444.6 565.1h1.0M444.8 563.5h1.0M450.8 563.6h1.0M459.5 560.4h1.0M467.2 550.5h1.0M473.9 545.7h1.0M461.5 550.0h1.0M448.7 556.8h1.0M444.0 569.0h1.0M454.9 566.9h1.0M475.4 552.6h1.0M452.2 560.6h1.0M454.1 554.9h1.0M446.2 562.6h1.0M457.1 554.5h1.0M449.0 563.6h1.0M480.6 531.7h1.0M492.5 532.7h1.0M464.2 546.4h1.0M450.5 562.8h1.0M466.6 554.4h1.0M452.6 555.9h1.0M479.5 533.3h1.0M441.5 566.5h1.0M459.0 558.9h1.0M458.3 563.9h1.0M468.9 552.6h1.0M481.9 522.8h1.0M446.1 569.0h1.0M454.3 561.6h1.0M454.6 564.5h1.0M478.9 550.0h1.0M464.4 555.8h1.0M459.9 552.7h1.0M444.7 572.7h1.0M447.9 568.8h1.0M480.4 554.5h1.0M459.3 558.4h1.0M457.8 560.6h1.0M453.2 559.4h1.0M457.8 545.2h1.0M446.1 569.0h1.0M459.1 552.8h1.0M466.8 555.1h1.0M462.9 551.6h1.0M454.9 558.7h1.0M450.8 563.6h1.0M458.8 555.8h1.0M456.5 560.3h1.0M470.0 548.2h1.0M455.8 555.6h1.0M459.4 561.8h1.0M459.4 560.8h1.0M460.2 547.6h1.0M453.1 557.2h1.0M483.5 538.6h1.0M465.1 553.1h1.0M446.6 564.5h1.0M444.4 571.0h1.0M450.8 566.4h1.0M459.2 563.0h1.0M455.1 564.5h1.0M458.9 549.3h1.0M435.1 566.2h1.0M462.8 560.3h1.0M484.6 528.0h1.0M446.8 568.0h1.0M455.2 562.9h1.0M450.0 557.7h1.0M450.8 558.4h1.0M451.2 562.3h1.0M460.6 563.9h1.0M456.0 561.0h1.0M445.9 569.0h1.0M445.4 572.1h1.0M442.7 561.0h1.0M469.4 542.3h1.0M466.2 554.0h1.0M448.3 559.7h1.0M436.5 565.6h1.0M449.1 560.1h1.0M450.1 564.3h1.0" stroke="#2b3b78" stroke-width="1.0" fill="none" opacity="0.8"/>
<path d="M468.6 549.2h1.0M459.8 561.4h1.0M466.8 553.7h1.0M462.6 559.9h1.0M459.0 557.2h1.0M465.4 552.8h1.0M472.4 553.9h1.0M495.6 531.1h1.0M478.4 546.2h1.0M454.0 558.0h1.0M460.5 549.1h1.0M438.6 575.8h1.0M454.5 564.1h1.0M454.3 560.2h1.0M448.9 565.1h1.0M466.3 552.8h1.0M469.0 554.8h1.0M465.8 550.5h1.0M474.0 560.1h1.0M486.2 540.1h1.0M473.5 554.9h1.0M456.6 565.0h1.0M475.3 544.0h1.0M473.6 543.6h1.0M451.8 567.0h1.0M466.2 559.7h1.0M496.3 524.8h1.0M457.6 554.9h1.0M486.1 542.6h1.0M483.6 537.4h1.0M456.8 556.8h1.0M471.1 550.3h1.0M454.6 568.4h1.0M474.7 553.7h1.0M458.8 559.3h1.0M464.2 551.4h1.0M451.1 567.6h1.0M506.8 522.0h1.0M472.0 551.4h1.0M466.2 558.0h1.0M468.5 553.3h1.0M458.3 564.3h1.0M458.7 562.3h1.0M465.8 551.3h1.0M461.4 559.2h1.0M458.5 559.0h1.0M463.6 559.0h1.0M454.0 564.6h1.0M476.7 546.6h1.0M492.7 533.6h1.0M480.9 545.3h1.0M456.9 568.5h1.0M475.8 545.7h1.0M457.5 563.7h1.0M465.1 563.6h1.0M463.7 559.7h1.0M484.8 546.3h1.0M452.4 561.5h1.0M472.8 546.4h1.0M453.0 559.1h1.0M463.2 562.0h1.0M459.6 556.3h1.0M440.0 571.6h1.0M475.6 547.0h1.0M451.5 571.9h1.0M457.4 567.9h1.0M452.9 564.8h1.0M470.9 554.4h1.0M473.6 549.1h1.0M465.1 550.3h1.0M475.5 546.2h1.0M463.9 560.9h1.0M464.2 562.6h1.0M467.4 546.7h1.0M441.7 574.7h1.0M469.0 558.3h1.0M460.6 558.8h1.0M463.2 565.9h1.0M458.8 560.7h1.0M474.3 552.4h1.0M474.1 540.2h1.0M458.6 567.0h1.0M468.9 556.2h1.0M485.1 539.9h1.0M475.7 558.3h1.0M452.3 561.5h1.0M448.8 570.1h1.0M467.1 551.1h1.0M494.8 537.5h1.0M453.1 559.6h1.0M461.9 552.7h1.0M446.9 569.7h1.0M474.6 544.3h1.0M451.3 545.3h1.0M437.0 582.5h1.0M465.2 555.3h1.0M481.8 544.3h1.0M458.7 561.4h1.0M461.0 560.1h1.0M464.8 545.6h1.0M456.5 562.7h1.0M467.9 552.4h1.0M473.7 554.2h1.0M461.5 562.1h1.0M458.0 553.8h1.0M458.2 567.2h1.0M481.0 546.2h1.0M457.2 560.8h1.0M491.7 536.2h1.0M468.1 549.3h1.0M458.1 561.3h1.0M462.2 561.1h1.0M464.9 552.6h1.0M460.3 561.2h1.0M466.9 555.7h1.0M464.0 555.2h1.0M478.5 549.9h1.0M479.4 530.2h1.0M472.6 547.7h1.0M462.5 561.3h1.0M463.5 563.7h1.0M451.5 557.3h1.0M483.0 536.6h1.0M469.0 548.8h1.0M466.6 549.0h1.0M469.5 564.1h1.0M451.5 568.5h1.0M474.5 563.4h1.0M460.4 553.5h1.0M456.5 562.3h1.0M458.0 560.2h1.0M475.9 548.3h1.0M459.0 565.2h1.0M480.6 538.1h1.0M468.4 550.4h1.0M449.7 566.8h1.0M454.3 565.1h1.0M469.0 553.2h1.0M466.3 556.3h1.0M460.0 561.4h1.0M472.4 549.1h1.0M460.2 555.7h1.0M457.9 568.4h1.0M453.6 563.8h1.0M477.3 547.2h1.0M467.2 554.8h1.0M455.4 568.7h1.0M482.1 530.2h1.0M459.8 562.4h1.0M486.6 552.8h1.0M451.3 566.9h1.0M452.1 564.5h1.0M458.2 563.6h1.0M470.7 553.1h1.0M452.8 562.9h1.0M457.3 561.7h1.0M460.9 549.2h1.0M447.9 566.7h1.0M453.5 570.5h1.0M459.4 564.9h1.0M474.8 557.8h1.0M477.8 548.4h1.0M470.7 548.8h1.0M446.2 572.1h1.0M476.0 551.3h1.0M460.6 567.5h1.0M458.4 565.8h1.0M456.7 561.2h1.0M489.7 534.9h1.0M461.2 561.7h1.0M458.9 563.2h1.0M463.8 559.8h1.0M471.6 553.2h1.0M459.4 552.8h1.0M467.3 556.6h1.0M462.9 555.1h1.0M473.9 558.2h1.0M470.5 545.8h1.0M465.0 563.6h1.0M460.0 558.1h1.0M462.4 563.3h1.0M463.3 558.3h1.0M446.7 571.1h1.0M463.3 568.7h1.0M474.5 551.9h1.0M461.0 562.4h1.0M477.5 544.8h1.0M455.8 568.5h1.0M445.3 564.0h1.0M480.3 547.0h1.0M476.8 550.4h1.0M455.5 554.8h1.0M474.1 548.3h1.0M473.3 549.5h1.0M463.0 564.2h1.0M463.4 539.4h1.0M471.4 542.7h1.0M474.5 553.2h1.0M456.6 564.9h1.0M467.4 560.5h1.0M462.4 558.7h1.0M488.0 535.0h1.0M469.6 554.8h1.0M470.2 543.9h1.0M458.4 561.0h1.0M453.7 566.2h1.0M449.0 568.1h1.0M443.9 572.7h1.0M462.8 557.5h1.0M462.8 534.8h1.0M454.6 566.0h1.0M466.3 574.0h1.0M468.3 562.4h1.0M459.7 560.4h1.0M463.1 552.9h1.0M458.0 559.4h1.0M458.9 566.8h1.0M466.0 549.1h1.0M463.9 553.5h1.0M471.6 549.4h1.0M451.1 565.2h1.0M501.4 534.3h1.0M477.0 548.1h1.0M473.2 550.5h1.0M460.1 563.6h1.0M459.5 562.7h1.0M449.7 561.3h1.0M456.7 561.2h1.0M469.7 557.8h1.0M460.6 557.8h1.0M463.4 542.2h1.0" stroke="#ab1849" stroke-width="1.0" fill="none" opacity="0.8"/>
<rect x="426.6" y="505.3" width="86.4" height="85.9" fill="none" stroke="#333" stroke-width="1.7"/>
<text x="0" y="0" font-size="10.6" stroke="#333" stroke-width="0.22" textLength="13.00" lengthAdjust="spacingAndGlyphs" transform="translate(325.1 453.2) rotate(-90)">FSC</text>
<text x="0" y="0" font-size="10.6" stroke="#333" stroke-width="0.22" textLength="13.20" lengthAdjust="spacingAndGlyphs" transform="translate(325.3 555.0) rotate(-90)">SSC</text>
<text x="374.0" y="603.3" font-size="10.6" text-anchor="middle" stroke="#333" stroke-width="0.22" textLength="12.50" lengthAdjust="spacingAndGlyphs">SFL</text>
<text x="469.4" y="602.8" font-size="10.6" text-anchor="middle" stroke="#333" stroke-width="0.22" textLength="13.30" lengthAdjust="spacingAndGlyphs">FSC</text>
<text x="466.0" y="434.8" font-size="8.1" text-anchor="middle" stroke="#333" stroke-width="0.22" textLength="82.50" lengthAdjust="spacingAndGlyphs">Sysmex PLT-F channel:</text>
<text x="465.3" y="444.8" font-size="8.1" text-anchor="middle" stroke="#333" stroke-width="0.22" textLength="81.10" lengthAdjust="spacingAndGlyphs">- FSC: forward scatter</text>
<text x="458.3" y="454.8" font-size="8.1" text-anchor="middle" stroke="#333" stroke-width="0.22" textLength="67.10" lengthAdjust="spacingAndGlyphs">- SSC: side scatter</text>
<text x="467.7" y="464.8" font-size="8.1" text-anchor="middle" stroke="#333" stroke-width="0.22" textLength="85.90" lengthAdjust="spacingAndGlyphs">- SFL: side fluorescence</text>
<rect x="137.7" y="642" width="5.9" height="5.8" fill="#1d4a7a"/>
<text x="209.35" y="646.9" font-size="7.3" text-anchor="middle" stroke="#333" stroke-width="0.08" textLength="125.40" lengthAdjust="spacingAndGlyphs">Individual with low platelet reactivity</text>
<rect x="279" y="641.9" width="5.7" height="5.8" fill="#c0103a"/>
<text x="351.25" y="646.9" font-size="7.3" text-anchor="middle" stroke="#333" stroke-width="0.08" textLength="127.80" lengthAdjust="spacingAndGlyphs">Individual with high platelet reactivity</text>
<rect x="0.5" y="0.5" width="519" height="655" fill="none" stroke="#4a4a4a" stroke-width="1"/>
</svg>
</div>
</body></html>
